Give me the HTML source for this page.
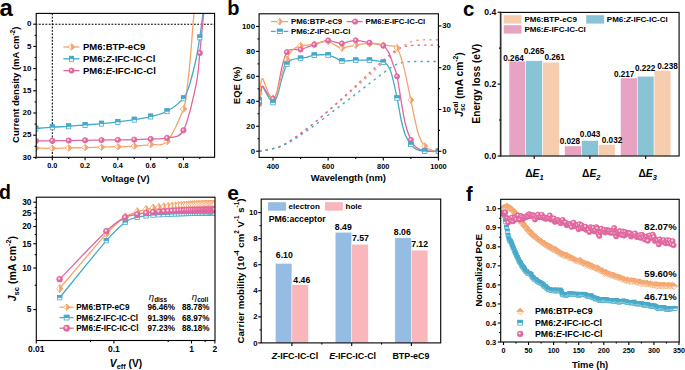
<!DOCTYPE html>
<html><head><meta charset="utf-8"><style>
html,body{margin:0;padding:0;background:#fff;}
svg{display:block;font-family:"Liberation Sans", sans-serif;}
</style></head><body>
<svg width="685" height="370" viewBox="0 0 685 370">
<defs><radialGradient id="gpk" cx="0.4" cy="0.4" r="0.6"><stop offset="0" stop-color="#fff"/><stop offset="0.22" stop-color="#f5bfd7"/><stop offset="0.5" stop-color="#E0679E"/><stop offset="1" stop-color="#E0679E"/></radialGradient><clipPath id="ca"><rect x="36.2" y="13.4" width="178.4" height="143.9"/></clipPath><clipPath id="cb"><rect x="259.1" y="13.8" width="179.3" height="143.6"/></clipPath><clipPath id="cd"><rect x="36.3" y="197.2" width="178.7" height="143.3"/></clipPath><clipPath id="cf"><rect x="500.7" y="199.3" width="178.5" height="142.7"/></clipPath></defs>
<rect width="685" height="370" fill="#fff"/>
<text x="-0.6" y="16.1" font-size="24" text-anchor="start" font-weight="bold" fill="#000">a</text>
<g clip-path="url(#ca)">
<line x1="36.2" y1="24.2" x2="214.6" y2="24.2" stroke="#000" stroke-width="1.05" stroke-dasharray="1.9,1.4" stroke-dashoffset="0.7"/>
<line x1="52.3" y1="13.4" x2="52.3" y2="157.3" stroke="#000" stroke-width="1.05" stroke-dasharray="1.9,1.4"/>
<path d="M35.91,148.08 C38.64,148.11 46.84,148.34 52.3,148.3 C57.76,148.26 63.23,147.97 68.69,147.85 C74.15,147.74 79.62,147.74 85.08,147.63 C90.54,147.52 96.01,147.34 101.47,147.19 C106.93,147.04 112.4,146.93 117.86,146.74 C123.32,146.56 128.79,146.45 134.25,146.08 C139.71,145.71 145.18,145.3 150.64,144.52 C156.1,143.75 161.57,147.34 167.03,141.42 C172.49,135.5 180.02,118.4 183.42,109 C186.82,99.61 186.29,93.2 187.42,85.03 C188.55,76.86 189.26,69.99 190.19,59.99 C191.12,49.98 192.34,33.04 192.99,25 C193.64,16.96 193.89,13.97 194.07,11.77" fill="none" stroke="#F4A46C" stroke-width="1.3" stroke-linecap="butt" stroke-linejoin="round"/>
<path d="M35.91,128.54 C38.64,128.32 46.84,127.58 52.3,127.21 C57.76,126.84 63.23,126.69 68.69,126.32 C74.15,125.95 79.62,125.43 85.08,124.99 C90.54,124.54 96.01,124.17 101.47,123.66 C106.93,123.14 112.4,122.55 117.86,121.88 C123.32,121.21 128.79,120.55 134.25,119.66 C139.71,118.77 145.18,117.96 150.64,116.55 C156.1,115.15 161.57,114.26 167.03,111.22 C172.49,108.19 179.69,102.71 183.42,98.35 C187.15,93.98 187.33,91.42 189.4,85.03 C191.48,78.63 194.14,67.93 195.88,59.99 C197.61,52.05 198.59,45.42 199.81,37.39 C201.03,29.35 202.61,16.04 203.17,11.77" fill="none" stroke="#45A9C8" stroke-width="1.3" stroke-linecap="butt" stroke-linejoin="round"/>
<path d="M35.91,140.97 C38.64,140.94 46.84,140.82 52.3,140.75 C57.76,140.68 63.23,140.6 68.69,140.53 C74.15,140.45 79.62,140.38 85.08,140.31 C90.54,140.23 96.01,140.16 101.47,140.08 C106.93,140.01 112.4,139.94 117.86,139.86 C123.32,139.79 128.79,139.79 134.25,139.64 C139.71,139.49 145.18,139.27 150.64,138.97 C156.1,138.68 161.57,139.31 167.03,137.86 C172.49,136.42 178.59,139.12 183.42,130.32 C188.25,121.51 193.28,97.9 196.01,85.03 C198.74,72.15 198.51,65.27 199.81,53.06 C201.11,40.85 203.16,18.65 203.83,11.77" fill="none" stroke="#E0679E" stroke-width="1.3" stroke-linecap="butt" stroke-linejoin="round"/>
<polygon points="32.51,148.08 35.91,145.08 39.31,148.08 35.91,151.08" fill="#fff" stroke="#F4A46C" stroke-width="0.8"/>
<polygon points="35.91,145.08 39.31,148.08 35.91,151.08" fill="#F4A46C" stroke="#F4A46C" stroke-width="0.8" stroke-linejoin="round"/>
<polygon points="48.9,148.3 52.3,145.3 55.7,148.3 52.3,151.3" fill="#fff" stroke="#F4A46C" stroke-width="0.8"/>
<polygon points="52.3,145.3 55.7,148.3 52.3,151.3" fill="#F4A46C" stroke="#F4A46C" stroke-width="0.8" stroke-linejoin="round"/>
<polygon points="65.29,147.85 68.69,144.85 72.09,147.85 68.69,150.85" fill="#fff" stroke="#F4A46C" stroke-width="0.8"/>
<polygon points="68.69,144.85 72.09,147.85 68.69,150.85" fill="#F4A46C" stroke="#F4A46C" stroke-width="0.8" stroke-linejoin="round"/>
<polygon points="81.68,147.63 85.08,144.63 88.48,147.63 85.08,150.63" fill="#fff" stroke="#F4A46C" stroke-width="0.8"/>
<polygon points="85.08,144.63 88.48,147.63 85.08,150.63" fill="#F4A46C" stroke="#F4A46C" stroke-width="0.8" stroke-linejoin="round"/>
<polygon points="98.07,147.19 101.47,144.19 104.87,147.19 101.47,150.19" fill="#fff" stroke="#F4A46C" stroke-width="0.8"/>
<polygon points="101.47,144.19 104.87,147.19 101.47,150.19" fill="#F4A46C" stroke="#F4A46C" stroke-width="0.8" stroke-linejoin="round"/>
<polygon points="114.46,146.74 117.86,143.74 121.26,146.74 117.86,149.74" fill="#fff" stroke="#F4A46C" stroke-width="0.8"/>
<polygon points="117.86,143.74 121.26,146.74 117.86,149.74" fill="#F4A46C" stroke="#F4A46C" stroke-width="0.8" stroke-linejoin="round"/>
<polygon points="130.85,146.08 134.25,143.08 137.65,146.08 134.25,149.08" fill="#fff" stroke="#F4A46C" stroke-width="0.8"/>
<polygon points="134.25,143.08 137.65,146.08 134.25,149.08" fill="#F4A46C" stroke="#F4A46C" stroke-width="0.8" stroke-linejoin="round"/>
<polygon points="147.24,144.52 150.64,141.52 154.04,144.52 150.64,147.52" fill="#fff" stroke="#F4A46C" stroke-width="0.8"/>
<polygon points="150.64,141.52 154.04,144.52 150.64,147.52" fill="#F4A46C" stroke="#F4A46C" stroke-width="0.8" stroke-linejoin="round"/>
<polygon points="163.63,141.42 167.03,138.42 170.43,141.42 167.03,144.42" fill="#fff" stroke="#F4A46C" stroke-width="0.8"/>
<polygon points="167.03,138.42 170.43,141.42 167.03,144.42" fill="#F4A46C" stroke="#F4A46C" stroke-width="0.8" stroke-linejoin="round"/>
<polygon points="180.02,109 183.42,106 186.82,109 183.42,112" fill="#fff" stroke="#F4A46C" stroke-width="0.8"/>
<polygon points="183.42,106 186.82,109 183.42,112" fill="#F4A46C" stroke="#F4A46C" stroke-width="0.8" stroke-linejoin="round"/>
<rect x="33.81" y="126.04" width="4.2" height="5" fill="#fff" stroke="#45A9C8" stroke-width="0.8"/>
<rect x="33.81" y="126.04" width="4.2" height="2.5" fill="#45A9C8" stroke="#45A9C8" stroke-width="0.8"/>
<rect x="50.2" y="124.71" width="4.2" height="5" fill="#fff" stroke="#45A9C8" stroke-width="0.8"/>
<rect x="50.2" y="124.71" width="4.2" height="2.5" fill="#45A9C8" stroke="#45A9C8" stroke-width="0.8"/>
<rect x="66.59" y="123.82" width="4.2" height="5" fill="#fff" stroke="#45A9C8" stroke-width="0.8"/>
<rect x="66.59" y="123.82" width="4.2" height="2.5" fill="#45A9C8" stroke="#45A9C8" stroke-width="0.8"/>
<rect x="82.98" y="122.49" width="4.2" height="5" fill="#fff" stroke="#45A9C8" stroke-width="0.8"/>
<rect x="82.98" y="122.49" width="4.2" height="2.5" fill="#45A9C8" stroke="#45A9C8" stroke-width="0.8"/>
<rect x="99.37" y="121.16" width="4.2" height="5" fill="#fff" stroke="#45A9C8" stroke-width="0.8"/>
<rect x="99.37" y="121.16" width="4.2" height="2.5" fill="#45A9C8" stroke="#45A9C8" stroke-width="0.8"/>
<rect x="115.76" y="119.38" width="4.2" height="5" fill="#fff" stroke="#45A9C8" stroke-width="0.8"/>
<rect x="115.76" y="119.38" width="4.2" height="2.5" fill="#45A9C8" stroke="#45A9C8" stroke-width="0.8"/>
<rect x="132.15" y="117.16" width="4.2" height="5" fill="#fff" stroke="#45A9C8" stroke-width="0.8"/>
<rect x="132.15" y="117.16" width="4.2" height="2.5" fill="#45A9C8" stroke="#45A9C8" stroke-width="0.8"/>
<rect x="148.54" y="114.05" width="4.2" height="5" fill="#fff" stroke="#45A9C8" stroke-width="0.8"/>
<rect x="148.54" y="114.05" width="4.2" height="2.5" fill="#45A9C8" stroke="#45A9C8" stroke-width="0.8"/>
<rect x="164.93" y="108.72" width="4.2" height="5" fill="#fff" stroke="#45A9C8" stroke-width="0.8"/>
<rect x="164.93" y="108.72" width="4.2" height="2.5" fill="#45A9C8" stroke="#45A9C8" stroke-width="0.8"/>
<rect x="181.32" y="95.85" width="4.2" height="5" fill="#fff" stroke="#45A9C8" stroke-width="0.8"/>
<rect x="181.32" y="95.85" width="4.2" height="2.5" fill="#45A9C8" stroke="#45A9C8" stroke-width="0.8"/>
<rect x="197.71" y="34.89" width="4.2" height="5" fill="#fff" stroke="#45A9C8" stroke-width="0.8"/>
<rect x="197.71" y="34.89" width="4.2" height="2.5" fill="#45A9C8" stroke="#45A9C8" stroke-width="0.8"/>
<circle cx="35.91" cy="140.97" r="2.7" fill="url(#gpk)" stroke="#E0679E" stroke-width="0.7"/>
<circle cx="52.3" cy="140.75" r="2.7" fill="url(#gpk)" stroke="#E0679E" stroke-width="0.7"/>
<circle cx="68.69" cy="140.53" r="2.7" fill="url(#gpk)" stroke="#E0679E" stroke-width="0.7"/>
<circle cx="85.08" cy="140.31" r="2.7" fill="url(#gpk)" stroke="#E0679E" stroke-width="0.7"/>
<circle cx="101.47" cy="140.08" r="2.7" fill="url(#gpk)" stroke="#E0679E" stroke-width="0.7"/>
<circle cx="117.86" cy="139.86" r="2.7" fill="url(#gpk)" stroke="#E0679E" stroke-width="0.7"/>
<circle cx="134.25" cy="139.64" r="2.7" fill="url(#gpk)" stroke="#E0679E" stroke-width="0.7"/>
<circle cx="150.64" cy="138.97" r="2.7" fill="url(#gpk)" stroke="#E0679E" stroke-width="0.7"/>
<circle cx="167.03" cy="137.86" r="2.7" fill="url(#gpk)" stroke="#E0679E" stroke-width="0.7"/>
<circle cx="183.42" cy="130.32" r="2.7" fill="url(#gpk)" stroke="#E0679E" stroke-width="0.7"/>
<circle cx="199.81" cy="53.06" r="2.7" fill="url(#gpk)" stroke="#E0679E" stroke-width="0.7"/>
</g>
<rect x="36.2" y="13.4" width="178.4" height="143.9" fill="none" stroke="#000" stroke-width="1.1"/>
<line x1="33.2" y1="24.2" x2="36.2" y2="24.2" stroke="#000" stroke-width="1.1"/>
<text x="31.4" y="26.4" font-size="8.0" text-anchor="end" font-weight="bold" fill="#000">0</text>
<line x1="33.2" y1="46.4" x2="36.2" y2="46.4" stroke="#000" stroke-width="1.1"/>
<text x="31.4" y="48.6" font-size="8.0" text-anchor="end" font-weight="bold" fill="#000">5</text>
<line x1="33.2" y1="68.6" x2="36.2" y2="68.6" stroke="#000" stroke-width="1.1"/>
<text x="31.4" y="70.8" font-size="8.0" text-anchor="end" font-weight="bold" fill="#000">10</text>
<line x1="33.2" y1="90.8" x2="36.2" y2="90.8" stroke="#000" stroke-width="1.1"/>
<text x="31.4" y="93" font-size="8.0" text-anchor="end" font-weight="bold" fill="#000">15</text>
<line x1="33.2" y1="113" x2="36.2" y2="113" stroke="#000" stroke-width="1.1"/>
<text x="31.4" y="115.2" font-size="8.0" text-anchor="end" font-weight="bold" fill="#000">20</text>
<line x1="33.2" y1="135.2" x2="36.2" y2="135.2" stroke="#000" stroke-width="1.1"/>
<text x="31.4" y="137.4" font-size="8.0" text-anchor="end" font-weight="bold" fill="#000">25</text>
<line x1="33.2" y1="157.4" x2="36.2" y2="157.4" stroke="#000" stroke-width="1.1"/>
<text x="31.4" y="159.6" font-size="8.0" text-anchor="end" font-weight="bold" fill="#000">30</text>
<line x1="34.6" y1="35.3" x2="36.2" y2="35.3" stroke="#000" stroke-width="1.1"/>
<line x1="34.6" y1="57.5" x2="36.2" y2="57.5" stroke="#000" stroke-width="1.1"/>
<line x1="34.6" y1="79.7" x2="36.2" y2="79.7" stroke="#000" stroke-width="1.1"/>
<line x1="34.6" y1="101.9" x2="36.2" y2="101.9" stroke="#000" stroke-width="1.1"/>
<line x1="34.6" y1="124.1" x2="36.2" y2="124.1" stroke="#000" stroke-width="1.1"/>
<line x1="34.6" y1="146.3" x2="36.2" y2="146.3" stroke="#000" stroke-width="1.1"/>
<line x1="52.3" y1="157.3" x2="52.3" y2="160.3" stroke="#000" stroke-width="1.1"/>
<text x="52.3" y="168" font-size="7.3" text-anchor="middle" font-weight="bold" fill="#000">0.0</text>
<line x1="85.08" y1="157.3" x2="85.08" y2="160.3" stroke="#000" stroke-width="1.1"/>
<text x="85.08" y="168" font-size="7.3" text-anchor="middle" font-weight="bold" fill="#000">0.2</text>
<line x1="117.86" y1="157.3" x2="117.86" y2="160.3" stroke="#000" stroke-width="1.1"/>
<text x="117.86" y="168" font-size="7.3" text-anchor="middle" font-weight="bold" fill="#000">0.4</text>
<line x1="150.64" y1="157.3" x2="150.64" y2="160.3" stroke="#000" stroke-width="1.1"/>
<text x="150.64" y="168" font-size="7.3" text-anchor="middle" font-weight="bold" fill="#000">0.6</text>
<line x1="183.42" y1="157.3" x2="183.42" y2="160.3" stroke="#000" stroke-width="1.1"/>
<text x="183.42" y="168" font-size="7.3" text-anchor="middle" font-weight="bold" fill="#000">0.8</text>
<line x1="35.91" y1="157.3" x2="35.91" y2="158.9" stroke="#000" stroke-width="1.1"/>
<line x1="68.69" y1="157.3" x2="68.69" y2="158.9" stroke="#000" stroke-width="1.1"/>
<line x1="101.47" y1="157.3" x2="101.47" y2="158.9" stroke="#000" stroke-width="1.1"/>
<line x1="134.25" y1="157.3" x2="134.25" y2="158.9" stroke="#000" stroke-width="1.1"/>
<line x1="167.03" y1="157.3" x2="167.03" y2="158.9" stroke="#000" stroke-width="1.1"/>
<line x1="199.81" y1="157.3" x2="199.81" y2="158.9" stroke="#000" stroke-width="1.1"/>
<text x="125.4" y="182.3" font-size="9.4" text-anchor="middle" font-weight="bold" fill="#000">Voltage (V)</text>
<text x="19" y="84.8" font-size="9.5" text-anchor="middle" font-weight="bold" fill="#000" transform="rotate(-90 19 84.8)">Current density (mA cm<tspan dy="-4.0" font-size="6.5">-2</tspan><tspan dy="4.0">)</tspan></text>
<line x1="63.4" y1="47" x2="79.5" y2="47" stroke="#F4A46C" stroke-width="1.3"/>
<polygon points="68.1,47 71.5,44 74.9,47 71.5,50" fill="#fff" stroke="#F4A46C" stroke-width="0.8"/>
<polygon points="71.5,44 74.9,47 71.5,50" fill="#F4A46C" stroke="#F4A46C" stroke-width="0.8" stroke-linejoin="round"/>
<text x="83" y="50.4" font-size="9.5" text-anchor="start" font-weight="bold" fill="#000">PM6:BTP-eC9</text>
<line x1="63.4" y1="58.8" x2="79.5" y2="58.8" stroke="#45A9C8" stroke-width="1.3"/>
<rect x="69.4" y="56.3" width="4.2" height="5" fill="#fff" stroke="#45A9C8" stroke-width="0.8"/>
<rect x="69.4" y="56.3" width="4.2" height="2.5" fill="#45A9C8" stroke="#45A9C8" stroke-width="0.8"/>
<text x="83" y="62.2" font-size="9.5" text-anchor="start" font-weight="bold" fill="#000">PM6:<tspan font-style="italic">Z</tspan>-IFC-IC-Cl</text>
<line x1="63.4" y1="70.6" x2="79.5" y2="70.6" stroke="#E0679E" stroke-width="1.3"/>
<circle cx="71.5" cy="70.6" r="2.7" fill="url(#gpk)" stroke="#E0679E" stroke-width="0.7"/>
<text x="83" y="74" font-size="9.5" text-anchor="start" font-weight="bold" fill="#000">PM6:<tspan font-style="italic">E</tspan>-IFC-IC-Cl</text>
<text x="227.2" y="14.6" font-size="20" text-anchor="start" font-weight="bold" fill="#000">b</text>
<g clip-path="url(#cb)">
<polyline points="259.21,151.23 260.87,151 262.52,150.7 264.18,150.37 265.83,150.03 267.49,149.68 269.14,149.33 270.79,148.96 272.45,148.58 274.1,148.17 275.76,147.73 277.41,147.26 279.07,146.71 280.72,146.08 282.37,145.36 284.03,144.57 285.68,143.71 287.34,142.76 288.99,141.77 290.64,140.73 292.3,139.65 293.95,138.53 295.61,137.38 297.26,136.2 298.92,135 300.57,133.76 302.22,132.51 303.88,131.25 305.53,129.98 307.19,128.7 308.84,127.4 310.5,126.1 312.15,124.78 313.8,123.44 315.46,122.1 317.11,120.74 318.77,119.36 320.42,117.97 322.07,116.56 323.73,115.14 325.38,113.71 327.04,112.26 328.69,110.81 330.35,109.36 332,107.92 333.65,106.49 335.31,105.06 336.96,103.65 338.62,102.23 340.27,100.82 341.93,99.42 343.58,98.01 345.23,96.59 346.89,95.16 348.54,93.72 350.2,92.27 351.85,90.82 353.5,89.35 355.16,87.88 356.81,86.4 358.47,84.92 360.12,83.43 361.78,81.94 363.43,80.44 365.08,78.94 366.74,77.45 368.39,75.95 370.05,74.45 371.7,72.95 373.35,71.45 375.01,69.96 376.66,68.46 378.32,66.97 379.97,65.48 381.63,64 383.28,62.52 384.93,61.04 386.59,59.58 388.24,58.13 389.9,56.68 391.55,55.25 393.21,53.84 394.86,52.43 396.51,51.04 398.17,49.69 399.82,48.4 401.48,47.17 403.13,46.01 404.78,44.95 406.44,43.98 408.09,43.11 409.75,42.35 411.4,41.7 413.06,41.17 414.71,40.76 416.36,40.45 418.02,40.22 419.67,40.07 421.33,39.95 422.98,39.87 424.63,39.82 426.29,39.78 427.94,39.75 429.6,39.73 431.25,39.71 432.91,39.71 434.56,39.7 436.21,39.7 437.87,39.69" fill="none" stroke="#F4A46C" stroke-width="1.4" stroke-linejoin="round" stroke-dasharray="2.4,4.1"/>
<polyline points="259.21,151.25 260.87,151.04 262.52,150.77 264.18,150.47 265.83,150.15 267.49,149.82 269.14,149.47 270.79,149.1 272.45,148.72 274.1,148.32 275.76,147.87 277.41,147.37 279.07,146.8 280.72,146.12 282.37,145.34 284.03,144.48 285.68,143.53 287.34,142.5 288.99,141.44 290.64,140.36 292.3,139.25 293.95,138.11 295.61,136.96 297.26,135.79 298.92,134.6 300.57,133.4 302.22,132.17 303.88,130.93 305.53,129.68 307.19,128.41 308.84,127.12 310.5,125.81 312.15,124.49 313.8,123.15 315.46,121.8 317.11,120.42 318.77,119.03 320.42,117.62 322.07,116.2 323.73,114.76 325.38,113.3 327.04,111.83 328.69,110.35 330.35,108.86 332,107.38 333.65,105.89 335.31,104.41 336.96,102.92 338.62,101.44 340.27,99.96 341.93,98.47 343.58,96.98 345.23,95.48 346.89,93.97 348.54,92.45 350.2,90.92 351.85,89.38 353.5,87.83 355.16,86.27 356.81,84.71 358.47,83.15 360.12,81.59 361.78,80.04 363.43,78.49 365.08,76.95 366.74,75.41 368.39,73.87 370.05,72.34 371.7,70.82 373.35,69.29 375.01,67.77 376.66,66.26 378.32,64.75 379.97,63.25 381.63,61.75 383.28,60.26 384.93,58.8 386.59,57.37 388.24,55.98 389.9,54.63 391.55,53.36 393.21,52.15 394.86,51.02 396.51,49.96 398.17,48.99 399.82,48.17 401.48,47.48 403.13,46.91 404.78,46.47 406.44,46.13 408.09,45.86 409.75,45.65 411.4,45.5 413.06,45.39 414.71,45.31 416.36,45.25 418.02,45.22 419.67,45.19 421.33,45.17 422.98,45.16 424.63,45.15 426.29,45.15 427.94,45.14 429.6,45.14 431.25,45.13 432.91,45.13 434.56,45.13 436.21,45.13 437.87,45.13" fill="none" stroke="#E0679E" stroke-width="1.4" stroke-linejoin="round" stroke-dasharray="2.4,4.1"/>
<polyline points="259.21,151.24 260.87,151.03 262.52,150.76 264.18,150.47 265.83,150.16 267.49,149.83 269.14,149.5 270.79,149.16 272.45,148.8 274.1,148.43 275.76,148.02 277.41,147.57 279.07,147.05 280.72,146.46 282.37,145.79 284.03,145.04 285.68,144.22 287.34,143.32 288.99,142.39 290.64,141.43 292.3,140.43 293.95,139.41 295.61,138.38 297.26,137.32 298.92,136.25 300.57,135.15 302.22,134.04 303.88,132.92 305.53,131.79 307.19,130.64 308.84,129.48 310.5,128.31 312.15,127.12 313.8,125.92 315.46,124.71 317.11,123.49 318.77,122.25 320.42,121.01 322.07,119.76 323.73,118.5 325.38,117.23 327.04,115.96 328.69,114.68 330.35,113.4 332,112.13 333.65,110.86 335.31,109.59 336.96,108.33 338.62,107.08 340.27,105.84 341.93,104.6 343.58,103.37 345.23,102.12 346.89,100.88 348.54,99.63 350.2,98.37 351.85,97.11 353.5,95.84 355.16,94.57 356.81,93.29 358.47,92.01 360.12,90.74 361.78,89.46 363.43,88.18 365.08,86.9 366.74,85.63 368.39,84.35 370.05,83.07 371.7,81.8 373.35,80.52 375.01,79.25 376.66,77.98 378.32,76.72 379.97,75.46 381.63,74.2 383.28,72.95 384.93,71.72 386.59,70.51 388.24,69.32 389.9,68.2 391.55,67.12 393.21,66.13 394.86,65.25 396.51,64.46 398.17,63.79 399.82,63.24 401.48,62.8 403.13,62.45 404.78,62.19 406.44,61.99 408.09,61.83 409.75,61.7 411.4,61.61 413.06,61.55 414.71,61.5 416.36,61.47 418.02,61.46 419.67,61.44 421.33,61.44 422.98,61.43 424.63,61.43 426.29,61.43 427.94,61.43 429.6,61.43 431.25,61.43 432.91,61.43 434.56,61.43 436.21,61.43 437.87,61.43" fill="none" stroke="#45A9C8" stroke-width="1.4" stroke-linejoin="round" stroke-dasharray="2.4,4.1"/>
<path d="M259.21,100.05 C259.67,97.87 260.96,88.41 261.97,86.95 C262.98,85.5 264.13,89.55 265.28,91.32 C266.43,93.09 267.58,95.69 268.86,97.56 C270.15,99.43 271.62,102.76 273,102.55 C274.38,102.34 275.67,100.26 277.14,96.31 C278.61,92.36 280.21,84.19 281.82,78.84 C283.43,73.5 285.04,67.47 286.79,64.25 C288.53,61.03 290,60.51 292.3,59.51 C294.6,58.51 298.04,58.68 300.57,58.26 C303.1,57.85 305.16,57.53 307.46,57.01 C309.76,56.49 312.06,55.52 314.36,55.14 C316.65,54.77 318.95,54.79 321.25,54.77 C323.55,54.75 325.84,54.54 328.14,55.02 C330.44,55.5 332.74,56.64 335.03,57.64 C337.33,58.64 339.63,60.49 341.93,61.01 C344.22,61.53 346.52,60.9 348.82,60.76 C351.12,60.61 353.41,60.24 355.71,60.13 C358.01,60.03 360.31,60.13 362.6,60.13 C364.9,60.13 367.2,60.03 369.5,60.13 C371.79,60.24 374.09,60.42 376.39,60.76 C378.69,61.09 381.44,61.4 383.28,62.13 C385.12,62.86 386.04,63.17 387.42,65.12 C388.79,67.08 389.94,68.39 391.55,73.85 C393.16,79.32 395.46,90.24 397.06,97.93 C398.67,105.62 399.82,113.84 401.2,120.01 C402.58,126.19 403.73,130.93 405.34,134.98 C406.94,139.04 409.01,141.95 410.85,144.34 C412.69,146.73 414.07,148.19 416.36,149.33 C418.66,150.47 420.96,150.89 424.63,151.2 C428.31,151.51 436.12,151.2 438.42,151.2" fill="none" stroke="#45A9C8" stroke-width="1.3" stroke-linecap="butt" stroke-linejoin="round"/>
<path d="M259.21,103.79 C259.67,100.95 260.96,88.99 261.97,86.7 C262.98,84.42 264.13,88.68 265.28,90.07 C266.43,91.47 267.58,93.61 268.86,95.06 C270.15,96.52 271.62,99.43 273,98.8 C274.38,98.18 275.67,96.52 277.14,91.32 C278.61,86.12 280.21,74.15 281.82,67.62 C283.43,61.09 285.04,55.16 286.79,52.15 C288.53,49.13 290,49.97 292.3,49.53 C294.6,49.09 298.04,49.94 300.57,49.53 C303.1,49.11 305.16,47.84 307.46,47.03 C309.76,46.22 312.06,45.5 314.36,44.66 C316.65,43.83 318.95,42.75 321.25,42.04 C323.55,41.34 325.84,40.42 328.14,40.42 C330.44,40.42 332.74,41.54 335.03,42.04 C337.33,42.54 339.63,43.48 341.93,43.42 C344.22,43.35 346.52,42.19 348.82,41.67 C351.12,41.15 353.41,40.34 355.71,40.3 C358.01,40.26 360.31,41.02 362.6,41.42 C364.9,41.82 367.2,42.25 369.5,42.67 C371.79,43.08 374.09,43.42 376.39,43.91 C378.69,44.41 381.21,44.21 383.28,45.66 C385.35,47.12 387.19,49.61 388.79,52.65 C390.4,55.68 391.55,59.92 392.93,63.87 C394.31,67.83 395.69,70.11 397.06,76.35 C398.44,82.59 399.82,93.4 401.2,101.3 C402.58,109.2 403.73,117.33 405.34,123.75 C406.94,130.18 409.01,135.9 410.85,139.85 C412.69,143.8 414.07,145.67 416.36,147.46 C418.66,149.25 420.96,149.95 424.63,150.58 C428.31,151.2 436.12,151.1 438.42,151.2" fill="none" stroke="#E0679E" stroke-width="1.3" stroke-linecap="butt" stroke-linejoin="round"/>
<path d="M259.21,93.81 C259.67,91.32 260.96,80.3 261.97,78.84 C262.98,77.39 264.13,82.59 265.28,85.08 C266.43,87.58 267.58,91.63 268.86,93.81 C270.15,96 271.62,98.39 273,98.18 C274.38,97.97 275.67,96.62 277.14,92.57 C278.61,88.51 280.21,79.41 281.82,73.85 C283.43,68.3 285.04,63.21 286.79,59.26 C288.53,55.31 290,52.42 292.3,50.15 C294.6,47.89 298.04,46.49 300.57,45.66 C303.1,44.83 305.16,45.41 307.46,45.16 C309.76,44.91 312.06,44.68 314.36,44.16 C316.65,43.64 318.95,42.5 321.25,42.04 C323.55,41.59 325.84,40.9 328.14,41.42 C330.44,41.94 332.74,44.06 335.03,45.16 C337.33,46.26 339.63,47.82 341.93,48.03 C344.22,48.24 346.52,46.89 348.82,46.41 C351.12,45.93 353.41,45.58 355.71,45.16 C358.01,44.75 360.31,44.16 362.6,43.91 C364.9,43.67 367.2,43.67 369.5,43.67 C371.79,43.67 374.09,43.67 376.39,43.91 C378.69,44.16 380.98,44.85 383.28,45.16 C385.58,45.47 387.88,45.33 390.17,45.79 C392.47,46.24 395,45.1 397.06,47.91 C399.13,50.71 400.97,57.26 402.58,62.63 C404.19,67.99 405.34,73.85 406.71,80.09 C408.09,86.33 409.47,93.4 410.85,100.05 C412.23,106.71 413.61,113.98 414.99,120.01 C416.36,126.04 417.51,131.88 419.12,136.23 C420.73,140.58 422.57,143.76 424.63,146.09 C426.7,148.41 429.23,149.35 431.53,150.2 C433.83,151.05 437.27,151.03 438.42,151.2" fill="none" stroke="#F4A46C" stroke-width="1.3" stroke-linecap="butt" stroke-linejoin="round"/>
<polygon points="256.31,93.81 259.21,90.51 262.11,93.81 259.21,97.11" fill="#fff" stroke="#F4A46C" stroke-width="0.8"/>
<polygon points="259.21,90.51 262.11,93.81 259.21,97.11" fill="#F4A46C" stroke="#F4A46C" stroke-width="0.8" stroke-linejoin="round"/>
<polygon points="270.1,98.18 273,94.88 275.9,98.18 273,101.48" fill="#fff" stroke="#F4A46C" stroke-width="0.8"/>
<polygon points="273,94.88 275.9,98.18 273,101.48" fill="#F4A46C" stroke="#F4A46C" stroke-width="0.8" stroke-linejoin="round"/>
<polygon points="283.89,59.26 286.79,55.96 289.69,59.26 286.79,62.56" fill="#fff" stroke="#F4A46C" stroke-width="0.8"/>
<polygon points="286.79,55.96 289.69,59.26 286.79,62.56" fill="#F4A46C" stroke="#F4A46C" stroke-width="0.8" stroke-linejoin="round"/>
<polygon points="297.67,45.66 300.57,42.36 303.47,45.66 300.57,48.96" fill="#fff" stroke="#F4A46C" stroke-width="0.8"/>
<polygon points="300.57,42.36 303.47,45.66 300.57,48.96" fill="#F4A46C" stroke="#F4A46C" stroke-width="0.8" stroke-linejoin="round"/>
<polygon points="311.46,44.16 314.36,40.86 317.25,44.16 314.36,47.46" fill="#fff" stroke="#F4A46C" stroke-width="0.8"/>
<polygon points="314.36,40.86 317.25,44.16 314.36,47.46" fill="#F4A46C" stroke="#F4A46C" stroke-width="0.8" stroke-linejoin="round"/>
<polygon points="325.24,41.42 328.14,38.12 331.04,41.42 328.14,44.72" fill="#fff" stroke="#F4A46C" stroke-width="0.8"/>
<polygon points="328.14,38.12 331.04,41.42 328.14,44.72" fill="#F4A46C" stroke="#F4A46C" stroke-width="0.8" stroke-linejoin="round"/>
<polygon points="339.03,48.03 341.93,44.73 344.82,48.03 341.93,51.33" fill="#fff" stroke="#F4A46C" stroke-width="0.8"/>
<polygon points="341.93,44.73 344.82,48.03 341.93,51.33" fill="#F4A46C" stroke="#F4A46C" stroke-width="0.8" stroke-linejoin="round"/>
<polygon points="352.81,45.16 355.71,41.86 358.61,45.16 355.71,48.46" fill="#fff" stroke="#F4A46C" stroke-width="0.8"/>
<polygon points="355.71,41.86 358.61,45.16 355.71,48.46" fill="#F4A46C" stroke="#F4A46C" stroke-width="0.8" stroke-linejoin="round"/>
<polygon points="366.6,43.67 369.5,40.37 372.39,43.67 369.5,46.97" fill="#fff" stroke="#F4A46C" stroke-width="0.8"/>
<polygon points="369.5,40.37 372.39,43.67 369.5,46.97" fill="#F4A46C" stroke="#F4A46C" stroke-width="0.8" stroke-linejoin="round"/>
<polygon points="380.38,45.16 383.28,41.86 386.18,45.16 383.28,48.46" fill="#fff" stroke="#F4A46C" stroke-width="0.8"/>
<polygon points="383.28,41.86 386.18,45.16 383.28,48.46" fill="#F4A46C" stroke="#F4A46C" stroke-width="0.8" stroke-linejoin="round"/>
<polygon points="394.17,47.91 397.06,44.61 399.96,47.91 397.06,51.21" fill="#fff" stroke="#F4A46C" stroke-width="0.8"/>
<polygon points="397.06,44.61 399.96,47.91 397.06,51.21" fill="#F4A46C" stroke="#F4A46C" stroke-width="0.8" stroke-linejoin="round"/>
<polygon points="407.95,100.05 410.85,96.75 413.75,100.05 410.85,103.35" fill="#fff" stroke="#F4A46C" stroke-width="0.8"/>
<polygon points="410.85,96.75 413.75,100.05 410.85,103.35" fill="#F4A46C" stroke="#F4A46C" stroke-width="0.8" stroke-linejoin="round"/>
<polygon points="421.74,146.09 424.63,142.79 427.53,146.09 424.63,149.39" fill="#fff" stroke="#F4A46C" stroke-width="0.8"/>
<polygon points="424.63,142.79 427.53,146.09 424.63,149.39" fill="#F4A46C" stroke="#F4A46C" stroke-width="0.8" stroke-linejoin="round"/>
<polygon points="435.52,151.2 438.42,147.9 441.32,151.2 438.42,154.5" fill="#fff" stroke="#F4A46C" stroke-width="0.8"/>
<polygon points="438.42,147.9 441.32,151.2 438.42,154.5" fill="#F4A46C" stroke="#F4A46C" stroke-width="0.8" stroke-linejoin="round"/>
<circle cx="259.21" cy="103.79" r="2.6" fill="url(#gpk)" stroke="#E0679E" stroke-width="0.7"/>
<circle cx="273" cy="98.8" r="2.6" fill="url(#gpk)" stroke="#E0679E" stroke-width="0.7"/>
<circle cx="286.79" cy="52.15" r="2.6" fill="url(#gpk)" stroke="#E0679E" stroke-width="0.7"/>
<circle cx="300.57" cy="49.53" r="2.6" fill="url(#gpk)" stroke="#E0679E" stroke-width="0.7"/>
<circle cx="314.36" cy="44.66" r="2.6" fill="url(#gpk)" stroke="#E0679E" stroke-width="0.7"/>
<circle cx="328.14" cy="40.42" r="2.6" fill="url(#gpk)" stroke="#E0679E" stroke-width="0.7"/>
<circle cx="341.93" cy="43.42" r="2.6" fill="url(#gpk)" stroke="#E0679E" stroke-width="0.7"/>
<circle cx="355.71" cy="40.3" r="2.6" fill="url(#gpk)" stroke="#E0679E" stroke-width="0.7"/>
<circle cx="369.5" cy="42.67" r="2.6" fill="url(#gpk)" stroke="#E0679E" stroke-width="0.7"/>
<circle cx="383.28" cy="45.66" r="2.6" fill="url(#gpk)" stroke="#E0679E" stroke-width="0.7"/>
<circle cx="397.06" cy="76.35" r="2.6" fill="url(#gpk)" stroke="#E0679E" stroke-width="0.7"/>
<circle cx="410.85" cy="139.85" r="2.6" fill="url(#gpk)" stroke="#E0679E" stroke-width="0.7"/>
<circle cx="424.63" cy="150.58" r="2.6" fill="url(#gpk)" stroke="#E0679E" stroke-width="0.7"/>
<circle cx="438.42" cy="151.2" r="2.6" fill="url(#gpk)" stroke="#E0679E" stroke-width="0.7"/>
<rect x="256.91" y="97.75" width="4.6" height="4.6" fill="#fff" stroke="#45A9C8" stroke-width="0.8"/>
<rect x="256.91" y="97.75" width="4.6" height="2.3" fill="#45A9C8" stroke="#45A9C8" stroke-width="0.8"/>
<rect x="270.7" y="100.25" width="4.6" height="4.6" fill="#fff" stroke="#45A9C8" stroke-width="0.8"/>
<rect x="270.7" y="100.25" width="4.6" height="2.3" fill="#45A9C8" stroke="#45A9C8" stroke-width="0.8"/>
<rect x="284.49" y="61.95" width="4.6" height="4.6" fill="#fff" stroke="#45A9C8" stroke-width="0.8"/>
<rect x="284.49" y="61.95" width="4.6" height="2.3" fill="#45A9C8" stroke="#45A9C8" stroke-width="0.8"/>
<rect x="298.27" y="55.96" width="4.6" height="4.6" fill="#fff" stroke="#45A9C8" stroke-width="0.8"/>
<rect x="298.27" y="55.96" width="4.6" height="2.3" fill="#45A9C8" stroke="#45A9C8" stroke-width="0.8"/>
<rect x="312.06" y="52.84" width="4.6" height="4.6" fill="#fff" stroke="#45A9C8" stroke-width="0.8"/>
<rect x="312.06" y="52.84" width="4.6" height="2.3" fill="#45A9C8" stroke="#45A9C8" stroke-width="0.8"/>
<rect x="325.84" y="52.72" width="4.6" height="4.6" fill="#fff" stroke="#45A9C8" stroke-width="0.8"/>
<rect x="325.84" y="52.72" width="4.6" height="2.3" fill="#45A9C8" stroke="#45A9C8" stroke-width="0.8"/>
<rect x="339.62" y="58.71" width="4.6" height="4.6" fill="#fff" stroke="#45A9C8" stroke-width="0.8"/>
<rect x="339.62" y="58.71" width="4.6" height="2.3" fill="#45A9C8" stroke="#45A9C8" stroke-width="0.8"/>
<rect x="353.41" y="57.83" width="4.6" height="4.6" fill="#fff" stroke="#45A9C8" stroke-width="0.8"/>
<rect x="353.41" y="57.83" width="4.6" height="2.3" fill="#45A9C8" stroke="#45A9C8" stroke-width="0.8"/>
<rect x="367.19" y="57.83" width="4.6" height="4.6" fill="#fff" stroke="#45A9C8" stroke-width="0.8"/>
<rect x="367.19" y="57.83" width="4.6" height="2.3" fill="#45A9C8" stroke="#45A9C8" stroke-width="0.8"/>
<rect x="380.98" y="59.83" width="4.6" height="4.6" fill="#fff" stroke="#45A9C8" stroke-width="0.8"/>
<rect x="380.98" y="59.83" width="4.6" height="2.3" fill="#45A9C8" stroke="#45A9C8" stroke-width="0.8"/>
<rect x="394.76" y="95.63" width="4.6" height="4.6" fill="#fff" stroke="#45A9C8" stroke-width="0.8"/>
<rect x="394.76" y="95.63" width="4.6" height="2.3" fill="#45A9C8" stroke="#45A9C8" stroke-width="0.8"/>
<rect x="408.55" y="142.04" width="4.6" height="4.6" fill="#fff" stroke="#45A9C8" stroke-width="0.8"/>
<rect x="408.55" y="142.04" width="4.6" height="2.3" fill="#45A9C8" stroke="#45A9C8" stroke-width="0.8"/>
<rect x="422.33" y="148.9" width="4.6" height="4.6" fill="#fff" stroke="#45A9C8" stroke-width="0.8"/>
<rect x="422.33" y="148.9" width="4.6" height="2.3" fill="#45A9C8" stroke="#45A9C8" stroke-width="0.8"/>
<rect x="436.12" y="148.9" width="4.6" height="4.6" fill="#fff" stroke="#45A9C8" stroke-width="0.8"/>
<rect x="436.12" y="148.9" width="4.6" height="2.3" fill="#45A9C8" stroke="#45A9C8" stroke-width="0.8"/>
</g>
<rect x="259.1" y="13.8" width="179.3" height="143.6" fill="none" stroke="#000" stroke-width="1.1"/>
<line x1="256.1" y1="151.2" x2="259.1" y2="151.2" stroke="#000" stroke-width="1.1"/>
<text x="255" y="153.5" font-size="7.8" text-anchor="end" font-weight="bold" fill="#000">0</text>
<line x1="256.1" y1="126.25" x2="259.1" y2="126.25" stroke="#000" stroke-width="1.1"/>
<text x="255" y="128.55" font-size="7.8" text-anchor="end" font-weight="bold" fill="#000">20</text>
<line x1="256.1" y1="101.3" x2="259.1" y2="101.3" stroke="#000" stroke-width="1.1"/>
<text x="255" y="103.6" font-size="7.8" text-anchor="end" font-weight="bold" fill="#000">40</text>
<line x1="256.1" y1="76.35" x2="259.1" y2="76.35" stroke="#000" stroke-width="1.1"/>
<text x="255" y="78.65" font-size="7.8" text-anchor="end" font-weight="bold" fill="#000">60</text>
<line x1="256.1" y1="51.4" x2="259.1" y2="51.4" stroke="#000" stroke-width="1.1"/>
<text x="255" y="53.7" font-size="7.8" text-anchor="end" font-weight="bold" fill="#000">80</text>
<line x1="256.1" y1="26.45" x2="259.1" y2="26.45" stroke="#000" stroke-width="1.1"/>
<text x="255" y="28.75" font-size="7.8" text-anchor="end" font-weight="bold" fill="#000">100</text>
<line x1="257.5" y1="138.72" x2="259.1" y2="138.72" stroke="#000" stroke-width="1.1"/>
<line x1="257.5" y1="113.77" x2="259.1" y2="113.77" stroke="#000" stroke-width="1.1"/>
<line x1="257.5" y1="88.82" x2="259.1" y2="88.82" stroke="#000" stroke-width="1.1"/>
<line x1="257.5" y1="63.87" x2="259.1" y2="63.87" stroke="#000" stroke-width="1.1"/>
<line x1="257.5" y1="38.92" x2="259.1" y2="38.92" stroke="#000" stroke-width="1.1"/>
<line x1="438.4" y1="151.3" x2="441.4" y2="151.3" stroke="#000" stroke-width="1.1"/>
<text x="442.2" y="153.6" font-size="7.8" text-anchor="start" font-weight="bold" fill="#000">0</text>
<line x1="438.4" y1="109.5" x2="441.4" y2="109.5" stroke="#000" stroke-width="1.1"/>
<text x="442.2" y="111.8" font-size="7.8" text-anchor="start" font-weight="bold" fill="#000">10</text>
<line x1="438.4" y1="67.7" x2="441.4" y2="67.7" stroke="#000" stroke-width="1.1"/>
<text x="442.2" y="70" font-size="7.8" text-anchor="start" font-weight="bold" fill="#000">20</text>
<line x1="438.4" y1="25.9" x2="441.4" y2="25.9" stroke="#000" stroke-width="1.1"/>
<text x="442.2" y="28.2" font-size="7.8" text-anchor="start" font-weight="bold" fill="#000">30</text>
<line x1="438.4" y1="130.4" x2="440" y2="130.4" stroke="#000" stroke-width="1.1"/>
<line x1="438.4" y1="88.6" x2="440" y2="88.6" stroke="#000" stroke-width="1.1"/>
<line x1="438.4" y1="46.8" x2="440" y2="46.8" stroke="#000" stroke-width="1.1"/>
<line x1="273" y1="157.4" x2="273" y2="160.4" stroke="#000" stroke-width="1.1"/>
<text x="273" y="168.7" font-size="7.4" text-anchor="middle" font-weight="bold" fill="#000">400</text>
<line x1="328.14" y1="157.4" x2="328.14" y2="160.4" stroke="#000" stroke-width="1.1"/>
<text x="328.14" y="168.7" font-size="7.4" text-anchor="middle" font-weight="bold" fill="#000">600</text>
<line x1="383.28" y1="157.4" x2="383.28" y2="160.4" stroke="#000" stroke-width="1.1"/>
<text x="383.28" y="168.7" font-size="7.4" text-anchor="middle" font-weight="bold" fill="#000">800</text>
<line x1="438.42" y1="157.4" x2="438.42" y2="160.4" stroke="#000" stroke-width="1.1"/>
<text x="438.42" y="168.7" font-size="7.4" text-anchor="middle" font-weight="bold" fill="#000">1000</text>
<line x1="300.57" y1="157.4" x2="300.57" y2="159" stroke="#000" stroke-width="1.1"/>
<line x1="355.71" y1="157.4" x2="355.71" y2="159" stroke="#000" stroke-width="1.1"/>
<line x1="410.85" y1="157.4" x2="410.85" y2="159" stroke="#000" stroke-width="1.1"/>
<text x="348.3" y="180.6" font-size="9.4" text-anchor="middle" font-weight="bold" fill="#000">Wavelength (nm)</text>
<text x="240.4" y="85.4" font-size="9.5" text-anchor="middle" font-weight="bold" fill="#000" transform="rotate(-90 240.4 85.4)">EQE (%)</text>
<text x="462.6" y="84.5" font-size="10.2" text-anchor="middle" font-weight="bold" fill="#000" transform="rotate(-90 462.6 84.5)"><tspan font-style="italic">J</tspan><tspan dy="2.2" font-size="6.8">sc</tspan><tspan dx="-7.6" dy="-6.8" font-size="6.8">cal</tspan><tspan dy="4.6"> (mA cm</tspan><tspan dy="-4.4" font-size="6.8">-2</tspan><tspan dy="4.4">)</tspan></text>
<line x1="270.9" y1="21.6" x2="288.3" y2="21.6" stroke="#F4A46C" stroke-width="1.3"/>
<polygon points="277,21.6 279.6,18.2 282.2,21.6 279.6,25" fill="#fff" stroke="#F4A46C" stroke-width="0.8"/>
<polygon points="279.6,18.2 282.2,21.6 279.6,25" fill="#F4A46C" stroke="#F4A46C" stroke-width="0.8" stroke-linejoin="round"/>
<text x="291" y="24.4" font-size="7.8" text-anchor="start" font-weight="bold" fill="#000">PM6:BTP-eC9</text>
<line x1="270.9" y1="31.4" x2="275.6" y2="31.4" stroke="#45A9C8" stroke-width="1.3"/>
<line x1="283.6" y1="31.4" x2="288.3" y2="31.4" stroke="#45A9C8" stroke-width="1.3"/>
<rect x="277.3" y="29.2" width="5" height="4.2" fill="#fff" stroke="#45A9C8" stroke-width="0.8"/>
<rect x="277.3" y="29.2" width="5" height="2.1" fill="#45A9C8" stroke="#45A9C8" stroke-width="0.8"/>
<text x="291" y="34.2" font-size="7.8" text-anchor="start" font-weight="bold" fill="#000">PM6:<tspan font-style="italic">Z</tspan>-IFC-IC-Cl</text>
<line x1="346.6" y1="21.6" x2="362.7" y2="21.6" stroke="#E0679E" stroke-width="1.3"/>
<circle cx="355.1" cy="21.6" r="2.7" fill="url(#gpk)" stroke="#E0679E" stroke-width="0.7"/>
<text x="365.5" y="24.4" font-size="7.8" text-anchor="start" font-weight="bold" fill="#000">PM6:<tspan font-style="italic">E</tspan>-IFC-IC-Cl</text>
<text x="463" y="15.5" font-size="20.5" text-anchor="start" font-weight="bold" fill="#000">c</text>
<rect x="509" y="61.09" width="16.8" height="94.91" fill="#E8A3C3" stroke="#fff" stroke-width="0.5"/>
<rect x="525.8" y="60.73" width="16.8" height="95.27" fill="#89C4D6" stroke="#fff" stroke-width="0.5"/>
<rect x="542.6" y="62.17" width="16.8" height="93.83" fill="#F7CDB0" stroke="#fff" stroke-width="0.5"/>
<rect x="564.7" y="145.93" width="16.8" height="10.07" fill="#E8A3C3" stroke="#fff" stroke-width="0.5"/>
<rect x="581.5" y="140.54" width="16.8" height="15.46" fill="#89C4D6" stroke="#fff" stroke-width="0.5"/>
<rect x="598.3" y="144.5" width="16.8" height="11.5" fill="#F7CDB0" stroke="#fff" stroke-width="0.5"/>
<rect x="620.5" y="77.99" width="16.8" height="78.01" fill="#E8A3C3" stroke="#fff" stroke-width="0.5"/>
<rect x="637.3" y="76.19" width="16.8" height="79.81" fill="#89C4D6" stroke="#fff" stroke-width="0.5"/>
<rect x="654.1" y="70.44" width="16.8" height="85.56" fill="#F7CDB0" stroke="#fff" stroke-width="0.5"/>
<rect x="500.6" y="12.4" width="178.5" height="143.6" fill="none" stroke="#000" stroke-width="1.1"/>
<line x1="500.6" y1="11.9" x2="500.6" y2="156.5" stroke="#333" stroke-width="1.6"/>
<line x1="497.6" y1="156" x2="500.6" y2="156" stroke="#000" stroke-width="1.1"/>
<text x="496.3" y="158.9" font-size="8.6" text-anchor="end" font-weight="bold" fill="#000">0.0</text>
<line x1="497.6" y1="84.1" x2="500.6" y2="84.1" stroke="#000" stroke-width="1.1"/>
<text x="496.3" y="87" font-size="8.6" text-anchor="end" font-weight="bold" fill="#000">0.2</text>
<line x1="497.6" y1="12.2" x2="500.6" y2="12.2" stroke="#000" stroke-width="1.1"/>
<text x="496.3" y="15.1" font-size="8.6" text-anchor="end" font-weight="bold" fill="#000">0.4</text>
<line x1="499" y1="120.05" x2="500.6" y2="120.05" stroke="#000" stroke-width="1.1"/>
<line x1="499" y1="48.15" x2="500.6" y2="48.15" stroke="#000" stroke-width="1.1"/>
<line x1="534.2" y1="156" x2="534.2" y2="159" stroke="#000" stroke-width="1.1"/>
<line x1="589.9" y1="156" x2="589.9" y2="159" stroke="#000" stroke-width="1.1"/>
<line x1="645.7" y1="156" x2="645.7" y2="159" stroke="#000" stroke-width="1.1"/>
<text x="513.5" y="60.6" font-size="8.2" text-anchor="middle" font-weight="bold" fill="#000">0.264</text>
<text x="534" y="54.1" font-size="8.2" text-anchor="middle" font-weight="bold" fill="#000">0.265</text>
<text x="554.7" y="60" font-size="8.2" text-anchor="middle" font-weight="bold" fill="#000">0.261</text>
<text x="569.9" y="143.7" font-size="8.2" text-anchor="middle" font-weight="bold" fill="#000">0.028</text>
<text x="590.1" y="137.1" font-size="8.2" text-anchor="middle" font-weight="bold" fill="#000">0.043</text>
<text x="612" y="143.2" font-size="8.2" text-anchor="middle" font-weight="bold" fill="#000">0.032</text>
<text x="624.2" y="77.2" font-size="8.2" text-anchor="middle" font-weight="bold" fill="#000">0.217</text>
<text x="645.2" y="71.2" font-size="8.2" text-anchor="middle" font-weight="bold" fill="#000">0.222</text>
<text x="667.5" y="68.5" font-size="8.2" text-anchor="middle" font-weight="bold" fill="#000">0.238</text>
<text x="534.4" y="177.1" font-size="10.3" text-anchor="middle" font-weight="bold" fill="#000">Δ<tspan font-style="italic">E</tspan><tspan font-style="italic" dy="2.6" font-size="7.4">1</tspan></text>
<text x="591.2" y="177.1" font-size="10.3" text-anchor="middle" font-weight="bold" fill="#000">Δ<tspan font-style="italic">E</tspan><tspan font-style="italic" dy="2.6" font-size="7.4">2</tspan></text>
<text x="647.6" y="177.1" font-size="10.3" text-anchor="middle" font-weight="bold" fill="#000">Δ<tspan font-style="italic">E</tspan><tspan font-style="italic" dy="2.6" font-size="7.4">3</tspan></text>
<text x="480.4" y="83.7" font-size="10.2" text-anchor="middle" font-weight="bold" fill="#000" transform="rotate(-90 480.4 83.7)">Energy loss (eV)</text>
<rect x="503.7" y="15.2" width="17.8" height="8.4" fill="#F7CDB0"/>
<text x="524.4" y="22.4" font-size="8" text-anchor="start" font-weight="bold" fill="#000">PM6:BTP-eC9</text>
<rect x="503.7" y="25.2" width="17.8" height="8.4" fill="#E8A3C3"/>
<text x="524.4" y="32.4" font-size="8" text-anchor="start" font-weight="bold" fill="#000">PM6:<tspan font-style="italic">E</tspan>-IFC-IC-Cl</text>
<rect x="586.2" y="15.2" width="17.9" height="8.4" fill="#89C4D6"/>
<text x="606.8" y="22.4" font-size="8" text-anchor="start" font-weight="bold" fill="#000">PM6:<tspan font-style="italic">Z</tspan>-IFC-IC-Cl</text>
<text x="-1" y="198.7" font-size="19.5" text-anchor="start" font-weight="bold" fill="#000">d</text>
<g clip-path="url(#cd)">
<path d="M59.66,297.66 C67.45,288.16 95.45,253.21 106.38,240.62 C117.31,228.04 120.09,226.04 125.24,222.16 C130.39,218.28 133.78,218.4 137.26,217.34 C140.74,216.29 143.46,216.2 146.1,215.82 C148.74,215.44 150.97,215.25 153.1,215.07 C155.23,214.89 157.1,214.86 158.89,214.76 C160.68,214.66 162.29,214.58 163.83,214.5 C165.37,214.42 166.79,214.35 168.14,214.28 C169.49,214.21 170.75,214.15 171.96,214.1 C173.17,214.04 174.3,213.99 175.39,213.94 C176.48,213.89 177.51,213.85 178.5,213.81 C179.5,213.77 180.44,213.74 181.35,213.7 C182.27,213.67 183.14,213.64 183.98,213.61 C184.82,213.58 185.63,213.56 186.42,213.53 C187.2,213.51 187.96,213.49 188.69,213.47 C189.42,213.45 190.13,213.43 190.82,213.41 C191.51,213.4 192.17,213.38 192.82,213.37 C193.47,213.35 194.1,213.34 194.71,213.33 C195.33,213.32 195.92,213.31 196.5,213.3 C197.08,213.29 197.65,213.28 198.2,213.27 C198.75,213.26 199.29,213.25 199.82,213.25 C200.35,213.24 200.86,213.23 201.36,213.23 C201.87,213.22 202.36,213.22 202.84,213.21 C203.32,213.2 203.79,213.2 204.25,213.2 C204.72,213.19 205.17,213.19 205.61,213.18 C206.05,213.18 206.49,213.18 206.92,213.17 C207.34,213.17 207.76,213.17 208.17,213.17 C208.58,213.16 208.99,213.16 209.38,213.16 C209.78,213.16 210.17,213.16 210.55,213.15 C210.93,213.15 211.31,213.15 211.68,213.15 C212.05,213.15 212.42,213.15 212.77,213.14 C213.13,213.14 213.49,213.14 213.83,213.14 C214.18,213.14 214.69,213.14 214.86,213.14" fill="none" stroke="#45A9C8" stroke-width="1.3" stroke-linecap="butt" stroke-linejoin="round"/>
<path d="M59.66,288.56 C67.45,279.44 95.45,245.77 106.38,233.82 C117.31,221.86 120.09,220.52 125.24,216.83 C130.39,213.14 133.78,212.94 137.26,211.7 C140.74,210.46 143.46,210.01 146.1,209.4 C148.74,208.8 150.97,208.39 153.1,208.07 C155.23,207.74 157.1,207.64 158.89,207.45 C160.68,207.26 162.29,207.09 163.83,206.93 C165.37,206.77 166.79,206.63 168.14,206.49 C169.49,206.36 170.75,206.24 171.96,206.13 C173.17,206.02 174.3,205.92 175.39,205.83 C176.48,205.73 177.51,205.65 178.5,205.57 C179.5,205.49 180.44,205.42 181.35,205.36 C182.27,205.29 183.14,205.23 183.98,205.18 C184.82,205.12 185.63,205.07 186.42,205.03 C187.2,204.98 187.96,204.94 188.69,204.9 C189.42,204.86 190.13,204.83 190.82,204.79 C191.51,204.76 192.17,204.73 192.82,204.7 C193.47,204.68 194.1,204.65 194.71,204.63 C195.33,204.61 195.92,204.58 196.5,204.57 C197.08,204.55 197.65,204.53 198.2,204.51 C198.75,204.5 199.29,204.48 199.82,204.47 C200.35,204.45 200.86,204.44 201.36,204.43 C201.87,204.42 202.36,204.41 202.84,204.4 C203.32,204.39 203.79,204.38 204.25,204.37 C204.72,204.36 205.17,204.35 205.61,204.35 C206.05,204.34 206.49,204.33 206.92,204.33 C207.34,204.32 207.76,204.32 208.17,204.31 C208.58,204.31 208.99,204.3 209.38,204.3 C209.78,204.3 210.17,204.29 210.55,204.29 C210.93,204.28 211.31,204.28 211.68,204.28 C212.05,204.28 212.42,204.27 212.77,204.27 C213.13,204.27 213.49,204.27 213.83,204.26 C214.18,204.26 214.69,204.26 214.86,204.26" fill="none" stroke="#F4A46C" stroke-width="1.3" stroke-linecap="butt" stroke-linejoin="round"/>
<path d="M59.66,279.21 C67.45,271.2 95.45,241.48 106.38,231.17 C117.31,220.86 120.09,220.15 125.24,217.34 C130.39,214.54 133.78,215.08 137.26,214.33 C140.74,213.59 143.46,213.28 146.1,212.88 C148.74,212.48 150.97,212.15 153.1,211.94 C155.23,211.72 157.1,211.68 158.89,211.57 C160.68,211.45 162.29,211.35 163.83,211.26 C165.37,211.16 166.79,211.08 168.14,211 C169.49,210.92 170.75,210.85 171.96,210.78 C173.17,210.71 174.3,210.65 175.39,210.6 C176.48,210.54 177.51,210.49 178.5,210.44 C179.5,210.4 180.44,210.35 181.35,210.32 C182.27,210.28 183.14,210.24 183.98,210.21 C184.82,210.17 185.63,210.14 186.42,210.12 C187.2,210.09 187.96,210.06 188.69,210.04 C189.42,210.02 190.13,209.99 190.82,209.97 C191.51,209.95 192.17,209.94 192.82,209.92 C193.47,209.9 194.1,209.89 194.71,209.87 C195.33,209.86 195.92,209.85 196.5,209.84 C197.08,209.82 197.65,209.81 198.2,209.8 C198.75,209.79 199.29,209.78 199.82,209.78 C200.35,209.77 200.86,209.76 201.36,209.75 C201.87,209.75 202.36,209.74 202.84,209.73 C203.32,209.73 203.79,209.72 204.25,209.72 C204.72,209.71 205.17,209.71 205.61,209.7 C206.05,209.7 206.49,209.7 206.92,209.69 C207.34,209.69 207.76,209.69 208.17,209.68 C208.58,209.68 208.99,209.68 209.38,209.67 C209.78,209.67 210.17,209.67 210.55,209.67 C210.93,209.66 211.31,209.66 211.68,209.66 C212.05,209.66 212.42,209.66 212.77,209.66 C213.13,209.65 213.49,209.65 213.83,209.65 C214.18,209.65 214.69,209.65 214.86,209.65" fill="none" stroke="#E0679E" stroke-width="1.3" stroke-linecap="butt" stroke-linejoin="round"/>
<rect x="57.46" y="295.46" width="4.4" height="4.4" fill="#fff" stroke="#45A9C8" stroke-width="0.8"/>
<rect x="57.46" y="295.46" width="4.4" height="2.2" fill="#45A9C8" stroke="#45A9C8" stroke-width="0.8"/>
<rect x="104.18" y="238.42" width="4.4" height="4.4" fill="#fff" stroke="#45A9C8" stroke-width="0.8"/>
<rect x="104.18" y="238.42" width="4.4" height="2.2" fill="#45A9C8" stroke="#45A9C8" stroke-width="0.8"/>
<rect x="123.04" y="219.96" width="4.4" height="4.4" fill="#fff" stroke="#45A9C8" stroke-width="0.8"/>
<rect x="123.04" y="219.96" width="4.4" height="2.2" fill="#45A9C8" stroke="#45A9C8" stroke-width="0.8"/>
<rect x="135.06" y="215.14" width="4.4" height="4.4" fill="#fff" stroke="#45A9C8" stroke-width="0.8"/>
<rect x="135.06" y="215.14" width="4.4" height="2.2" fill="#45A9C8" stroke="#45A9C8" stroke-width="0.8"/>
<rect x="143.9" y="213.62" width="4.4" height="4.4" fill="#fff" stroke="#45A9C8" stroke-width="0.8"/>
<rect x="143.9" y="213.62" width="4.4" height="2.2" fill="#45A9C8" stroke="#45A9C8" stroke-width="0.8"/>
<rect x="150.9" y="212.87" width="4.4" height="4.4" fill="#fff" stroke="#45A9C8" stroke-width="0.8"/>
<rect x="150.9" y="212.87" width="4.4" height="2.2" fill="#45A9C8" stroke="#45A9C8" stroke-width="0.8"/>
<rect x="156.69" y="212.56" width="4.4" height="4.4" fill="#fff" stroke="#45A9C8" stroke-width="0.8"/>
<rect x="156.69" y="212.56" width="4.4" height="2.2" fill="#45A9C8" stroke="#45A9C8" stroke-width="0.8"/>
<rect x="161.63" y="212.3" width="4.4" height="4.4" fill="#fff" stroke="#45A9C8" stroke-width="0.8"/>
<rect x="161.63" y="212.3" width="4.4" height="2.2" fill="#45A9C8" stroke="#45A9C8" stroke-width="0.8"/>
<rect x="165.94" y="212.08" width="4.4" height="4.4" fill="#fff" stroke="#45A9C8" stroke-width="0.8"/>
<rect x="165.94" y="212.08" width="4.4" height="2.2" fill="#45A9C8" stroke="#45A9C8" stroke-width="0.8"/>
<rect x="169.76" y="211.9" width="4.4" height="4.4" fill="#fff" stroke="#45A9C8" stroke-width="0.8"/>
<rect x="169.76" y="211.9" width="4.4" height="2.2" fill="#45A9C8" stroke="#45A9C8" stroke-width="0.8"/>
<rect x="173.19" y="211.74" width="4.4" height="4.4" fill="#fff" stroke="#45A9C8" stroke-width="0.8"/>
<rect x="173.19" y="211.74" width="4.4" height="2.2" fill="#45A9C8" stroke="#45A9C8" stroke-width="0.8"/>
<rect x="176.3" y="211.61" width="4.4" height="4.4" fill="#fff" stroke="#45A9C8" stroke-width="0.8"/>
<rect x="176.3" y="211.61" width="4.4" height="2.2" fill="#45A9C8" stroke="#45A9C8" stroke-width="0.8"/>
<rect x="179.15" y="211.5" width="4.4" height="4.4" fill="#fff" stroke="#45A9C8" stroke-width="0.8"/>
<rect x="179.15" y="211.5" width="4.4" height="2.2" fill="#45A9C8" stroke="#45A9C8" stroke-width="0.8"/>
<rect x="181.78" y="211.41" width="4.4" height="4.4" fill="#fff" stroke="#45A9C8" stroke-width="0.8"/>
<rect x="181.78" y="211.41" width="4.4" height="2.2" fill="#45A9C8" stroke="#45A9C8" stroke-width="0.8"/>
<rect x="184.22" y="211.33" width="4.4" height="4.4" fill="#fff" stroke="#45A9C8" stroke-width="0.8"/>
<rect x="184.22" y="211.33" width="4.4" height="2.2" fill="#45A9C8" stroke="#45A9C8" stroke-width="0.8"/>
<rect x="186.49" y="211.27" width="4.4" height="4.4" fill="#fff" stroke="#45A9C8" stroke-width="0.8"/>
<rect x="186.49" y="211.27" width="4.4" height="2.2" fill="#45A9C8" stroke="#45A9C8" stroke-width="0.8"/>
<rect x="188.62" y="211.21" width="4.4" height="4.4" fill="#fff" stroke="#45A9C8" stroke-width="0.8"/>
<rect x="188.62" y="211.21" width="4.4" height="2.2" fill="#45A9C8" stroke="#45A9C8" stroke-width="0.8"/>
<rect x="190.62" y="211.17" width="4.4" height="4.4" fill="#fff" stroke="#45A9C8" stroke-width="0.8"/>
<rect x="190.62" y="211.17" width="4.4" height="2.2" fill="#45A9C8" stroke="#45A9C8" stroke-width="0.8"/>
<rect x="192.51" y="211.13" width="4.4" height="4.4" fill="#fff" stroke="#45A9C8" stroke-width="0.8"/>
<rect x="192.51" y="211.13" width="4.4" height="2.2" fill="#45A9C8" stroke="#45A9C8" stroke-width="0.8"/>
<rect x="194.3" y="211.1" width="4.4" height="4.4" fill="#fff" stroke="#45A9C8" stroke-width="0.8"/>
<rect x="194.3" y="211.1" width="4.4" height="2.2" fill="#45A9C8" stroke="#45A9C8" stroke-width="0.8"/>
<rect x="196" y="211.07" width="4.4" height="4.4" fill="#fff" stroke="#45A9C8" stroke-width="0.8"/>
<rect x="196" y="211.07" width="4.4" height="2.2" fill="#45A9C8" stroke="#45A9C8" stroke-width="0.8"/>
<rect x="197.62" y="211.05" width="4.4" height="4.4" fill="#fff" stroke="#45A9C8" stroke-width="0.8"/>
<rect x="197.62" y="211.05" width="4.4" height="2.2" fill="#45A9C8" stroke="#45A9C8" stroke-width="0.8"/>
<rect x="199.16" y="211.03" width="4.4" height="4.4" fill="#fff" stroke="#45A9C8" stroke-width="0.8"/>
<rect x="199.16" y="211.03" width="4.4" height="2.2" fill="#45A9C8" stroke="#45A9C8" stroke-width="0.8"/>
<rect x="200.64" y="211.01" width="4.4" height="4.4" fill="#fff" stroke="#45A9C8" stroke-width="0.8"/>
<rect x="200.64" y="211.01" width="4.4" height="2.2" fill="#45A9C8" stroke="#45A9C8" stroke-width="0.8"/>
<rect x="202.05" y="211" width="4.4" height="4.4" fill="#fff" stroke="#45A9C8" stroke-width="0.8"/>
<rect x="202.05" y="211" width="4.4" height="2.2" fill="#45A9C8" stroke="#45A9C8" stroke-width="0.8"/>
<rect x="203.41" y="210.98" width="4.4" height="4.4" fill="#fff" stroke="#45A9C8" stroke-width="0.8"/>
<rect x="203.41" y="210.98" width="4.4" height="2.2" fill="#45A9C8" stroke="#45A9C8" stroke-width="0.8"/>
<rect x="204.72" y="210.97" width="4.4" height="4.4" fill="#fff" stroke="#45A9C8" stroke-width="0.8"/>
<rect x="204.72" y="210.97" width="4.4" height="2.2" fill="#45A9C8" stroke="#45A9C8" stroke-width="0.8"/>
<rect x="205.97" y="210.97" width="4.4" height="4.4" fill="#fff" stroke="#45A9C8" stroke-width="0.8"/>
<rect x="205.97" y="210.97" width="4.4" height="2.2" fill="#45A9C8" stroke="#45A9C8" stroke-width="0.8"/>
<rect x="207.18" y="210.96" width="4.4" height="4.4" fill="#fff" stroke="#45A9C8" stroke-width="0.8"/>
<rect x="207.18" y="210.96" width="4.4" height="2.2" fill="#45A9C8" stroke="#45A9C8" stroke-width="0.8"/>
<rect x="208.35" y="210.95" width="4.4" height="4.4" fill="#fff" stroke="#45A9C8" stroke-width="0.8"/>
<rect x="208.35" y="210.95" width="4.4" height="2.2" fill="#45A9C8" stroke="#45A9C8" stroke-width="0.8"/>
<rect x="209.48" y="210.95" width="4.4" height="4.4" fill="#fff" stroke="#45A9C8" stroke-width="0.8"/>
<rect x="209.48" y="210.95" width="4.4" height="2.2" fill="#45A9C8" stroke="#45A9C8" stroke-width="0.8"/>
<rect x="210.57" y="210.94" width="4.4" height="4.4" fill="#fff" stroke="#45A9C8" stroke-width="0.8"/>
<rect x="210.57" y="210.94" width="4.4" height="2.2" fill="#45A9C8" stroke="#45A9C8" stroke-width="0.8"/>
<rect x="211.63" y="210.94" width="4.4" height="4.4" fill="#fff" stroke="#45A9C8" stroke-width="0.8"/>
<rect x="211.63" y="210.94" width="4.4" height="2.2" fill="#45A9C8" stroke="#45A9C8" stroke-width="0.8"/>
<rect x="212.66" y="210.94" width="4.4" height="4.4" fill="#fff" stroke="#45A9C8" stroke-width="0.8"/>
<rect x="212.66" y="210.94" width="4.4" height="2.2" fill="#45A9C8" stroke="#45A9C8" stroke-width="0.8"/>
<polygon points="56.66,288.56 59.66,284.56 62.66,288.56 59.66,292.56" fill="#fff" stroke="#F4A46C" stroke-width="0.8"/>
<polygon points="59.66,284.56 62.66,288.56 59.66,292.56" fill="#F4A46C" stroke="#F4A46C" stroke-width="0.8" stroke-linejoin="round"/>
<polygon points="103.38,233.82 106.38,229.82 109.38,233.82 106.38,237.82" fill="#fff" stroke="#F4A46C" stroke-width="0.8"/>
<polygon points="106.38,229.82 109.38,233.82 106.38,237.82" fill="#F4A46C" stroke="#F4A46C" stroke-width="0.8" stroke-linejoin="round"/>
<polygon points="122.24,216.83 125.24,212.83 128.24,216.83 125.24,220.83" fill="#fff" stroke="#F4A46C" stroke-width="0.8"/>
<polygon points="125.24,212.83 128.24,216.83 125.24,220.83" fill="#F4A46C" stroke="#F4A46C" stroke-width="0.8" stroke-linejoin="round"/>
<polygon points="134.26,211.7 137.26,207.7 140.26,211.7 137.26,215.7" fill="#fff" stroke="#F4A46C" stroke-width="0.8"/>
<polygon points="137.26,207.7 140.26,211.7 137.26,215.7" fill="#F4A46C" stroke="#F4A46C" stroke-width="0.8" stroke-linejoin="round"/>
<polygon points="143.1,209.4 146.1,205.4 149.1,209.4 146.1,213.4" fill="#fff" stroke="#F4A46C" stroke-width="0.8"/>
<polygon points="146.1,205.4 149.1,209.4 146.1,213.4" fill="#F4A46C" stroke="#F4A46C" stroke-width="0.8" stroke-linejoin="round"/>
<polygon points="150.1,208.07 153.1,204.07 156.1,208.07 153.1,212.07" fill="#fff" stroke="#F4A46C" stroke-width="0.8"/>
<polygon points="153.1,204.07 156.1,208.07 153.1,212.07" fill="#F4A46C" stroke="#F4A46C" stroke-width="0.8" stroke-linejoin="round"/>
<polygon points="155.89,207.45 158.89,203.45 161.89,207.45 158.89,211.45" fill="#fff" stroke="#F4A46C" stroke-width="0.8"/>
<polygon points="158.89,203.45 161.89,207.45 158.89,211.45" fill="#F4A46C" stroke="#F4A46C" stroke-width="0.8" stroke-linejoin="round"/>
<polygon points="160.83,206.93 163.83,202.93 166.83,206.93 163.83,210.93" fill="#fff" stroke="#F4A46C" stroke-width="0.8"/>
<polygon points="163.83,202.93 166.83,206.93 163.83,210.93" fill="#F4A46C" stroke="#F4A46C" stroke-width="0.8" stroke-linejoin="round"/>
<polygon points="165.14,206.49 168.14,202.49 171.14,206.49 168.14,210.49" fill="#fff" stroke="#F4A46C" stroke-width="0.8"/>
<polygon points="168.14,202.49 171.14,206.49 168.14,210.49" fill="#F4A46C" stroke="#F4A46C" stroke-width="0.8" stroke-linejoin="round"/>
<polygon points="168.96,206.13 171.96,202.13 174.96,206.13 171.96,210.13" fill="#fff" stroke="#F4A46C" stroke-width="0.8"/>
<polygon points="171.96,202.13 174.96,206.13 171.96,210.13" fill="#F4A46C" stroke="#F4A46C" stroke-width="0.8" stroke-linejoin="round"/>
<polygon points="172.39,205.83 175.39,201.83 178.39,205.83 175.39,209.83" fill="#fff" stroke="#F4A46C" stroke-width="0.8"/>
<polygon points="175.39,201.83 178.39,205.83 175.39,209.83" fill="#F4A46C" stroke="#F4A46C" stroke-width="0.8" stroke-linejoin="round"/>
<polygon points="175.5,205.57 178.5,201.57 181.5,205.57 178.5,209.57" fill="#fff" stroke="#F4A46C" stroke-width="0.8"/>
<polygon points="178.5,201.57 181.5,205.57 178.5,209.57" fill="#F4A46C" stroke="#F4A46C" stroke-width="0.8" stroke-linejoin="round"/>
<polygon points="178.35,205.36 181.35,201.36 184.35,205.36 181.35,209.36" fill="#fff" stroke="#F4A46C" stroke-width="0.8"/>
<polygon points="181.35,201.36 184.35,205.36 181.35,209.36" fill="#F4A46C" stroke="#F4A46C" stroke-width="0.8" stroke-linejoin="round"/>
<polygon points="180.98,205.18 183.98,201.18 186.98,205.18 183.98,209.18" fill="#fff" stroke="#F4A46C" stroke-width="0.8"/>
<polygon points="183.98,201.18 186.98,205.18 183.98,209.18" fill="#F4A46C" stroke="#F4A46C" stroke-width="0.8" stroke-linejoin="round"/>
<polygon points="183.42,205.03 186.42,201.03 189.42,205.03 186.42,209.03" fill="#fff" stroke="#F4A46C" stroke-width="0.8"/>
<polygon points="186.42,201.03 189.42,205.03 186.42,209.03" fill="#F4A46C" stroke="#F4A46C" stroke-width="0.8" stroke-linejoin="round"/>
<polygon points="185.69,204.9 188.69,200.9 191.69,204.9 188.69,208.9" fill="#fff" stroke="#F4A46C" stroke-width="0.8"/>
<polygon points="188.69,200.9 191.69,204.9 188.69,208.9" fill="#F4A46C" stroke="#F4A46C" stroke-width="0.8" stroke-linejoin="round"/>
<polygon points="187.82,204.79 190.82,200.79 193.82,204.79 190.82,208.79" fill="#fff" stroke="#F4A46C" stroke-width="0.8"/>
<polygon points="190.82,200.79 193.82,204.79 190.82,208.79" fill="#F4A46C" stroke="#F4A46C" stroke-width="0.8" stroke-linejoin="round"/>
<polygon points="189.82,204.7 192.82,200.7 195.82,204.7 192.82,208.7" fill="#fff" stroke="#F4A46C" stroke-width="0.8"/>
<polygon points="192.82,200.7 195.82,204.7 192.82,208.7" fill="#F4A46C" stroke="#F4A46C" stroke-width="0.8" stroke-linejoin="round"/>
<polygon points="191.71,204.63 194.71,200.63 197.71,204.63 194.71,208.63" fill="#fff" stroke="#F4A46C" stroke-width="0.8"/>
<polygon points="194.71,200.63 197.71,204.63 194.71,208.63" fill="#F4A46C" stroke="#F4A46C" stroke-width="0.8" stroke-linejoin="round"/>
<polygon points="193.5,204.57 196.5,200.57 199.5,204.57 196.5,208.57" fill="#fff" stroke="#F4A46C" stroke-width="0.8"/>
<polygon points="196.5,200.57 199.5,204.57 196.5,208.57" fill="#F4A46C" stroke="#F4A46C" stroke-width="0.8" stroke-linejoin="round"/>
<polygon points="195.2,204.51 198.2,200.51 201.2,204.51 198.2,208.51" fill="#fff" stroke="#F4A46C" stroke-width="0.8"/>
<polygon points="198.2,200.51 201.2,204.51 198.2,208.51" fill="#F4A46C" stroke="#F4A46C" stroke-width="0.8" stroke-linejoin="round"/>
<polygon points="196.82,204.47 199.82,200.47 202.82,204.47 199.82,208.47" fill="#fff" stroke="#F4A46C" stroke-width="0.8"/>
<polygon points="199.82,200.47 202.82,204.47 199.82,208.47" fill="#F4A46C" stroke="#F4A46C" stroke-width="0.8" stroke-linejoin="round"/>
<polygon points="198.36,204.43 201.36,200.43 204.36,204.43 201.36,208.43" fill="#fff" stroke="#F4A46C" stroke-width="0.8"/>
<polygon points="201.36,200.43 204.36,204.43 201.36,208.43" fill="#F4A46C" stroke="#F4A46C" stroke-width="0.8" stroke-linejoin="round"/>
<polygon points="199.84,204.4 202.84,200.4 205.84,204.4 202.84,208.4" fill="#fff" stroke="#F4A46C" stroke-width="0.8"/>
<polygon points="202.84,200.4 205.84,204.4 202.84,208.4" fill="#F4A46C" stroke="#F4A46C" stroke-width="0.8" stroke-linejoin="round"/>
<polygon points="201.25,204.37 204.25,200.37 207.25,204.37 204.25,208.37" fill="#fff" stroke="#F4A46C" stroke-width="0.8"/>
<polygon points="204.25,200.37 207.25,204.37 204.25,208.37" fill="#F4A46C" stroke="#F4A46C" stroke-width="0.8" stroke-linejoin="round"/>
<polygon points="202.61,204.35 205.61,200.35 208.61,204.35 205.61,208.35" fill="#fff" stroke="#F4A46C" stroke-width="0.8"/>
<polygon points="205.61,200.35 208.61,204.35 205.61,208.35" fill="#F4A46C" stroke="#F4A46C" stroke-width="0.8" stroke-linejoin="round"/>
<polygon points="203.92,204.33 206.92,200.33 209.92,204.33 206.92,208.33" fill="#fff" stroke="#F4A46C" stroke-width="0.8"/>
<polygon points="206.92,200.33 209.92,204.33 206.92,208.33" fill="#F4A46C" stroke="#F4A46C" stroke-width="0.8" stroke-linejoin="round"/>
<polygon points="205.17,204.31 208.17,200.31 211.17,204.31 208.17,208.31" fill="#fff" stroke="#F4A46C" stroke-width="0.8"/>
<polygon points="208.17,200.31 211.17,204.31 208.17,208.31" fill="#F4A46C" stroke="#F4A46C" stroke-width="0.8" stroke-linejoin="round"/>
<polygon points="206.38,204.3 209.38,200.3 212.38,204.3 209.38,208.3" fill="#fff" stroke="#F4A46C" stroke-width="0.8"/>
<polygon points="209.38,200.3 212.38,204.3 209.38,208.3" fill="#F4A46C" stroke="#F4A46C" stroke-width="0.8" stroke-linejoin="round"/>
<polygon points="207.55,204.29 210.55,200.29 213.55,204.29 210.55,208.29" fill="#fff" stroke="#F4A46C" stroke-width="0.8"/>
<polygon points="210.55,200.29 213.55,204.29 210.55,208.29" fill="#F4A46C" stroke="#F4A46C" stroke-width="0.8" stroke-linejoin="round"/>
<polygon points="208.68,204.28 211.68,200.28 214.68,204.28 211.68,208.28" fill="#fff" stroke="#F4A46C" stroke-width="0.8"/>
<polygon points="211.68,200.28 214.68,204.28 211.68,208.28" fill="#F4A46C" stroke="#F4A46C" stroke-width="0.8" stroke-linejoin="round"/>
<polygon points="209.77,204.27 212.77,200.27 215.77,204.27 212.77,208.27" fill="#fff" stroke="#F4A46C" stroke-width="0.8"/>
<polygon points="212.77,200.27 215.77,204.27 212.77,208.27" fill="#F4A46C" stroke="#F4A46C" stroke-width="0.8" stroke-linejoin="round"/>
<polygon points="210.83,204.26 213.83,200.26 216.83,204.26 213.83,208.26" fill="#fff" stroke="#F4A46C" stroke-width="0.8"/>
<polygon points="213.83,200.26 216.83,204.26 213.83,208.26" fill="#F4A46C" stroke="#F4A46C" stroke-width="0.8" stroke-linejoin="round"/>
<polygon points="211.86,204.26 214.86,200.26 217.86,204.26 214.86,208.26" fill="#fff" stroke="#F4A46C" stroke-width="0.8"/>
<polygon points="214.86,200.26 217.86,204.26 214.86,208.26" fill="#F4A46C" stroke="#F4A46C" stroke-width="0.8" stroke-linejoin="round"/>
<circle cx="59.66" cy="279.21" r="2.9" fill="url(#gpk)" stroke="#E0679E" stroke-width="0.7"/>
<circle cx="106.38" cy="231.17" r="2.9" fill="url(#gpk)" stroke="#E0679E" stroke-width="0.7"/>
<circle cx="125.24" cy="217.34" r="2.9" fill="url(#gpk)" stroke="#E0679E" stroke-width="0.7"/>
<circle cx="137.26" cy="214.33" r="2.9" fill="url(#gpk)" stroke="#E0679E" stroke-width="0.7"/>
<circle cx="146.1" cy="212.88" r="2.9" fill="url(#gpk)" stroke="#E0679E" stroke-width="0.7"/>
<circle cx="153.1" cy="211.94" r="2.9" fill="url(#gpk)" stroke="#E0679E" stroke-width="0.7"/>
<circle cx="158.89" cy="211.57" r="2.9" fill="url(#gpk)" stroke="#E0679E" stroke-width="0.7"/>
<circle cx="163.83" cy="211.26" r="2.9" fill="url(#gpk)" stroke="#E0679E" stroke-width="0.7"/>
<circle cx="168.14" cy="211" r="2.9" fill="url(#gpk)" stroke="#E0679E" stroke-width="0.7"/>
<circle cx="171.96" cy="210.78" r="2.9" fill="url(#gpk)" stroke="#E0679E" stroke-width="0.7"/>
<circle cx="175.39" cy="210.6" r="2.9" fill="url(#gpk)" stroke="#E0679E" stroke-width="0.7"/>
<circle cx="178.5" cy="210.44" r="2.9" fill="url(#gpk)" stroke="#E0679E" stroke-width="0.7"/>
<circle cx="181.35" cy="210.32" r="2.9" fill="url(#gpk)" stroke="#E0679E" stroke-width="0.7"/>
<circle cx="183.98" cy="210.21" r="2.9" fill="url(#gpk)" stroke="#E0679E" stroke-width="0.7"/>
<circle cx="186.42" cy="210.12" r="2.9" fill="url(#gpk)" stroke="#E0679E" stroke-width="0.7"/>
<circle cx="188.69" cy="210.04" r="2.9" fill="url(#gpk)" stroke="#E0679E" stroke-width="0.7"/>
<circle cx="190.82" cy="209.97" r="2.9" fill="url(#gpk)" stroke="#E0679E" stroke-width="0.7"/>
<circle cx="192.82" cy="209.92" r="2.9" fill="url(#gpk)" stroke="#E0679E" stroke-width="0.7"/>
<circle cx="194.71" cy="209.87" r="2.9" fill="url(#gpk)" stroke="#E0679E" stroke-width="0.7"/>
<circle cx="196.5" cy="209.84" r="2.9" fill="url(#gpk)" stroke="#E0679E" stroke-width="0.7"/>
<circle cx="198.2" cy="209.8" r="2.9" fill="url(#gpk)" stroke="#E0679E" stroke-width="0.7"/>
<circle cx="199.82" cy="209.78" r="2.9" fill="url(#gpk)" stroke="#E0679E" stroke-width="0.7"/>
<circle cx="201.36" cy="209.75" r="2.9" fill="url(#gpk)" stroke="#E0679E" stroke-width="0.7"/>
<circle cx="202.84" cy="209.73" r="2.9" fill="url(#gpk)" stroke="#E0679E" stroke-width="0.7"/>
<circle cx="204.25" cy="209.72" r="2.9" fill="url(#gpk)" stroke="#E0679E" stroke-width="0.7"/>
<circle cx="205.61" cy="209.7" r="2.9" fill="url(#gpk)" stroke="#E0679E" stroke-width="0.7"/>
<circle cx="206.92" cy="209.69" r="2.9" fill="url(#gpk)" stroke="#E0679E" stroke-width="0.7"/>
<circle cx="208.17" cy="209.68" r="2.9" fill="url(#gpk)" stroke="#E0679E" stroke-width="0.7"/>
<circle cx="209.38" cy="209.67" r="2.9" fill="url(#gpk)" stroke="#E0679E" stroke-width="0.7"/>
<circle cx="210.55" cy="209.67" r="2.9" fill="url(#gpk)" stroke="#E0679E" stroke-width="0.7"/>
<circle cx="211.68" cy="209.66" r="2.9" fill="url(#gpk)" stroke="#E0679E" stroke-width="0.7"/>
<circle cx="212.77" cy="209.66" r="2.9" fill="url(#gpk)" stroke="#E0679E" stroke-width="0.7"/>
<circle cx="213.83" cy="209.65" r="2.9" fill="url(#gpk)" stroke="#E0679E" stroke-width="0.7"/>
<circle cx="214.86" cy="209.65" r="2.9" fill="url(#gpk)" stroke="#E0679E" stroke-width="0.7"/>
</g>
<rect x="36.3" y="197.2" width="178.7" height="143.3" fill="none" stroke="#000" stroke-width="1.1"/>
<line x1="33.3" y1="309.58" x2="36.3" y2="309.58" stroke="#000" stroke-width="1.1"/>
<text x="31.5" y="312.48" font-size="8.4" text-anchor="end" font-weight="bold" fill="#000">5</text>
<line x1="33.3" y1="268.04" x2="36.3" y2="268.04" stroke="#000" stroke-width="1.1"/>
<text x="31.5" y="270.94" font-size="8.4" text-anchor="end" font-weight="bold" fill="#000">10</text>
<line x1="33.3" y1="243.74" x2="36.3" y2="243.74" stroke="#000" stroke-width="1.1"/>
<text x="31.5" y="246.64" font-size="8.4" text-anchor="end" font-weight="bold" fill="#000">15</text>
<line x1="33.3" y1="226.5" x2="36.3" y2="226.5" stroke="#000" stroke-width="1.1"/>
<text x="31.5" y="229.4" font-size="8.4" text-anchor="end" font-weight="bold" fill="#000">20</text>
<line x1="33.3" y1="213.12" x2="36.3" y2="213.12" stroke="#000" stroke-width="1.1"/>
<text x="31.5" y="216.02" font-size="8.4" text-anchor="end" font-weight="bold" fill="#000">25</text>
<line x1="33.3" y1="202.2" x2="36.3" y2="202.2" stroke="#000" stroke-width="1.1"/>
<text x="31.5" y="205.1" font-size="8.4" text-anchor="end" font-weight="bold" fill="#000">30</text>
<line x1="34.7" y1="285.28" x2="36.3" y2="285.28" stroke="#000" stroke-width="1.1"/>
<line x1="34.7" y1="254.66" x2="36.3" y2="254.66" stroke="#000" stroke-width="1.1"/>
<line x1="34.7" y1="234.5" x2="36.3" y2="234.5" stroke="#000" stroke-width="1.1"/>
<line x1="34.7" y1="219.44" x2="36.3" y2="219.44" stroke="#000" stroke-width="1.1"/>
<line x1="34.7" y1="207.41" x2="36.3" y2="207.41" stroke="#000" stroke-width="1.1"/>
<line x1="36.3" y1="340.5" x2="36.3" y2="343.5" stroke="#000" stroke-width="1.1"/>
<text x="36.3" y="352.4" font-size="8.5" text-anchor="middle" font-weight="bold" fill="#000">0.01</text>
<line x1="113.9" y1="340.5" x2="113.9" y2="343.5" stroke="#000" stroke-width="1.1"/>
<text x="113.9" y="352.4" font-size="8.5" text-anchor="middle" font-weight="bold" fill="#000">0.1</text>
<line x1="191.5" y1="340.5" x2="191.5" y2="343.5" stroke="#000" stroke-width="1.1"/>
<text x="191.5" y="352.4" font-size="8.5" text-anchor="middle" font-weight="bold" fill="#000">1</text>
<line x1="214.86" y1="340.5" x2="214.86" y2="343.5" stroke="#000" stroke-width="1.1"/>
<text x="214.86" y="352.4" font-size="8.5" text-anchor="middle" font-weight="bold" fill="#000">2</text>
<line x1="90.54" y1="340.5" x2="90.54" y2="342.1" stroke="#000" stroke-width="1.1"/>
<line x1="168.14" y1="340.5" x2="168.14" y2="342.1" stroke="#000" stroke-width="1.1"/>
<line x1="205.16" y1="340.5" x2="205.16" y2="342.1" stroke="#000" stroke-width="1.1"/>
<text x="126" y="366.9" font-size="10.2" text-anchor="middle" font-weight="bold" fill="#000"><tspan font-style="italic">V</tspan><tspan dy="2.2" font-size="7.4">eff</tspan><tspan dy="-2.2"> (V)</tspan></text>
<text x="16.2" y="268.6" font-size="10.5" text-anchor="middle" font-weight="bold" fill="#000" transform="rotate(-90 16.2 268.6)"><tspan font-style="italic">J</tspan><tspan dy="2.4" font-size="7.6">sc</tspan><tspan dy="-2.4"> (mA cm</tspan><tspan dy="-4.8" font-size="7.4">-2</tspan><tspan dy="4.8">)</tspan></text>
<text x="157.9" y="299.5" font-size="8.2" text-anchor="middle" font-weight="bold" fill="#000"><tspan font-style="italic" font-weight="normal" font-size="9.6">η</tspan><tspan dy="2.2" font-size="6.4">diss</tspan></text>
<text x="200" y="299.5" font-size="8.2" text-anchor="middle" font-weight="bold" fill="#000"><tspan font-style="italic" font-weight="normal" font-size="9.6">η</tspan><tspan dy="2.2" font-size="6.4">coll</tspan></text>
<line x1="59.5" y1="307.2" x2="73.5" y2="307.2" stroke="#F4A46C" stroke-width="1.3"/>
<polygon points="63.6,307.2 66.6,304 69.6,307.2 66.6,310.4" fill="#fff" stroke="#F4A46C" stroke-width="0.8"/>
<polygon points="66.6,304 69.6,307.2 66.6,310.4" fill="#F4A46C" stroke="#F4A46C" stroke-width="0.8" stroke-linejoin="round"/>
<text x="76.2" y="310.1" font-size="8.15" text-anchor="start" font-weight="bold" fill="#000">PM6:BTP-eC9</text>
<text x="161.2" y="310.1" font-size="8.15" text-anchor="middle" font-weight="bold" fill="#000">96.46%</text>
<text x="195.7" y="310.1" font-size="8.15" text-anchor="middle" font-weight="bold" fill="#000">88.78%</text>
<line x1="59.5" y1="317.6" x2="73.5" y2="317.6" stroke="#45A9C8" stroke-width="1.3"/>
<rect x="64.2" y="315.2" width="4.8" height="4.8" fill="#fff" stroke="#45A9C8" stroke-width="0.8"/>
<rect x="64.2" y="315.2" width="4.8" height="2.4" fill="#45A9C8" stroke="#45A9C8" stroke-width="0.8"/>
<text x="76.2" y="320.5" font-size="8.15" text-anchor="start" font-weight="bold" fill="#000">PM6:<tspan font-style="italic">Z</tspan>-IFC-IC-Cl</text>
<text x="161.2" y="320.5" font-size="8.15" text-anchor="middle" font-weight="bold" fill="#000">91.39%</text>
<text x="195.7" y="320.5" font-size="8.15" text-anchor="middle" font-weight="bold" fill="#000">68.97%</text>
<line x1="59.5" y1="328.2" x2="73.5" y2="328.2" stroke="#E0679E" stroke-width="1.3"/>
<circle cx="66.6" cy="328.2" r="3.1" fill="url(#gpk)" stroke="#E0679E" stroke-width="0.7"/>
<text x="76.2" y="331.1" font-size="8.15" text-anchor="start" font-weight="bold" fill="#000">PM6:<tspan font-style="italic">E</tspan>-IFC-IC-Cl</text>
<text x="161.2" y="331.1" font-size="8.15" text-anchor="middle" font-weight="bold" fill="#000">97.23%</text>
<text x="195.7" y="331.1" font-size="8.15" text-anchor="middle" font-weight="bold" fill="#000">88.18%</text>
<text x="227.3" y="200.4" font-size="21" text-anchor="start" font-weight="bold" fill="#000">e</text>
<rect x="275.4" y="263.42" width="16.5" height="79.48" fill="#95BDE3" stroke="#fff" stroke-width="0.4"/>
<rect x="291.9" y="284.79" width="16.5" height="58.11" fill="#F9B7BB" stroke="#fff" stroke-width="0.4"/>
<rect x="335.2" y="232.28" width="16.5" height="110.62" fill="#95BDE3" stroke="#fff" stroke-width="0.4"/>
<rect x="351.7" y="244.26" width="16.5" height="98.64" fill="#F9B7BB" stroke="#fff" stroke-width="0.4"/>
<rect x="394.9" y="237.88" width="16.5" height="105.02" fill="#95BDE3" stroke="#fff" stroke-width="0.4"/>
<rect x="411.4" y="250.13" width="16.5" height="92.77" fill="#F9B7BB" stroke="#fff" stroke-width="0.4"/>
<rect x="261.2" y="199.1" width="179.5" height="143.8" fill="none" stroke="#000" stroke-width="1.1"/>
<line x1="258.2" y1="342.9" x2="261.2" y2="342.9" stroke="#000" stroke-width="1.1"/>
<text x="257.7" y="345.5" font-size="7.8" text-anchor="end" font-weight="bold" fill="#000">0</text>
<line x1="258.2" y1="316.84" x2="261.2" y2="316.84" stroke="#000" stroke-width="1.1"/>
<text x="257.7" y="319.44" font-size="7.8" text-anchor="end" font-weight="bold" fill="#000">2</text>
<line x1="258.2" y1="290.78" x2="261.2" y2="290.78" stroke="#000" stroke-width="1.1"/>
<text x="257.7" y="293.38" font-size="7.8" text-anchor="end" font-weight="bold" fill="#000">4</text>
<line x1="258.2" y1="264.72" x2="261.2" y2="264.72" stroke="#000" stroke-width="1.1"/>
<text x="257.7" y="267.32" font-size="7.8" text-anchor="end" font-weight="bold" fill="#000">6</text>
<line x1="258.2" y1="238.66" x2="261.2" y2="238.66" stroke="#000" stroke-width="1.1"/>
<text x="257.7" y="241.26" font-size="7.8" text-anchor="end" font-weight="bold" fill="#000">8</text>
<line x1="258.2" y1="212.6" x2="261.2" y2="212.6" stroke="#000" stroke-width="1.1"/>
<text x="257.7" y="215.2" font-size="7.8" text-anchor="end" font-weight="bold" fill="#000">10</text>
<line x1="259.6" y1="329.87" x2="261.2" y2="329.87" stroke="#000" stroke-width="1.1"/>
<line x1="259.6" y1="303.81" x2="261.2" y2="303.81" stroke="#000" stroke-width="1.1"/>
<line x1="259.6" y1="277.75" x2="261.2" y2="277.75" stroke="#000" stroke-width="1.1"/>
<line x1="259.6" y1="251.69" x2="261.2" y2="251.69" stroke="#000" stroke-width="1.1"/>
<line x1="259.6" y1="225.63" x2="261.2" y2="225.63" stroke="#000" stroke-width="1.1"/>
<line x1="291.9" y1="342.9" x2="291.9" y2="345.9" stroke="#000" stroke-width="1.1"/>
<line x1="351.7" y1="342.9" x2="351.7" y2="345.9" stroke="#000" stroke-width="1.1"/>
<line x1="411.4" y1="342.9" x2="411.4" y2="345.9" stroke="#000" stroke-width="1.1"/>
<line x1="321.8" y1="342.9" x2="321.8" y2="344.5" stroke="#000" stroke-width="1.1"/>
<line x1="381.55" y1="342.9" x2="381.55" y2="344.5" stroke="#000" stroke-width="1.1"/>
<text x="284.3" y="258.3" font-size="8.7" text-anchor="middle" font-weight="bold" fill="#000">6.10</text>
<text x="301.8" y="282.5" font-size="8.7" text-anchor="middle" font-weight="bold" fill="#000">4.46</text>
<text x="343.3" y="230" font-size="8.7" text-anchor="middle" font-weight="bold" fill="#000">8.49</text>
<text x="360.5" y="241.2" font-size="8.7" text-anchor="middle" font-weight="bold" fill="#000">7.57</text>
<text x="402.3" y="235.2" font-size="8.7" text-anchor="middle" font-weight="bold" fill="#000">8.06</text>
<text x="419.6" y="247" font-size="8.7" text-anchor="middle" font-weight="bold" fill="#000">7.12</text>
<text x="295" y="358.6" font-size="8.9" text-anchor="middle" font-weight="bold" fill="#000"><tspan font-style="italic">Z</tspan>-IFC-IC-Cl</text>
<text x="352.6" y="358.6" font-size="8.9" text-anchor="middle" font-weight="bold" fill="#000"><tspan font-style="italic">E</tspan>-IFC-IC-Cl</text>
<text x="410.9" y="358.6" font-size="8.9" text-anchor="middle" font-weight="bold" fill="#000">BTP-eC9</text>
<text x="243.5" y="271" font-size="9.6" text-anchor="middle" font-weight="bold" fill="#000" transform="rotate(-90 243.5 271)">Carrier mobility (10<tspan dy="-4.4" font-size="6.4">-4</tspan><tspan dy="4.4"> cm</tspan><tspan dy="-4.4" font-size="6.4">2</tspan><tspan dy="4.4"> V</tspan><tspan dy="-4.4" font-size="6.4">-1</tspan><tspan dy="4.4"> s</tspan><tspan dy="-4.4" font-size="6.4">-1</tspan><tspan dy="4.4">)</tspan></text>
<rect x="268.1" y="202.2" width="18" height="8.5" fill="#95BDE3"/>
<text x="288.5" y="208.7" font-size="8.05" text-anchor="start" font-weight="bold" fill="#000">electron</text>
<rect x="325" y="202.2" width="17.8" height="8.5" fill="#F9B7BB"/>
<text x="345.5" y="208.7" font-size="8.05" text-anchor="start" font-weight="bold" fill="#000">hole</text>
<text x="268.7" y="221.5" font-size="8.7" text-anchor="start" font-weight="bold" fill="#000">PM6:acceptor</text>
<text x="466.1" y="200.6" font-size="20" text-anchor="start" font-weight="bold" fill="#000">f</text>
<g clip-path="url(#cf)">
<rect x="501.3" y="210.27" width="4" height="4" fill="#fff" stroke="#45A9C8" stroke-width="0.6"/>
<rect x="501.3" y="210.27" width="4" height="2" fill="#45A9C8" stroke="#45A9C8" stroke-width="0.6"/>
<rect x="502.09" y="213.09" width="4" height="4" fill="#fff" stroke="#45A9C8" stroke-width="0.6"/>
<rect x="502.09" y="213.09" width="4" height="2" fill="#45A9C8" stroke="#45A9C8" stroke-width="0.6"/>
<rect x="502.88" y="214.66" width="4" height="4" fill="#fff" stroke="#45A9C8" stroke-width="0.6"/>
<rect x="502.88" y="214.66" width="4" height="2" fill="#45A9C8" stroke="#45A9C8" stroke-width="0.6"/>
<rect x="503.68" y="219.69" width="4" height="4" fill="#fff" stroke="#45A9C8" stroke-width="0.6"/>
<rect x="503.68" y="219.69" width="4" height="2" fill="#45A9C8" stroke="#45A9C8" stroke-width="0.6"/>
<rect x="504.47" y="225.08" width="4" height="4" fill="#fff" stroke="#45A9C8" stroke-width="0.6"/>
<rect x="504.47" y="225.08" width="4" height="2" fill="#45A9C8" stroke="#45A9C8" stroke-width="0.6"/>
<rect x="505.26" y="229.07" width="4" height="4" fill="#fff" stroke="#45A9C8" stroke-width="0.6"/>
<rect x="505.26" y="229.07" width="4" height="2" fill="#45A9C8" stroke="#45A9C8" stroke-width="0.6"/>
<rect x="506.05" y="233.27" width="4" height="4" fill="#fff" stroke="#45A9C8" stroke-width="0.6"/>
<rect x="506.05" y="233.27" width="4" height="2" fill="#45A9C8" stroke="#45A9C8" stroke-width="0.6"/>
<rect x="506.85" y="236.45" width="4" height="4" fill="#fff" stroke="#45A9C8" stroke-width="0.6"/>
<rect x="506.85" y="236.45" width="4" height="2" fill="#45A9C8" stroke="#45A9C8" stroke-width="0.6"/>
<rect x="507.64" y="238.68" width="4" height="4" fill="#fff" stroke="#45A9C8" stroke-width="0.6"/>
<rect x="507.64" y="238.68" width="4" height="2" fill="#45A9C8" stroke="#45A9C8" stroke-width="0.6"/>
<rect x="508.43" y="239.08" width="4" height="4" fill="#fff" stroke="#45A9C8" stroke-width="0.6"/>
<rect x="508.43" y="239.08" width="4" height="2" fill="#45A9C8" stroke="#45A9C8" stroke-width="0.6"/>
<rect x="509.22" y="240.88" width="4" height="4" fill="#fff" stroke="#45A9C8" stroke-width="0.6"/>
<rect x="509.22" y="240.88" width="4" height="2" fill="#45A9C8" stroke="#45A9C8" stroke-width="0.6"/>
<rect x="510.01" y="242.99" width="4" height="4" fill="#fff" stroke="#45A9C8" stroke-width="0.6"/>
<rect x="510.01" y="242.99" width="4" height="2" fill="#45A9C8" stroke="#45A9C8" stroke-width="0.6"/>
<rect x="510.81" y="244.78" width="4" height="4" fill="#fff" stroke="#45A9C8" stroke-width="0.6"/>
<rect x="510.81" y="244.78" width="4" height="2" fill="#45A9C8" stroke="#45A9C8" stroke-width="0.6"/>
<rect x="511.6" y="246.66" width="4" height="4" fill="#fff" stroke="#45A9C8" stroke-width="0.6"/>
<rect x="511.6" y="246.66" width="4" height="2" fill="#45A9C8" stroke="#45A9C8" stroke-width="0.6"/>
<rect x="512.39" y="248.83" width="4" height="4" fill="#fff" stroke="#45A9C8" stroke-width="0.6"/>
<rect x="512.39" y="248.83" width="4" height="2" fill="#45A9C8" stroke="#45A9C8" stroke-width="0.6"/>
<rect x="513.18" y="250.71" width="4" height="4" fill="#fff" stroke="#45A9C8" stroke-width="0.6"/>
<rect x="513.18" y="250.71" width="4" height="2" fill="#45A9C8" stroke="#45A9C8" stroke-width="0.6"/>
<rect x="513.97" y="252.21" width="4" height="4" fill="#fff" stroke="#45A9C8" stroke-width="0.6"/>
<rect x="513.97" y="252.21" width="4" height="2" fill="#45A9C8" stroke="#45A9C8" stroke-width="0.6"/>
<rect x="514.77" y="254.04" width="4" height="4" fill="#fff" stroke="#45A9C8" stroke-width="0.6"/>
<rect x="514.77" y="254.04" width="4" height="2" fill="#45A9C8" stroke="#45A9C8" stroke-width="0.6"/>
<rect x="515.56" y="255.49" width="4" height="4" fill="#fff" stroke="#45A9C8" stroke-width="0.6"/>
<rect x="515.56" y="255.49" width="4" height="2" fill="#45A9C8" stroke="#45A9C8" stroke-width="0.6"/>
<rect x="516.35" y="257.53" width="4" height="4" fill="#fff" stroke="#45A9C8" stroke-width="0.6"/>
<rect x="516.35" y="257.53" width="4" height="2" fill="#45A9C8" stroke="#45A9C8" stroke-width="0.6"/>
<rect x="517.14" y="259.47" width="4" height="4" fill="#fff" stroke="#45A9C8" stroke-width="0.6"/>
<rect x="517.14" y="259.47" width="4" height="2" fill="#45A9C8" stroke="#45A9C8" stroke-width="0.6"/>
<rect x="517.94" y="260.48" width="4" height="4" fill="#fff" stroke="#45A9C8" stroke-width="0.6"/>
<rect x="517.94" y="260.48" width="4" height="2" fill="#45A9C8" stroke="#45A9C8" stroke-width="0.6"/>
<rect x="518.73" y="261.58" width="4" height="4" fill="#fff" stroke="#45A9C8" stroke-width="0.6"/>
<rect x="518.73" y="261.58" width="4" height="2" fill="#45A9C8" stroke="#45A9C8" stroke-width="0.6"/>
<rect x="519.52" y="263.14" width="4" height="4" fill="#fff" stroke="#45A9C8" stroke-width="0.6"/>
<rect x="519.52" y="263.14" width="4" height="2" fill="#45A9C8" stroke="#45A9C8" stroke-width="0.6"/>
<rect x="520.31" y="264.53" width="4" height="4" fill="#fff" stroke="#45A9C8" stroke-width="0.6"/>
<rect x="520.31" y="264.53" width="4" height="2" fill="#45A9C8" stroke="#45A9C8" stroke-width="0.6"/>
<rect x="521.1" y="265.63" width="4" height="4" fill="#fff" stroke="#45A9C8" stroke-width="0.6"/>
<rect x="521.1" y="265.63" width="4" height="2" fill="#45A9C8" stroke="#45A9C8" stroke-width="0.6"/>
<rect x="521.9" y="266.08" width="4" height="4" fill="#fff" stroke="#45A9C8" stroke-width="0.6"/>
<rect x="521.9" y="266.08" width="4" height="2" fill="#45A9C8" stroke="#45A9C8" stroke-width="0.6"/>
<rect x="522.69" y="267.54" width="4" height="4" fill="#fff" stroke="#45A9C8" stroke-width="0.6"/>
<rect x="522.69" y="267.54" width="4" height="2" fill="#45A9C8" stroke="#45A9C8" stroke-width="0.6"/>
<rect x="523.48" y="269.01" width="4" height="4" fill="#fff" stroke="#45A9C8" stroke-width="0.6"/>
<rect x="523.48" y="269.01" width="4" height="2" fill="#45A9C8" stroke="#45A9C8" stroke-width="0.6"/>
<rect x="524.27" y="269.61" width="4" height="4" fill="#fff" stroke="#45A9C8" stroke-width="0.6"/>
<rect x="524.27" y="269.61" width="4" height="2" fill="#45A9C8" stroke="#45A9C8" stroke-width="0.6"/>
<rect x="525.06" y="270.56" width="4" height="4" fill="#fff" stroke="#45A9C8" stroke-width="0.6"/>
<rect x="525.06" y="270.56" width="4" height="2" fill="#45A9C8" stroke="#45A9C8" stroke-width="0.6"/>
<rect x="525.86" y="271.22" width="4" height="4" fill="#fff" stroke="#45A9C8" stroke-width="0.6"/>
<rect x="525.86" y="271.22" width="4" height="2" fill="#45A9C8" stroke="#45A9C8" stroke-width="0.6"/>
<rect x="526.65" y="271.3" width="4" height="4" fill="#fff" stroke="#45A9C8" stroke-width="0.6"/>
<rect x="526.65" y="271.3" width="4" height="2" fill="#45A9C8" stroke="#45A9C8" stroke-width="0.6"/>
<rect x="527.44" y="271.5" width="4" height="4" fill="#fff" stroke="#45A9C8" stroke-width="0.6"/>
<rect x="527.44" y="271.5" width="4" height="2" fill="#45A9C8" stroke="#45A9C8" stroke-width="0.6"/>
<rect x="528.23" y="272.02" width="4" height="4" fill="#fff" stroke="#45A9C8" stroke-width="0.6"/>
<rect x="528.23" y="272.02" width="4" height="2" fill="#45A9C8" stroke="#45A9C8" stroke-width="0.6"/>
<rect x="529.03" y="272.62" width="4" height="4" fill="#fff" stroke="#45A9C8" stroke-width="0.6"/>
<rect x="529.03" y="272.62" width="4" height="2" fill="#45A9C8" stroke="#45A9C8" stroke-width="0.6"/>
<rect x="529.82" y="274.8" width="4" height="4" fill="#fff" stroke="#45A9C8" stroke-width="0.6"/>
<rect x="529.82" y="274.8" width="4" height="2" fill="#45A9C8" stroke="#45A9C8" stroke-width="0.6"/>
<rect x="530.61" y="275.14" width="4" height="4" fill="#fff" stroke="#45A9C8" stroke-width="0.6"/>
<rect x="530.61" y="275.14" width="4" height="2" fill="#45A9C8" stroke="#45A9C8" stroke-width="0.6"/>
<rect x="531.4" y="276" width="4" height="4" fill="#fff" stroke="#45A9C8" stroke-width="0.6"/>
<rect x="531.4" y="276" width="4" height="2" fill="#45A9C8" stroke="#45A9C8" stroke-width="0.6"/>
<rect x="532.19" y="277.23" width="4" height="4" fill="#fff" stroke="#45A9C8" stroke-width="0.6"/>
<rect x="532.19" y="277.23" width="4" height="2" fill="#45A9C8" stroke="#45A9C8" stroke-width="0.6"/>
<rect x="532.99" y="277.58" width="4" height="4" fill="#fff" stroke="#45A9C8" stroke-width="0.6"/>
<rect x="532.99" y="277.58" width="4" height="2" fill="#45A9C8" stroke="#45A9C8" stroke-width="0.6"/>
<rect x="533.78" y="277.71" width="4" height="4" fill="#fff" stroke="#45A9C8" stroke-width="0.6"/>
<rect x="533.78" y="277.71" width="4" height="2" fill="#45A9C8" stroke="#45A9C8" stroke-width="0.6"/>
<rect x="534.57" y="278.41" width="4" height="4" fill="#fff" stroke="#45A9C8" stroke-width="0.6"/>
<rect x="534.57" y="278.41" width="4" height="2" fill="#45A9C8" stroke="#45A9C8" stroke-width="0.6"/>
<rect x="535.36" y="279.36" width="4" height="4" fill="#fff" stroke="#45A9C8" stroke-width="0.6"/>
<rect x="535.36" y="279.36" width="4" height="2" fill="#45A9C8" stroke="#45A9C8" stroke-width="0.6"/>
<rect x="536.16" y="279.87" width="4" height="4" fill="#fff" stroke="#45A9C8" stroke-width="0.6"/>
<rect x="536.16" y="279.87" width="4" height="2" fill="#45A9C8" stroke="#45A9C8" stroke-width="0.6"/>
<rect x="536.95" y="280.4" width="4" height="4" fill="#fff" stroke="#45A9C8" stroke-width="0.6"/>
<rect x="536.95" y="280.4" width="4" height="2" fill="#45A9C8" stroke="#45A9C8" stroke-width="0.6"/>
<rect x="537.74" y="280.53" width="4" height="4" fill="#fff" stroke="#45A9C8" stroke-width="0.6"/>
<rect x="537.74" y="280.53" width="4" height="2" fill="#45A9C8" stroke="#45A9C8" stroke-width="0.6"/>
<rect x="538.53" y="281" width="4" height="4" fill="#fff" stroke="#45A9C8" stroke-width="0.6"/>
<rect x="538.53" y="281" width="4" height="2" fill="#45A9C8" stroke="#45A9C8" stroke-width="0.6"/>
<rect x="539.32" y="281.69" width="4" height="4" fill="#fff" stroke="#45A9C8" stroke-width="0.6"/>
<rect x="539.32" y="281.69" width="4" height="2" fill="#45A9C8" stroke="#45A9C8" stroke-width="0.6"/>
<rect x="540.12" y="281.91" width="4" height="4" fill="#fff" stroke="#45A9C8" stroke-width="0.6"/>
<rect x="540.12" y="281.91" width="4" height="2" fill="#45A9C8" stroke="#45A9C8" stroke-width="0.6"/>
<rect x="540.91" y="282.67" width="4" height="4" fill="#fff" stroke="#45A9C8" stroke-width="0.6"/>
<rect x="540.91" y="282.67" width="4" height="2" fill="#45A9C8" stroke="#45A9C8" stroke-width="0.6"/>
<rect x="541.7" y="283.8" width="4" height="4" fill="#fff" stroke="#45A9C8" stroke-width="0.6"/>
<rect x="541.7" y="283.8" width="4" height="2" fill="#45A9C8" stroke="#45A9C8" stroke-width="0.6"/>
<rect x="542.49" y="284.26" width="4" height="4" fill="#fff" stroke="#45A9C8" stroke-width="0.6"/>
<rect x="542.49" y="284.26" width="4" height="2" fill="#45A9C8" stroke="#45A9C8" stroke-width="0.6"/>
<rect x="543.28" y="284.67" width="4" height="4" fill="#fff" stroke="#45A9C8" stroke-width="0.6"/>
<rect x="543.28" y="284.67" width="4" height="2" fill="#45A9C8" stroke="#45A9C8" stroke-width="0.6"/>
<rect x="544.08" y="285.41" width="4" height="4" fill="#fff" stroke="#45A9C8" stroke-width="0.6"/>
<rect x="544.08" y="285.41" width="4" height="2" fill="#45A9C8" stroke="#45A9C8" stroke-width="0.6"/>
<rect x="544.87" y="286.35" width="4" height="4" fill="#fff" stroke="#45A9C8" stroke-width="0.6"/>
<rect x="544.87" y="286.35" width="4" height="2" fill="#45A9C8" stroke="#45A9C8" stroke-width="0.6"/>
<rect x="545.66" y="286.68" width="4" height="4" fill="#fff" stroke="#45A9C8" stroke-width="0.6"/>
<rect x="545.66" y="286.68" width="4" height="2" fill="#45A9C8" stroke="#45A9C8" stroke-width="0.6"/>
<rect x="546.45" y="287.88" width="4" height="4" fill="#fff" stroke="#45A9C8" stroke-width="0.6"/>
<rect x="546.45" y="287.88" width="4" height="2" fill="#45A9C8" stroke="#45A9C8" stroke-width="0.6"/>
<rect x="547.25" y="287.6" width="4" height="4" fill="#fff" stroke="#45A9C8" stroke-width="0.6"/>
<rect x="547.25" y="287.6" width="4" height="2" fill="#45A9C8" stroke="#45A9C8" stroke-width="0.6"/>
<rect x="548.04" y="287.47" width="4" height="4" fill="#fff" stroke="#45A9C8" stroke-width="0.6"/>
<rect x="548.04" y="287.47" width="4" height="2" fill="#45A9C8" stroke="#45A9C8" stroke-width="0.6"/>
<rect x="548.83" y="288.32" width="4" height="4" fill="#fff" stroke="#45A9C8" stroke-width="0.6"/>
<rect x="548.83" y="288.32" width="4" height="2" fill="#45A9C8" stroke="#45A9C8" stroke-width="0.6"/>
<rect x="549.62" y="288.31" width="4" height="4" fill="#fff" stroke="#45A9C8" stroke-width="0.6"/>
<rect x="549.62" y="288.31" width="4" height="2" fill="#45A9C8" stroke="#45A9C8" stroke-width="0.6"/>
<rect x="550.41" y="288.59" width="4" height="4" fill="#fff" stroke="#45A9C8" stroke-width="0.6"/>
<rect x="550.41" y="288.59" width="4" height="2" fill="#45A9C8" stroke="#45A9C8" stroke-width="0.6"/>
<rect x="551.21" y="288.05" width="4" height="4" fill="#fff" stroke="#45A9C8" stroke-width="0.6"/>
<rect x="551.21" y="288.05" width="4" height="2" fill="#45A9C8" stroke="#45A9C8" stroke-width="0.6"/>
<rect x="552" y="288.76" width="4" height="4" fill="#fff" stroke="#45A9C8" stroke-width="0.6"/>
<rect x="552" y="288.76" width="4" height="2" fill="#45A9C8" stroke="#45A9C8" stroke-width="0.6"/>
<rect x="552.79" y="289.09" width="4" height="4" fill="#fff" stroke="#45A9C8" stroke-width="0.6"/>
<rect x="552.79" y="289.09" width="4" height="2" fill="#45A9C8" stroke="#45A9C8" stroke-width="0.6"/>
<rect x="553.58" y="288.61" width="4" height="4" fill="#fff" stroke="#45A9C8" stroke-width="0.6"/>
<rect x="553.58" y="288.61" width="4" height="2" fill="#45A9C8" stroke="#45A9C8" stroke-width="0.6"/>
<rect x="554.37" y="287.93" width="4" height="4" fill="#fff" stroke="#45A9C8" stroke-width="0.6"/>
<rect x="554.37" y="287.93" width="4" height="2" fill="#45A9C8" stroke="#45A9C8" stroke-width="0.6"/>
<rect x="555.17" y="288.78" width="4" height="4" fill="#fff" stroke="#45A9C8" stroke-width="0.6"/>
<rect x="555.17" y="288.78" width="4" height="2" fill="#45A9C8" stroke="#45A9C8" stroke-width="0.6"/>
<rect x="555.96" y="288.91" width="4" height="4" fill="#fff" stroke="#45A9C8" stroke-width="0.6"/>
<rect x="555.96" y="288.91" width="4" height="2" fill="#45A9C8" stroke="#45A9C8" stroke-width="0.6"/>
<rect x="556.75" y="288.7" width="4" height="4" fill="#fff" stroke="#45A9C8" stroke-width="0.6"/>
<rect x="556.75" y="288.7" width="4" height="2" fill="#45A9C8" stroke="#45A9C8" stroke-width="0.6"/>
<rect x="557.54" y="288.88" width="4" height="4" fill="#fff" stroke="#45A9C8" stroke-width="0.6"/>
<rect x="557.54" y="288.88" width="4" height="2" fill="#45A9C8" stroke="#45A9C8" stroke-width="0.6"/>
<rect x="558.34" y="288.06" width="4" height="4" fill="#fff" stroke="#45A9C8" stroke-width="0.6"/>
<rect x="558.34" y="288.06" width="4" height="2" fill="#45A9C8" stroke="#45A9C8" stroke-width="0.6"/>
<rect x="559.13" y="289.66" width="4" height="4" fill="#fff" stroke="#45A9C8" stroke-width="0.6"/>
<rect x="559.13" y="289.66" width="4" height="2" fill="#45A9C8" stroke="#45A9C8" stroke-width="0.6"/>
<rect x="559.92" y="291.62" width="4" height="4" fill="#fff" stroke="#45A9C8" stroke-width="0.6"/>
<rect x="559.92" y="291.62" width="4" height="2" fill="#45A9C8" stroke="#45A9C8" stroke-width="0.6"/>
<rect x="560.71" y="292.91" width="4" height="4" fill="#fff" stroke="#45A9C8" stroke-width="0.6"/>
<rect x="560.71" y="292.91" width="4" height="2" fill="#45A9C8" stroke="#45A9C8" stroke-width="0.6"/>
<rect x="561.5" y="292.39" width="4" height="4" fill="#fff" stroke="#45A9C8" stroke-width="0.6"/>
<rect x="561.5" y="292.39" width="4" height="2" fill="#45A9C8" stroke="#45A9C8" stroke-width="0.6"/>
<rect x="562.3" y="292.56" width="4" height="4" fill="#fff" stroke="#45A9C8" stroke-width="0.6"/>
<rect x="562.3" y="292.56" width="4" height="2" fill="#45A9C8" stroke="#45A9C8" stroke-width="0.6"/>
<rect x="563.09" y="292.85" width="4" height="4" fill="#fff" stroke="#45A9C8" stroke-width="0.6"/>
<rect x="563.09" y="292.85" width="4" height="2" fill="#45A9C8" stroke="#45A9C8" stroke-width="0.6"/>
<rect x="563.88" y="293.76" width="4" height="4" fill="#fff" stroke="#45A9C8" stroke-width="0.6"/>
<rect x="563.88" y="293.76" width="4" height="2" fill="#45A9C8" stroke="#45A9C8" stroke-width="0.6"/>
<rect x="564.67" y="293.03" width="4" height="4" fill="#fff" stroke="#45A9C8" stroke-width="0.6"/>
<rect x="564.67" y="293.03" width="4" height="2" fill="#45A9C8" stroke="#45A9C8" stroke-width="0.6"/>
<rect x="565.46" y="292.81" width="4" height="4" fill="#fff" stroke="#45A9C8" stroke-width="0.6"/>
<rect x="565.46" y="292.81" width="4" height="2" fill="#45A9C8" stroke="#45A9C8" stroke-width="0.6"/>
<rect x="566.26" y="292.52" width="4" height="4" fill="#fff" stroke="#45A9C8" stroke-width="0.6"/>
<rect x="566.26" y="292.52" width="4" height="2" fill="#45A9C8" stroke="#45A9C8" stroke-width="0.6"/>
<rect x="567.05" y="291.98" width="4" height="4" fill="#fff" stroke="#45A9C8" stroke-width="0.6"/>
<rect x="567.05" y="291.98" width="4" height="2" fill="#45A9C8" stroke="#45A9C8" stroke-width="0.6"/>
<rect x="567.84" y="291.74" width="4" height="4" fill="#fff" stroke="#45A9C8" stroke-width="0.6"/>
<rect x="567.84" y="291.74" width="4" height="2" fill="#45A9C8" stroke="#45A9C8" stroke-width="0.6"/>
<rect x="568.63" y="291.97" width="4" height="4" fill="#fff" stroke="#45A9C8" stroke-width="0.6"/>
<rect x="568.63" y="291.97" width="4" height="2" fill="#45A9C8" stroke="#45A9C8" stroke-width="0.6"/>
<rect x="569.43" y="292.29" width="4" height="4" fill="#fff" stroke="#45A9C8" stroke-width="0.6"/>
<rect x="569.43" y="292.29" width="4" height="2" fill="#45A9C8" stroke="#45A9C8" stroke-width="0.6"/>
<rect x="570.22" y="292.63" width="4" height="4" fill="#fff" stroke="#45A9C8" stroke-width="0.6"/>
<rect x="570.22" y="292.63" width="4" height="2" fill="#45A9C8" stroke="#45A9C8" stroke-width="0.6"/>
<rect x="571.01" y="291.88" width="4" height="4" fill="#fff" stroke="#45A9C8" stroke-width="0.6"/>
<rect x="571.01" y="291.88" width="4" height="2" fill="#45A9C8" stroke="#45A9C8" stroke-width="0.6"/>
<rect x="571.8" y="292.41" width="4" height="4" fill="#fff" stroke="#45A9C8" stroke-width="0.6"/>
<rect x="571.8" y="292.41" width="4" height="2" fill="#45A9C8" stroke="#45A9C8" stroke-width="0.6"/>
<rect x="572.59" y="292.6" width="4" height="4" fill="#fff" stroke="#45A9C8" stroke-width="0.6"/>
<rect x="572.59" y="292.6" width="4" height="2" fill="#45A9C8" stroke="#45A9C8" stroke-width="0.6"/>
<rect x="573.39" y="292.65" width="4" height="4" fill="#fff" stroke="#45A9C8" stroke-width="0.6"/>
<rect x="573.39" y="292.65" width="4" height="2" fill="#45A9C8" stroke="#45A9C8" stroke-width="0.6"/>
<rect x="574.18" y="292.45" width="4" height="4" fill="#fff" stroke="#45A9C8" stroke-width="0.6"/>
<rect x="574.18" y="292.45" width="4" height="2" fill="#45A9C8" stroke="#45A9C8" stroke-width="0.6"/>
<rect x="574.97" y="292.09" width="4" height="4" fill="#fff" stroke="#45A9C8" stroke-width="0.6"/>
<rect x="574.97" y="292.09" width="4" height="2" fill="#45A9C8" stroke="#45A9C8" stroke-width="0.6"/>
<rect x="575.76" y="292.61" width="4" height="4" fill="#fff" stroke="#45A9C8" stroke-width="0.6"/>
<rect x="575.76" y="292.61" width="4" height="2" fill="#45A9C8" stroke="#45A9C8" stroke-width="0.6"/>
<rect x="576.56" y="293.36" width="4" height="4" fill="#fff" stroke="#45A9C8" stroke-width="0.6"/>
<rect x="576.56" y="293.36" width="4" height="2" fill="#45A9C8" stroke="#45A9C8" stroke-width="0.6"/>
<rect x="577.35" y="293.31" width="4" height="4" fill="#fff" stroke="#45A9C8" stroke-width="0.6"/>
<rect x="577.35" y="293.31" width="4" height="2" fill="#45A9C8" stroke="#45A9C8" stroke-width="0.6"/>
<rect x="578.14" y="292.72" width="4" height="4" fill="#fff" stroke="#45A9C8" stroke-width="0.6"/>
<rect x="578.14" y="292.72" width="4" height="2" fill="#45A9C8" stroke="#45A9C8" stroke-width="0.6"/>
<rect x="578.93" y="292.36" width="4" height="4" fill="#fff" stroke="#45A9C8" stroke-width="0.6"/>
<rect x="578.93" y="292.36" width="4" height="2" fill="#45A9C8" stroke="#45A9C8" stroke-width="0.6"/>
<rect x="579.72" y="292.25" width="4" height="4" fill="#fff" stroke="#45A9C8" stroke-width="0.6"/>
<rect x="579.72" y="292.25" width="4" height="2" fill="#45A9C8" stroke="#45A9C8" stroke-width="0.6"/>
<rect x="580.52" y="292.4" width="4" height="4" fill="#fff" stroke="#45A9C8" stroke-width="0.6"/>
<rect x="580.52" y="292.4" width="4" height="2" fill="#45A9C8" stroke="#45A9C8" stroke-width="0.6"/>
<rect x="581.31" y="292.26" width="4" height="4" fill="#fff" stroke="#45A9C8" stroke-width="0.6"/>
<rect x="581.31" y="292.26" width="4" height="2" fill="#45A9C8" stroke="#45A9C8" stroke-width="0.6"/>
<rect x="582.1" y="292.48" width="4" height="4" fill="#fff" stroke="#45A9C8" stroke-width="0.6"/>
<rect x="582.1" y="292.48" width="4" height="2" fill="#45A9C8" stroke="#45A9C8" stroke-width="0.6"/>
<rect x="582.89" y="292.31" width="4" height="4" fill="#fff" stroke="#45A9C8" stroke-width="0.6"/>
<rect x="582.89" y="292.31" width="4" height="2" fill="#45A9C8" stroke="#45A9C8" stroke-width="0.6"/>
<rect x="583.68" y="293.04" width="4" height="4" fill="#fff" stroke="#45A9C8" stroke-width="0.6"/>
<rect x="583.68" y="293.04" width="4" height="2" fill="#45A9C8" stroke="#45A9C8" stroke-width="0.6"/>
<rect x="584.48" y="293.56" width="4" height="4" fill="#fff" stroke="#45A9C8" stroke-width="0.6"/>
<rect x="584.48" y="293.56" width="4" height="2" fill="#45A9C8" stroke="#45A9C8" stroke-width="0.6"/>
<rect x="585.27" y="294.16" width="4" height="4" fill="#fff" stroke="#45A9C8" stroke-width="0.6"/>
<rect x="585.27" y="294.16" width="4" height="2" fill="#45A9C8" stroke="#45A9C8" stroke-width="0.6"/>
<rect x="586.06" y="294.44" width="4" height="4" fill="#fff" stroke="#45A9C8" stroke-width="0.6"/>
<rect x="586.06" y="294.44" width="4" height="2" fill="#45A9C8" stroke="#45A9C8" stroke-width="0.6"/>
<rect x="586.85" y="294.89" width="4" height="4" fill="#fff" stroke="#45A9C8" stroke-width="0.6"/>
<rect x="586.85" y="294.89" width="4" height="2" fill="#45A9C8" stroke="#45A9C8" stroke-width="0.6"/>
<rect x="587.65" y="294.2" width="4" height="4" fill="#fff" stroke="#45A9C8" stroke-width="0.6"/>
<rect x="587.65" y="294.2" width="4" height="2" fill="#45A9C8" stroke="#45A9C8" stroke-width="0.6"/>
<rect x="588.44" y="294.03" width="4" height="4" fill="#fff" stroke="#45A9C8" stroke-width="0.6"/>
<rect x="588.44" y="294.03" width="4" height="2" fill="#45A9C8" stroke="#45A9C8" stroke-width="0.6"/>
<rect x="589.23" y="293.87" width="4" height="4" fill="#fff" stroke="#45A9C8" stroke-width="0.6"/>
<rect x="589.23" y="293.87" width="4" height="2" fill="#45A9C8" stroke="#45A9C8" stroke-width="0.6"/>
<rect x="590.02" y="295.11" width="4" height="4" fill="#fff" stroke="#45A9C8" stroke-width="0.6"/>
<rect x="590.02" y="295.11" width="4" height="2" fill="#45A9C8" stroke="#45A9C8" stroke-width="0.6"/>
<rect x="590.81" y="295.46" width="4" height="4" fill="#fff" stroke="#45A9C8" stroke-width="0.6"/>
<rect x="590.81" y="295.46" width="4" height="2" fill="#45A9C8" stroke="#45A9C8" stroke-width="0.6"/>
<rect x="591.61" y="295.92" width="4" height="4" fill="#fff" stroke="#45A9C8" stroke-width="0.6"/>
<rect x="591.61" y="295.92" width="4" height="2" fill="#45A9C8" stroke="#45A9C8" stroke-width="0.6"/>
<rect x="592.4" y="295.85" width="4" height="4" fill="#fff" stroke="#45A9C8" stroke-width="0.6"/>
<rect x="592.4" y="295.85" width="4" height="2" fill="#45A9C8" stroke="#45A9C8" stroke-width="0.6"/>
<rect x="593.19" y="297.07" width="4" height="4" fill="#fff" stroke="#45A9C8" stroke-width="0.6"/>
<rect x="593.19" y="297.07" width="4" height="2" fill="#45A9C8" stroke="#45A9C8" stroke-width="0.6"/>
<rect x="593.98" y="296.7" width="4" height="4" fill="#fff" stroke="#45A9C8" stroke-width="0.6"/>
<rect x="593.98" y="296.7" width="4" height="2" fill="#45A9C8" stroke="#45A9C8" stroke-width="0.6"/>
<rect x="594.77" y="296.32" width="4" height="4" fill="#fff" stroke="#45A9C8" stroke-width="0.6"/>
<rect x="594.77" y="296.32" width="4" height="2" fill="#45A9C8" stroke="#45A9C8" stroke-width="0.6"/>
<rect x="595.57" y="297" width="4" height="4" fill="#fff" stroke="#45A9C8" stroke-width="0.6"/>
<rect x="595.57" y="297" width="4" height="2" fill="#45A9C8" stroke="#45A9C8" stroke-width="0.6"/>
<rect x="596.36" y="297.61" width="4" height="4" fill="#fff" stroke="#45A9C8" stroke-width="0.6"/>
<rect x="596.36" y="297.61" width="4" height="2" fill="#45A9C8" stroke="#45A9C8" stroke-width="0.6"/>
<rect x="597.15" y="298.2" width="4" height="4" fill="#fff" stroke="#45A9C8" stroke-width="0.6"/>
<rect x="597.15" y="298.2" width="4" height="2" fill="#45A9C8" stroke="#45A9C8" stroke-width="0.6"/>
<rect x="597.94" y="298.44" width="4" height="4" fill="#fff" stroke="#45A9C8" stroke-width="0.6"/>
<rect x="597.94" y="298.44" width="4" height="2" fill="#45A9C8" stroke="#45A9C8" stroke-width="0.6"/>
<rect x="598.74" y="298.43" width="4" height="4" fill="#fff" stroke="#45A9C8" stroke-width="0.6"/>
<rect x="598.74" y="298.43" width="4" height="2" fill="#45A9C8" stroke="#45A9C8" stroke-width="0.6"/>
<rect x="599.53" y="297.82" width="4" height="4" fill="#fff" stroke="#45A9C8" stroke-width="0.6"/>
<rect x="599.53" y="297.82" width="4" height="2" fill="#45A9C8" stroke="#45A9C8" stroke-width="0.6"/>
<rect x="600.32" y="298.19" width="4" height="4" fill="#fff" stroke="#45A9C8" stroke-width="0.6"/>
<rect x="600.32" y="298.19" width="4" height="2" fill="#45A9C8" stroke="#45A9C8" stroke-width="0.6"/>
<rect x="601.11" y="298.04" width="4" height="4" fill="#fff" stroke="#45A9C8" stroke-width="0.6"/>
<rect x="601.11" y="298.04" width="4" height="2" fill="#45A9C8" stroke="#45A9C8" stroke-width="0.6"/>
<rect x="601.9" y="298.2" width="4" height="4" fill="#fff" stroke="#45A9C8" stroke-width="0.6"/>
<rect x="601.9" y="298.2" width="4" height="2" fill="#45A9C8" stroke="#45A9C8" stroke-width="0.6"/>
<rect x="602.7" y="297.68" width="4" height="4" fill="#fff" stroke="#45A9C8" stroke-width="0.6"/>
<rect x="602.7" y="297.68" width="4" height="2" fill="#45A9C8" stroke="#45A9C8" stroke-width="0.6"/>
<rect x="603.49" y="297.63" width="4" height="4" fill="#fff" stroke="#45A9C8" stroke-width="0.6"/>
<rect x="603.49" y="297.63" width="4" height="2" fill="#45A9C8" stroke="#45A9C8" stroke-width="0.6"/>
<rect x="604.28" y="297.29" width="4" height="4" fill="#fff" stroke="#45A9C8" stroke-width="0.6"/>
<rect x="604.28" y="297.29" width="4" height="2" fill="#45A9C8" stroke="#45A9C8" stroke-width="0.6"/>
<rect x="605.07" y="298.06" width="4" height="4" fill="#fff" stroke="#45A9C8" stroke-width="0.6"/>
<rect x="605.07" y="298.06" width="4" height="2" fill="#45A9C8" stroke="#45A9C8" stroke-width="0.6"/>
<rect x="605.87" y="298.34" width="4" height="4" fill="#fff" stroke="#45A9C8" stroke-width="0.6"/>
<rect x="605.87" y="298.34" width="4" height="2" fill="#45A9C8" stroke="#45A9C8" stroke-width="0.6"/>
<rect x="606.66" y="298.89" width="4" height="4" fill="#fff" stroke="#45A9C8" stroke-width="0.6"/>
<rect x="606.66" y="298.89" width="4" height="2" fill="#45A9C8" stroke="#45A9C8" stroke-width="0.6"/>
<rect x="607.45" y="298.36" width="4" height="4" fill="#fff" stroke="#45A9C8" stroke-width="0.6"/>
<rect x="607.45" y="298.36" width="4" height="2" fill="#45A9C8" stroke="#45A9C8" stroke-width="0.6"/>
<rect x="608.24" y="298.3" width="4" height="4" fill="#fff" stroke="#45A9C8" stroke-width="0.6"/>
<rect x="608.24" y="298.3" width="4" height="2" fill="#45A9C8" stroke="#45A9C8" stroke-width="0.6"/>
<rect x="609.03" y="298.61" width="4" height="4" fill="#fff" stroke="#45A9C8" stroke-width="0.6"/>
<rect x="609.03" y="298.61" width="4" height="2" fill="#45A9C8" stroke="#45A9C8" stroke-width="0.6"/>
<rect x="609.83" y="298.95" width="4" height="4" fill="#fff" stroke="#45A9C8" stroke-width="0.6"/>
<rect x="609.83" y="298.95" width="4" height="2" fill="#45A9C8" stroke="#45A9C8" stroke-width="0.6"/>
<rect x="610.62" y="298.78" width="4" height="4" fill="#fff" stroke="#45A9C8" stroke-width="0.6"/>
<rect x="610.62" y="298.78" width="4" height="2" fill="#45A9C8" stroke="#45A9C8" stroke-width="0.6"/>
<rect x="611.41" y="299.15" width="4" height="4" fill="#fff" stroke="#45A9C8" stroke-width="0.6"/>
<rect x="611.41" y="299.15" width="4" height="2" fill="#45A9C8" stroke="#45A9C8" stroke-width="0.6"/>
<rect x="612.2" y="299.64" width="4" height="4" fill="#fff" stroke="#45A9C8" stroke-width="0.6"/>
<rect x="612.2" y="299.64" width="4" height="2" fill="#45A9C8" stroke="#45A9C8" stroke-width="0.6"/>
<rect x="612.99" y="299.54" width="4" height="4" fill="#fff" stroke="#45A9C8" stroke-width="0.6"/>
<rect x="612.99" y="299.54" width="4" height="2" fill="#45A9C8" stroke="#45A9C8" stroke-width="0.6"/>
<rect x="613.79" y="298.49" width="4" height="4" fill="#fff" stroke="#45A9C8" stroke-width="0.6"/>
<rect x="613.79" y="298.49" width="4" height="2" fill="#45A9C8" stroke="#45A9C8" stroke-width="0.6"/>
<rect x="614.58" y="298.67" width="4" height="4" fill="#fff" stroke="#45A9C8" stroke-width="0.6"/>
<rect x="614.58" y="298.67" width="4" height="2" fill="#45A9C8" stroke="#45A9C8" stroke-width="0.6"/>
<rect x="615.37" y="299" width="4" height="4" fill="#fff" stroke="#45A9C8" stroke-width="0.6"/>
<rect x="615.37" y="299" width="4" height="2" fill="#45A9C8" stroke="#45A9C8" stroke-width="0.6"/>
<rect x="616.16" y="299.6" width="4" height="4" fill="#fff" stroke="#45A9C8" stroke-width="0.6"/>
<rect x="616.16" y="299.6" width="4" height="2" fill="#45A9C8" stroke="#45A9C8" stroke-width="0.6"/>
<rect x="616.96" y="300.21" width="4" height="4" fill="#fff" stroke="#45A9C8" stroke-width="0.6"/>
<rect x="616.96" y="300.21" width="4" height="2" fill="#45A9C8" stroke="#45A9C8" stroke-width="0.6"/>
<rect x="617.75" y="299.97" width="4" height="4" fill="#fff" stroke="#45A9C8" stroke-width="0.6"/>
<rect x="617.75" y="299.97" width="4" height="2" fill="#45A9C8" stroke="#45A9C8" stroke-width="0.6"/>
<rect x="618.54" y="299.61" width="4" height="4" fill="#fff" stroke="#45A9C8" stroke-width="0.6"/>
<rect x="618.54" y="299.61" width="4" height="2" fill="#45A9C8" stroke="#45A9C8" stroke-width="0.6"/>
<rect x="619.33" y="299.6" width="4" height="4" fill="#fff" stroke="#45A9C8" stroke-width="0.6"/>
<rect x="619.33" y="299.6" width="4" height="2" fill="#45A9C8" stroke="#45A9C8" stroke-width="0.6"/>
<rect x="620.12" y="299.35" width="4" height="4" fill="#fff" stroke="#45A9C8" stroke-width="0.6"/>
<rect x="620.12" y="299.35" width="4" height="2" fill="#45A9C8" stroke="#45A9C8" stroke-width="0.6"/>
<rect x="620.92" y="299.18" width="4" height="4" fill="#fff" stroke="#45A9C8" stroke-width="0.6"/>
<rect x="620.92" y="299.18" width="4" height="2" fill="#45A9C8" stroke="#45A9C8" stroke-width="0.6"/>
<rect x="621.71" y="299.01" width="4" height="4" fill="#fff" stroke="#45A9C8" stroke-width="0.6"/>
<rect x="621.71" y="299.01" width="4" height="2" fill="#45A9C8" stroke="#45A9C8" stroke-width="0.6"/>
<rect x="622.5" y="299.67" width="4" height="4" fill="#fff" stroke="#45A9C8" stroke-width="0.6"/>
<rect x="622.5" y="299.67" width="4" height="2" fill="#45A9C8" stroke="#45A9C8" stroke-width="0.6"/>
<rect x="623.29" y="299.86" width="4" height="4" fill="#fff" stroke="#45A9C8" stroke-width="0.6"/>
<rect x="623.29" y="299.86" width="4" height="2" fill="#45A9C8" stroke="#45A9C8" stroke-width="0.6"/>
<rect x="624.08" y="299.77" width="4" height="4" fill="#fff" stroke="#45A9C8" stroke-width="0.6"/>
<rect x="624.08" y="299.77" width="4" height="2" fill="#45A9C8" stroke="#45A9C8" stroke-width="0.6"/>
<rect x="624.88" y="300.09" width="4" height="4" fill="#fff" stroke="#45A9C8" stroke-width="0.6"/>
<rect x="624.88" y="300.09" width="4" height="2" fill="#45A9C8" stroke="#45A9C8" stroke-width="0.6"/>
<rect x="625.67" y="300.29" width="4" height="4" fill="#fff" stroke="#45A9C8" stroke-width="0.6"/>
<rect x="625.67" y="300.29" width="4" height="2" fill="#45A9C8" stroke="#45A9C8" stroke-width="0.6"/>
<rect x="626.46" y="300.68" width="4" height="4" fill="#fff" stroke="#45A9C8" stroke-width="0.6"/>
<rect x="626.46" y="300.68" width="4" height="2" fill="#45A9C8" stroke="#45A9C8" stroke-width="0.6"/>
<rect x="627.25" y="300.81" width="4" height="4" fill="#fff" stroke="#45A9C8" stroke-width="0.6"/>
<rect x="627.25" y="300.81" width="4" height="2" fill="#45A9C8" stroke="#45A9C8" stroke-width="0.6"/>
<rect x="628.05" y="300.49" width="4" height="4" fill="#fff" stroke="#45A9C8" stroke-width="0.6"/>
<rect x="628.05" y="300.49" width="4" height="2" fill="#45A9C8" stroke="#45A9C8" stroke-width="0.6"/>
<rect x="628.84" y="300.77" width="4" height="4" fill="#fff" stroke="#45A9C8" stroke-width="0.6"/>
<rect x="628.84" y="300.77" width="4" height="2" fill="#45A9C8" stroke="#45A9C8" stroke-width="0.6"/>
<rect x="629.63" y="300.96" width="4" height="4" fill="#fff" stroke="#45A9C8" stroke-width="0.6"/>
<rect x="629.63" y="300.96" width="4" height="2" fill="#45A9C8" stroke="#45A9C8" stroke-width="0.6"/>
<rect x="630.42" y="300.72" width="4" height="4" fill="#fff" stroke="#45A9C8" stroke-width="0.6"/>
<rect x="630.42" y="300.72" width="4" height="2" fill="#45A9C8" stroke="#45A9C8" stroke-width="0.6"/>
<rect x="631.21" y="300.62" width="4" height="4" fill="#fff" stroke="#45A9C8" stroke-width="0.6"/>
<rect x="631.21" y="300.62" width="4" height="2" fill="#45A9C8" stroke="#45A9C8" stroke-width="0.6"/>
<rect x="632.01" y="300.09" width="4" height="4" fill="#fff" stroke="#45A9C8" stroke-width="0.6"/>
<rect x="632.01" y="300.09" width="4" height="2" fill="#45A9C8" stroke="#45A9C8" stroke-width="0.6"/>
<rect x="632.8" y="301.32" width="4" height="4" fill="#fff" stroke="#45A9C8" stroke-width="0.6"/>
<rect x="632.8" y="301.32" width="4" height="2" fill="#45A9C8" stroke="#45A9C8" stroke-width="0.6"/>
<rect x="633.59" y="301.25" width="4" height="4" fill="#fff" stroke="#45A9C8" stroke-width="0.6"/>
<rect x="633.59" y="301.25" width="4" height="2" fill="#45A9C8" stroke="#45A9C8" stroke-width="0.6"/>
<rect x="634.38" y="301.77" width="4" height="4" fill="#fff" stroke="#45A9C8" stroke-width="0.6"/>
<rect x="634.38" y="301.77" width="4" height="2" fill="#45A9C8" stroke="#45A9C8" stroke-width="0.6"/>
<rect x="635.18" y="302.01" width="4" height="4" fill="#fff" stroke="#45A9C8" stroke-width="0.6"/>
<rect x="635.18" y="302.01" width="4" height="2" fill="#45A9C8" stroke="#45A9C8" stroke-width="0.6"/>
<rect x="635.97" y="301.96" width="4" height="4" fill="#fff" stroke="#45A9C8" stroke-width="0.6"/>
<rect x="635.97" y="301.96" width="4" height="2" fill="#45A9C8" stroke="#45A9C8" stroke-width="0.6"/>
<rect x="636.76" y="301.76" width="4" height="4" fill="#fff" stroke="#45A9C8" stroke-width="0.6"/>
<rect x="636.76" y="301.76" width="4" height="2" fill="#45A9C8" stroke="#45A9C8" stroke-width="0.6"/>
<rect x="637.55" y="301.62" width="4" height="4" fill="#fff" stroke="#45A9C8" stroke-width="0.6"/>
<rect x="637.55" y="301.62" width="4" height="2" fill="#45A9C8" stroke="#45A9C8" stroke-width="0.6"/>
<rect x="638.34" y="301.86" width="4" height="4" fill="#fff" stroke="#45A9C8" stroke-width="0.6"/>
<rect x="638.34" y="301.86" width="4" height="2" fill="#45A9C8" stroke="#45A9C8" stroke-width="0.6"/>
<rect x="639.14" y="301.57" width="4" height="4" fill="#fff" stroke="#45A9C8" stroke-width="0.6"/>
<rect x="639.14" y="301.57" width="4" height="2" fill="#45A9C8" stroke="#45A9C8" stroke-width="0.6"/>
<rect x="639.93" y="302.12" width="4" height="4" fill="#fff" stroke="#45A9C8" stroke-width="0.6"/>
<rect x="639.93" y="302.12" width="4" height="2" fill="#45A9C8" stroke="#45A9C8" stroke-width="0.6"/>
<rect x="640.72" y="302.65" width="4" height="4" fill="#fff" stroke="#45A9C8" stroke-width="0.6"/>
<rect x="640.72" y="302.65" width="4" height="2" fill="#45A9C8" stroke="#45A9C8" stroke-width="0.6"/>
<rect x="641.51" y="302.74" width="4" height="4" fill="#fff" stroke="#45A9C8" stroke-width="0.6"/>
<rect x="641.51" y="302.74" width="4" height="2" fill="#45A9C8" stroke="#45A9C8" stroke-width="0.6"/>
<rect x="642.3" y="303.46" width="4" height="4" fill="#fff" stroke="#45A9C8" stroke-width="0.6"/>
<rect x="642.3" y="303.46" width="4" height="2" fill="#45A9C8" stroke="#45A9C8" stroke-width="0.6"/>
<rect x="643.1" y="302.88" width="4" height="4" fill="#fff" stroke="#45A9C8" stroke-width="0.6"/>
<rect x="643.1" y="302.88" width="4" height="2" fill="#45A9C8" stroke="#45A9C8" stroke-width="0.6"/>
<rect x="643.89" y="302.8" width="4" height="4" fill="#fff" stroke="#45A9C8" stroke-width="0.6"/>
<rect x="643.89" y="302.8" width="4" height="2" fill="#45A9C8" stroke="#45A9C8" stroke-width="0.6"/>
<rect x="644.68" y="302.19" width="4" height="4" fill="#fff" stroke="#45A9C8" stroke-width="0.6"/>
<rect x="644.68" y="302.19" width="4" height="2" fill="#45A9C8" stroke="#45A9C8" stroke-width="0.6"/>
<rect x="645.47" y="302.58" width="4" height="4" fill="#fff" stroke="#45A9C8" stroke-width="0.6"/>
<rect x="645.47" y="302.58" width="4" height="2" fill="#45A9C8" stroke="#45A9C8" stroke-width="0.6"/>
<rect x="646.27" y="303.13" width="4" height="4" fill="#fff" stroke="#45A9C8" stroke-width="0.6"/>
<rect x="646.27" y="303.13" width="4" height="2" fill="#45A9C8" stroke="#45A9C8" stroke-width="0.6"/>
<rect x="647.06" y="303.46" width="4" height="4" fill="#fff" stroke="#45A9C8" stroke-width="0.6"/>
<rect x="647.06" y="303.46" width="4" height="2" fill="#45A9C8" stroke="#45A9C8" stroke-width="0.6"/>
<rect x="647.85" y="303.49" width="4" height="4" fill="#fff" stroke="#45A9C8" stroke-width="0.6"/>
<rect x="647.85" y="303.49" width="4" height="2" fill="#45A9C8" stroke="#45A9C8" stroke-width="0.6"/>
<rect x="648.64" y="304.11" width="4" height="4" fill="#fff" stroke="#45A9C8" stroke-width="0.6"/>
<rect x="648.64" y="304.11" width="4" height="2" fill="#45A9C8" stroke="#45A9C8" stroke-width="0.6"/>
<rect x="649.43" y="304.2" width="4" height="4" fill="#fff" stroke="#45A9C8" stroke-width="0.6"/>
<rect x="649.43" y="304.2" width="4" height="2" fill="#45A9C8" stroke="#45A9C8" stroke-width="0.6"/>
<rect x="650.23" y="304.39" width="4" height="4" fill="#fff" stroke="#45A9C8" stroke-width="0.6"/>
<rect x="650.23" y="304.39" width="4" height="2" fill="#45A9C8" stroke="#45A9C8" stroke-width="0.6"/>
<rect x="651.02" y="303.77" width="4" height="4" fill="#fff" stroke="#45A9C8" stroke-width="0.6"/>
<rect x="651.02" y="303.77" width="4" height="2" fill="#45A9C8" stroke="#45A9C8" stroke-width="0.6"/>
<rect x="651.81" y="304.23" width="4" height="4" fill="#fff" stroke="#45A9C8" stroke-width="0.6"/>
<rect x="651.81" y="304.23" width="4" height="2" fill="#45A9C8" stroke="#45A9C8" stroke-width="0.6"/>
<rect x="652.6" y="303.92" width="4" height="4" fill="#fff" stroke="#45A9C8" stroke-width="0.6"/>
<rect x="652.6" y="303.92" width="4" height="2" fill="#45A9C8" stroke="#45A9C8" stroke-width="0.6"/>
<rect x="653.39" y="304.39" width="4" height="4" fill="#fff" stroke="#45A9C8" stroke-width="0.6"/>
<rect x="653.39" y="304.39" width="4" height="2" fill="#45A9C8" stroke="#45A9C8" stroke-width="0.6"/>
<rect x="654.19" y="305.04" width="4" height="4" fill="#fff" stroke="#45A9C8" stroke-width="0.6"/>
<rect x="654.19" y="305.04" width="4" height="2" fill="#45A9C8" stroke="#45A9C8" stroke-width="0.6"/>
<rect x="654.98" y="305.6" width="4" height="4" fill="#fff" stroke="#45A9C8" stroke-width="0.6"/>
<rect x="654.98" y="305.6" width="4" height="2" fill="#45A9C8" stroke="#45A9C8" stroke-width="0.6"/>
<rect x="655.77" y="306.38" width="4" height="4" fill="#fff" stroke="#45A9C8" stroke-width="0.6"/>
<rect x="655.77" y="306.38" width="4" height="2" fill="#45A9C8" stroke="#45A9C8" stroke-width="0.6"/>
<rect x="656.56" y="306.53" width="4" height="4" fill="#fff" stroke="#45A9C8" stroke-width="0.6"/>
<rect x="656.56" y="306.53" width="4" height="2" fill="#45A9C8" stroke="#45A9C8" stroke-width="0.6"/>
<rect x="657.36" y="306.18" width="4" height="4" fill="#fff" stroke="#45A9C8" stroke-width="0.6"/>
<rect x="657.36" y="306.18" width="4" height="2" fill="#45A9C8" stroke="#45A9C8" stroke-width="0.6"/>
<rect x="658.15" y="306.28" width="4" height="4" fill="#fff" stroke="#45A9C8" stroke-width="0.6"/>
<rect x="658.15" y="306.28" width="4" height="2" fill="#45A9C8" stroke="#45A9C8" stroke-width="0.6"/>
<rect x="658.94" y="306.07" width="4" height="4" fill="#fff" stroke="#45A9C8" stroke-width="0.6"/>
<rect x="658.94" y="306.07" width="4" height="2" fill="#45A9C8" stroke="#45A9C8" stroke-width="0.6"/>
<rect x="659.73" y="305.45" width="4" height="4" fill="#fff" stroke="#45A9C8" stroke-width="0.6"/>
<rect x="659.73" y="305.45" width="4" height="2" fill="#45A9C8" stroke="#45A9C8" stroke-width="0.6"/>
<rect x="660.52" y="305.43" width="4" height="4" fill="#fff" stroke="#45A9C8" stroke-width="0.6"/>
<rect x="660.52" y="305.43" width="4" height="2" fill="#45A9C8" stroke="#45A9C8" stroke-width="0.6"/>
<rect x="661.32" y="305.51" width="4" height="4" fill="#fff" stroke="#45A9C8" stroke-width="0.6"/>
<rect x="661.32" y="305.51" width="4" height="2" fill="#45A9C8" stroke="#45A9C8" stroke-width="0.6"/>
<rect x="662.11" y="305.84" width="4" height="4" fill="#fff" stroke="#45A9C8" stroke-width="0.6"/>
<rect x="662.11" y="305.84" width="4" height="2" fill="#45A9C8" stroke="#45A9C8" stroke-width="0.6"/>
<rect x="662.9" y="306.74" width="4" height="4" fill="#fff" stroke="#45A9C8" stroke-width="0.6"/>
<rect x="662.9" y="306.74" width="4" height="2" fill="#45A9C8" stroke="#45A9C8" stroke-width="0.6"/>
<rect x="663.69" y="306.55" width="4" height="4" fill="#fff" stroke="#45A9C8" stroke-width="0.6"/>
<rect x="663.69" y="306.55" width="4" height="2" fill="#45A9C8" stroke="#45A9C8" stroke-width="0.6"/>
<rect x="664.48" y="307.48" width="4" height="4" fill="#fff" stroke="#45A9C8" stroke-width="0.6"/>
<rect x="664.48" y="307.48" width="4" height="2" fill="#45A9C8" stroke="#45A9C8" stroke-width="0.6"/>
<rect x="665.28" y="307.28" width="4" height="4" fill="#fff" stroke="#45A9C8" stroke-width="0.6"/>
<rect x="665.28" y="307.28" width="4" height="2" fill="#45A9C8" stroke="#45A9C8" stroke-width="0.6"/>
<rect x="666.07" y="307.35" width="4" height="4" fill="#fff" stroke="#45A9C8" stroke-width="0.6"/>
<rect x="666.07" y="307.35" width="4" height="2" fill="#45A9C8" stroke="#45A9C8" stroke-width="0.6"/>
<rect x="666.86" y="306.87" width="4" height="4" fill="#fff" stroke="#45A9C8" stroke-width="0.6"/>
<rect x="666.86" y="306.87" width="4" height="2" fill="#45A9C8" stroke="#45A9C8" stroke-width="0.6"/>
<rect x="667.65" y="306.94" width="4" height="4" fill="#fff" stroke="#45A9C8" stroke-width="0.6"/>
<rect x="667.65" y="306.94" width="4" height="2" fill="#45A9C8" stroke="#45A9C8" stroke-width="0.6"/>
<rect x="668.45" y="307.08" width="4" height="4" fill="#fff" stroke="#45A9C8" stroke-width="0.6"/>
<rect x="668.45" y="307.08" width="4" height="2" fill="#45A9C8" stroke="#45A9C8" stroke-width="0.6"/>
<rect x="669.24" y="306.72" width="4" height="4" fill="#fff" stroke="#45A9C8" stroke-width="0.6"/>
<rect x="669.24" y="306.72" width="4" height="2" fill="#45A9C8" stroke="#45A9C8" stroke-width="0.6"/>
<rect x="670.03" y="306.77" width="4" height="4" fill="#fff" stroke="#45A9C8" stroke-width="0.6"/>
<rect x="670.03" y="306.77" width="4" height="2" fill="#45A9C8" stroke="#45A9C8" stroke-width="0.6"/>
<rect x="670.82" y="306.69" width="4" height="4" fill="#fff" stroke="#45A9C8" stroke-width="0.6"/>
<rect x="670.82" y="306.69" width="4" height="2" fill="#45A9C8" stroke="#45A9C8" stroke-width="0.6"/>
<rect x="671.61" y="306.5" width="4" height="4" fill="#fff" stroke="#45A9C8" stroke-width="0.6"/>
<rect x="671.61" y="306.5" width="4" height="2" fill="#45A9C8" stroke="#45A9C8" stroke-width="0.6"/>
<rect x="672.41" y="306.38" width="4" height="4" fill="#fff" stroke="#45A9C8" stroke-width="0.6"/>
<rect x="672.41" y="306.38" width="4" height="2" fill="#45A9C8" stroke="#45A9C8" stroke-width="0.6"/>
<rect x="673.2" y="306.24" width="4" height="4" fill="#fff" stroke="#45A9C8" stroke-width="0.6"/>
<rect x="673.2" y="306.24" width="4" height="2" fill="#45A9C8" stroke="#45A9C8" stroke-width="0.6"/>
<polygon points="500.3,208 503.3,205 506.3,208 503.3,211" fill="#fff" stroke="#F4A46C" stroke-width="0.6"/>
<polygon points="500.3,208 503.3,205 506.3,208" fill="#F4A46C" stroke="#F4A46C" stroke-width="0.6" stroke-linejoin="round"/>
<polygon points="500.99,207.44 503.99,204.44 506.99,207.44 503.99,210.44" fill="#fff" stroke="#F4A46C" stroke-width="0.6"/>
<polygon points="500.99,207.44 503.99,204.44 506.99,207.44" fill="#F4A46C" stroke="#F4A46C" stroke-width="0.6" stroke-linejoin="round"/>
<polygon points="501.69,208.27 504.69,205.27 507.69,208.27 504.69,211.27" fill="#fff" stroke="#F4A46C" stroke-width="0.6"/>
<polygon points="501.69,208.27 504.69,205.27 507.69,208.27" fill="#F4A46C" stroke="#F4A46C" stroke-width="0.6" stroke-linejoin="round"/>
<polygon points="502.38,207 505.38,204 508.38,207 505.38,210" fill="#fff" stroke="#F4A46C" stroke-width="0.6"/>
<polygon points="502.38,207 505.38,204 508.38,207" fill="#F4A46C" stroke="#F4A46C" stroke-width="0.6" stroke-linejoin="round"/>
<polygon points="503.07,207.48 506.07,204.48 509.07,207.48 506.07,210.48" fill="#fff" stroke="#F4A46C" stroke-width="0.6"/>
<polygon points="503.07,207.48 506.07,204.48 509.07,207.48" fill="#F4A46C" stroke="#F4A46C" stroke-width="0.6" stroke-linejoin="round"/>
<polygon points="503.77,206.35 506.77,203.35 509.77,206.35 506.77,209.35" fill="#fff" stroke="#F4A46C" stroke-width="0.6"/>
<polygon points="503.77,206.35 506.77,203.35 509.77,206.35" fill="#F4A46C" stroke="#F4A46C" stroke-width="0.6" stroke-linejoin="round"/>
<polygon points="504.46,206.38 507.46,203.38 510.46,206.38 507.46,209.38" fill="#fff" stroke="#F4A46C" stroke-width="0.6"/>
<polygon points="504.46,206.38 507.46,203.38 510.46,206.38" fill="#F4A46C" stroke="#F4A46C" stroke-width="0.6" stroke-linejoin="round"/>
<polygon points="505.15,208.2 508.15,205.2 511.15,208.2 508.15,211.2" fill="#fff" stroke="#F4A46C" stroke-width="0.6"/>
<polygon points="505.15,208.2 508.15,205.2 511.15,208.2" fill="#F4A46C" stroke="#F4A46C" stroke-width="0.6" stroke-linejoin="round"/>
<polygon points="505.85,207.46 508.85,204.46 511.85,207.46 508.85,210.46" fill="#fff" stroke="#F4A46C" stroke-width="0.6"/>
<polygon points="505.85,207.46 508.85,204.46 511.85,207.46" fill="#F4A46C" stroke="#F4A46C" stroke-width="0.6" stroke-linejoin="round"/>
<polygon points="506.54,208.04 509.54,205.04 512.54,208.04 509.54,211.04" fill="#fff" stroke="#F4A46C" stroke-width="0.6"/>
<polygon points="506.54,208.04 509.54,205.04 512.54,208.04" fill="#F4A46C" stroke="#F4A46C" stroke-width="0.6" stroke-linejoin="round"/>
<polygon points="507.23,208.95 510.23,205.95 513.23,208.95 510.23,211.95" fill="#fff" stroke="#F4A46C" stroke-width="0.6"/>
<polygon points="507.23,208.95 510.23,205.95 513.23,208.95" fill="#F4A46C" stroke="#F4A46C" stroke-width="0.6" stroke-linejoin="round"/>
<polygon points="507.92,208.57 510.92,205.57 513.92,208.57 510.92,211.57" fill="#fff" stroke="#F4A46C" stroke-width="0.6"/>
<polygon points="507.92,208.57 510.92,205.57 513.92,208.57" fill="#F4A46C" stroke="#F4A46C" stroke-width="0.6" stroke-linejoin="round"/>
<polygon points="508.62,209.63 511.62,206.63 514.62,209.63 511.62,212.63" fill="#fff" stroke="#F4A46C" stroke-width="0.6"/>
<polygon points="508.62,209.63 511.62,206.63 514.62,209.63" fill="#F4A46C" stroke="#F4A46C" stroke-width="0.6" stroke-linejoin="round"/>
<polygon points="509.31,210.86 512.31,207.86 515.31,210.86 512.31,213.86" fill="#fff" stroke="#F4A46C" stroke-width="0.6"/>
<polygon points="509.31,210.86 512.31,207.86 515.31,210.86" fill="#F4A46C" stroke="#F4A46C" stroke-width="0.6" stroke-linejoin="round"/>
<polygon points="510,210.59 513,207.59 516,210.59 513,213.59" fill="#fff" stroke="#F4A46C" stroke-width="0.6"/>
<polygon points="510,210.59 513,207.59 516,210.59" fill="#F4A46C" stroke="#F4A46C" stroke-width="0.6" stroke-linejoin="round"/>
<polygon points="510.7,211.36 513.7,208.36 516.7,211.36 513.7,214.36" fill="#fff" stroke="#F4A46C" stroke-width="0.6"/>
<polygon points="510.7,211.36 513.7,208.36 516.7,211.36" fill="#F4A46C" stroke="#F4A46C" stroke-width="0.6" stroke-linejoin="round"/>
<polygon points="511.39,212.18 514.39,209.18 517.39,212.18 514.39,215.18" fill="#fff" stroke="#F4A46C" stroke-width="0.6"/>
<polygon points="511.39,212.18 514.39,209.18 517.39,212.18" fill="#F4A46C" stroke="#F4A46C" stroke-width="0.6" stroke-linejoin="round"/>
<polygon points="512.08,213.85 515.08,210.85 518.08,213.85 515.08,216.85" fill="#fff" stroke="#F4A46C" stroke-width="0.6"/>
<polygon points="512.08,213.85 515.08,210.85 518.08,213.85" fill="#F4A46C" stroke="#F4A46C" stroke-width="0.6" stroke-linejoin="round"/>
<polygon points="512.78,213.81 515.78,210.81 518.78,213.81 515.78,216.81" fill="#fff" stroke="#F4A46C" stroke-width="0.6"/>
<polygon points="512.78,213.81 515.78,210.81 518.78,213.81" fill="#F4A46C" stroke="#F4A46C" stroke-width="0.6" stroke-linejoin="round"/>
<polygon points="513.47,214.7 516.47,211.7 519.47,214.7 516.47,217.7" fill="#fff" stroke="#F4A46C" stroke-width="0.6"/>
<polygon points="513.47,214.7 516.47,211.7 519.47,214.7" fill="#F4A46C" stroke="#F4A46C" stroke-width="0.6" stroke-linejoin="round"/>
<polygon points="514.16,216.68 517.16,213.68 520.16,216.68 517.16,219.68" fill="#fff" stroke="#F4A46C" stroke-width="0.6"/>
<polygon points="514.16,216.68 517.16,213.68 520.16,216.68" fill="#F4A46C" stroke="#F4A46C" stroke-width="0.6" stroke-linejoin="round"/>
<polygon points="514.86,217.41 517.86,214.41 520.86,217.41 517.86,220.41" fill="#fff" stroke="#F4A46C" stroke-width="0.6"/>
<polygon points="514.86,217.41 517.86,214.41 520.86,217.41" fill="#F4A46C" stroke="#F4A46C" stroke-width="0.6" stroke-linejoin="round"/>
<polygon points="515.55,218.09 518.55,215.09 521.55,218.09 518.55,221.09" fill="#fff" stroke="#F4A46C" stroke-width="0.6"/>
<polygon points="515.55,218.09 518.55,215.09 521.55,218.09" fill="#F4A46C" stroke="#F4A46C" stroke-width="0.6" stroke-linejoin="round"/>
<polygon points="516.24,219.33 519.24,216.33 522.24,219.33 519.24,222.33" fill="#fff" stroke="#F4A46C" stroke-width="0.6"/>
<polygon points="516.24,219.33 519.24,216.33 522.24,219.33" fill="#F4A46C" stroke="#F4A46C" stroke-width="0.6" stroke-linejoin="round"/>
<polygon points="516.94,219.09 519.94,216.09 522.94,219.09 519.94,222.09" fill="#fff" stroke="#F4A46C" stroke-width="0.6"/>
<polygon points="516.94,219.09 519.94,216.09 522.94,219.09" fill="#F4A46C" stroke="#F4A46C" stroke-width="0.6" stroke-linejoin="round"/>
<polygon points="517.63,220.9 520.63,217.9 523.63,220.9 520.63,223.9" fill="#fff" stroke="#F4A46C" stroke-width="0.6"/>
<polygon points="517.63,220.9 520.63,217.9 523.63,220.9" fill="#F4A46C" stroke="#F4A46C" stroke-width="0.6" stroke-linejoin="round"/>
<polygon points="518.32,222.53 521.32,219.53 524.32,222.53 521.32,225.53" fill="#fff" stroke="#F4A46C" stroke-width="0.6"/>
<polygon points="518.32,222.53 521.32,219.53 524.32,222.53" fill="#F4A46C" stroke="#F4A46C" stroke-width="0.6" stroke-linejoin="round"/>
<polygon points="519.01,223.34 522.01,220.34 525.01,223.34 522.01,226.34" fill="#fff" stroke="#F4A46C" stroke-width="0.6"/>
<polygon points="519.01,223.34 522.01,220.34 525.01,223.34" fill="#F4A46C" stroke="#F4A46C" stroke-width="0.6" stroke-linejoin="round"/>
<polygon points="519.71,223.82 522.71,220.82 525.71,223.82 522.71,226.82" fill="#fff" stroke="#F4A46C" stroke-width="0.6"/>
<polygon points="519.71,223.82 522.71,220.82 525.71,223.82" fill="#F4A46C" stroke="#F4A46C" stroke-width="0.6" stroke-linejoin="round"/>
<polygon points="520.4,223.44 523.4,220.44 526.4,223.44 523.4,226.44" fill="#fff" stroke="#F4A46C" stroke-width="0.6"/>
<polygon points="520.4,223.44 523.4,220.44 526.4,223.44" fill="#F4A46C" stroke="#F4A46C" stroke-width="0.6" stroke-linejoin="round"/>
<polygon points="521.09,225.63 524.09,222.63 527.09,225.63 524.09,228.63" fill="#fff" stroke="#F4A46C" stroke-width="0.6"/>
<polygon points="521.09,225.63 524.09,222.63 527.09,225.63" fill="#F4A46C" stroke="#F4A46C" stroke-width="0.6" stroke-linejoin="round"/>
<polygon points="521.79,226.34 524.79,223.34 527.79,226.34 524.79,229.34" fill="#fff" stroke="#F4A46C" stroke-width="0.6"/>
<polygon points="521.79,226.34 524.79,223.34 527.79,226.34" fill="#F4A46C" stroke="#F4A46C" stroke-width="0.6" stroke-linejoin="round"/>
<polygon points="522.48,227 525.48,224 528.48,227 525.48,230" fill="#fff" stroke="#F4A46C" stroke-width="0.6"/>
<polygon points="522.48,227 525.48,224 528.48,227" fill="#F4A46C" stroke="#F4A46C" stroke-width="0.6" stroke-linejoin="round"/>
<polygon points="523.17,228.17 526.17,225.17 529.17,228.17 526.17,231.17" fill="#fff" stroke="#F4A46C" stroke-width="0.6"/>
<polygon points="523.17,228.17 526.17,225.17 529.17,228.17" fill="#F4A46C" stroke="#F4A46C" stroke-width="0.6" stroke-linejoin="round"/>
<polygon points="523.87,227.81 526.87,224.81 529.87,227.81 526.87,230.81" fill="#fff" stroke="#F4A46C" stroke-width="0.6"/>
<polygon points="523.87,227.81 526.87,224.81 529.87,227.81" fill="#F4A46C" stroke="#F4A46C" stroke-width="0.6" stroke-linejoin="round"/>
<polygon points="524.56,230.06 527.56,227.06 530.56,230.06 527.56,233.06" fill="#fff" stroke="#F4A46C" stroke-width="0.6"/>
<polygon points="524.56,230.06 527.56,227.06 530.56,230.06" fill="#F4A46C" stroke="#F4A46C" stroke-width="0.6" stroke-linejoin="round"/>
<polygon points="525.25,230.08 528.25,227.08 531.25,230.08 528.25,233.08" fill="#fff" stroke="#F4A46C" stroke-width="0.6"/>
<polygon points="525.25,230.08 528.25,227.08 531.25,230.08" fill="#F4A46C" stroke="#F4A46C" stroke-width="0.6" stroke-linejoin="round"/>
<polygon points="525.95,231.1 528.95,228.1 531.95,231.1 528.95,234.1" fill="#fff" stroke="#F4A46C" stroke-width="0.6"/>
<polygon points="525.95,231.1 528.95,228.1 531.95,231.1" fill="#F4A46C" stroke="#F4A46C" stroke-width="0.6" stroke-linejoin="round"/>
<polygon points="526.64,231.55 529.64,228.55 532.64,231.55 529.64,234.55" fill="#fff" stroke="#F4A46C" stroke-width="0.6"/>
<polygon points="526.64,231.55 529.64,228.55 532.64,231.55" fill="#F4A46C" stroke="#F4A46C" stroke-width="0.6" stroke-linejoin="round"/>
<polygon points="527.33,233.22 530.33,230.22 533.33,233.22 530.33,236.22" fill="#fff" stroke="#F4A46C" stroke-width="0.6"/>
<polygon points="527.33,233.22 530.33,230.22 533.33,233.22" fill="#F4A46C" stroke="#F4A46C" stroke-width="0.6" stroke-linejoin="round"/>
<polygon points="528.03,232.35 531.03,229.35 534.03,232.35 531.03,235.35" fill="#fff" stroke="#F4A46C" stroke-width="0.6"/>
<polygon points="528.03,232.35 531.03,229.35 534.03,232.35" fill="#F4A46C" stroke="#F4A46C" stroke-width="0.6" stroke-linejoin="round"/>
<polygon points="528.72,234.06 531.72,231.06 534.72,234.06 531.72,237.06" fill="#fff" stroke="#F4A46C" stroke-width="0.6"/>
<polygon points="528.72,234.06 531.72,231.06 534.72,234.06" fill="#F4A46C" stroke="#F4A46C" stroke-width="0.6" stroke-linejoin="round"/>
<polygon points="529.41,234.68 532.41,231.68 535.41,234.68 532.41,237.68" fill="#fff" stroke="#F4A46C" stroke-width="0.6"/>
<polygon points="529.41,234.68 532.41,231.68 535.41,234.68" fill="#F4A46C" stroke="#F4A46C" stroke-width="0.6" stroke-linejoin="round"/>
<polygon points="530.11,235.82 533.11,232.82 536.11,235.82 533.11,238.82" fill="#fff" stroke="#F4A46C" stroke-width="0.6"/>
<polygon points="530.11,235.82 533.11,232.82 536.11,235.82" fill="#F4A46C" stroke="#F4A46C" stroke-width="0.6" stroke-linejoin="round"/>
<polygon points="530.8,236.31 533.8,233.31 536.8,236.31 533.8,239.31" fill="#fff" stroke="#F4A46C" stroke-width="0.6"/>
<polygon points="530.8,236.31 533.8,233.31 536.8,236.31" fill="#F4A46C" stroke="#F4A46C" stroke-width="0.6" stroke-linejoin="round"/>
<polygon points="531.49,236.23 534.49,233.23 537.49,236.23 534.49,239.23" fill="#fff" stroke="#F4A46C" stroke-width="0.6"/>
<polygon points="531.49,236.23 534.49,233.23 537.49,236.23" fill="#F4A46C" stroke="#F4A46C" stroke-width="0.6" stroke-linejoin="round"/>
<polygon points="532.18,236.61 535.18,233.61 538.18,236.61 535.18,239.61" fill="#fff" stroke="#F4A46C" stroke-width="0.6"/>
<polygon points="532.18,236.61 535.18,233.61 538.18,236.61" fill="#F4A46C" stroke="#F4A46C" stroke-width="0.6" stroke-linejoin="round"/>
<polygon points="532.88,237.34 535.88,234.34 538.88,237.34 535.88,240.34" fill="#fff" stroke="#F4A46C" stroke-width="0.6"/>
<polygon points="532.88,237.34 535.88,234.34 538.88,237.34" fill="#F4A46C" stroke="#F4A46C" stroke-width="0.6" stroke-linejoin="round"/>
<polygon points="533.57,237.7 536.57,234.7 539.57,237.7 536.57,240.7" fill="#fff" stroke="#F4A46C" stroke-width="0.6"/>
<polygon points="533.57,237.7 536.57,234.7 539.57,237.7" fill="#F4A46C" stroke="#F4A46C" stroke-width="0.6" stroke-linejoin="round"/>
<polygon points="534.26,238.57 537.26,235.57 540.26,238.57 537.26,241.57" fill="#fff" stroke="#F4A46C" stroke-width="0.6"/>
<polygon points="534.26,238.57 537.26,235.57 540.26,238.57" fill="#F4A46C" stroke="#F4A46C" stroke-width="0.6" stroke-linejoin="round"/>
<polygon points="534.96,239.55 537.96,236.55 540.96,239.55 537.96,242.55" fill="#fff" stroke="#F4A46C" stroke-width="0.6"/>
<polygon points="534.96,239.55 537.96,236.55 540.96,239.55" fill="#F4A46C" stroke="#F4A46C" stroke-width="0.6" stroke-linejoin="round"/>
<polygon points="535.65,239.62 538.65,236.62 541.65,239.62 538.65,242.62" fill="#fff" stroke="#F4A46C" stroke-width="0.6"/>
<polygon points="535.65,239.62 538.65,236.62 541.65,239.62" fill="#F4A46C" stroke="#F4A46C" stroke-width="0.6" stroke-linejoin="round"/>
<polygon points="536.34,240.26 539.34,237.26 542.34,240.26 539.34,243.26" fill="#fff" stroke="#F4A46C" stroke-width="0.6"/>
<polygon points="536.34,240.26 539.34,237.26 542.34,240.26" fill="#F4A46C" stroke="#F4A46C" stroke-width="0.6" stroke-linejoin="round"/>
<polygon points="537.04,241.14 540.04,238.14 543.04,241.14 540.04,244.14" fill="#fff" stroke="#F4A46C" stroke-width="0.6"/>
<polygon points="537.04,241.14 540.04,238.14 543.04,241.14" fill="#F4A46C" stroke="#F4A46C" stroke-width="0.6" stroke-linejoin="round"/>
<polygon points="537.73,241.21 540.73,238.21 543.73,241.21 540.73,244.21" fill="#fff" stroke="#F4A46C" stroke-width="0.6"/>
<polygon points="537.73,241.21 540.73,238.21 543.73,241.21" fill="#F4A46C" stroke="#F4A46C" stroke-width="0.6" stroke-linejoin="round"/>
<polygon points="538.42,241.42 541.42,238.42 544.42,241.42 541.42,244.42" fill="#fff" stroke="#F4A46C" stroke-width="0.6"/>
<polygon points="538.42,241.42 541.42,238.42 544.42,241.42" fill="#F4A46C" stroke="#F4A46C" stroke-width="0.6" stroke-linejoin="round"/>
<polygon points="539.12,242.49 542.12,239.49 545.12,242.49 542.12,245.49" fill="#fff" stroke="#F4A46C" stroke-width="0.6"/>
<polygon points="539.12,242.49 542.12,239.49 545.12,242.49" fill="#F4A46C" stroke="#F4A46C" stroke-width="0.6" stroke-linejoin="round"/>
<polygon points="539.81,243.32 542.81,240.32 545.81,243.32 542.81,246.32" fill="#fff" stroke="#F4A46C" stroke-width="0.6"/>
<polygon points="539.81,243.32 542.81,240.32 545.81,243.32" fill="#F4A46C" stroke="#F4A46C" stroke-width="0.6" stroke-linejoin="round"/>
<polygon points="540.5,243.24 543.5,240.24 546.5,243.24 543.5,246.24" fill="#fff" stroke="#F4A46C" stroke-width="0.6"/>
<polygon points="540.5,243.24 543.5,240.24 546.5,243.24" fill="#F4A46C" stroke="#F4A46C" stroke-width="0.6" stroke-linejoin="round"/>
<polygon points="541.2,243.02 544.2,240.02 547.2,243.02 544.2,246.02" fill="#fff" stroke="#F4A46C" stroke-width="0.6"/>
<polygon points="541.2,243.02 544.2,240.02 547.2,243.02" fill="#F4A46C" stroke="#F4A46C" stroke-width="0.6" stroke-linejoin="round"/>
<polygon points="541.89,244.56 544.89,241.56 547.89,244.56 544.89,247.56" fill="#fff" stroke="#F4A46C" stroke-width="0.6"/>
<polygon points="541.89,244.56 544.89,241.56 547.89,244.56" fill="#F4A46C" stroke="#F4A46C" stroke-width="0.6" stroke-linejoin="round"/>
<polygon points="542.58,244.91 545.58,241.91 548.58,244.91 545.58,247.91" fill="#fff" stroke="#F4A46C" stroke-width="0.6"/>
<polygon points="542.58,244.91 545.58,241.91 548.58,244.91" fill="#F4A46C" stroke="#F4A46C" stroke-width="0.6" stroke-linejoin="round"/>
<polygon points="543.27,245.34 546.27,242.34 549.27,245.34 546.27,248.34" fill="#fff" stroke="#F4A46C" stroke-width="0.6"/>
<polygon points="543.27,245.34 546.27,242.34 549.27,245.34" fill="#F4A46C" stroke="#F4A46C" stroke-width="0.6" stroke-linejoin="round"/>
<polygon points="543.97,245.03 546.97,242.03 549.97,245.03 546.97,248.03" fill="#fff" stroke="#F4A46C" stroke-width="0.6"/>
<polygon points="543.97,245.03 546.97,242.03 549.97,245.03" fill="#F4A46C" stroke="#F4A46C" stroke-width="0.6" stroke-linejoin="round"/>
<polygon points="544.66,247.07 547.66,244.07 550.66,247.07 547.66,250.07" fill="#fff" stroke="#F4A46C" stroke-width="0.6"/>
<polygon points="544.66,247.07 547.66,244.07 550.66,247.07" fill="#F4A46C" stroke="#F4A46C" stroke-width="0.6" stroke-linejoin="round"/>
<polygon points="545.35,246.31 548.35,243.31 551.35,246.31 548.35,249.31" fill="#fff" stroke="#F4A46C" stroke-width="0.6"/>
<polygon points="545.35,246.31 548.35,243.31 551.35,246.31" fill="#F4A46C" stroke="#F4A46C" stroke-width="0.6" stroke-linejoin="round"/>
<polygon points="546.05,246.27 549.05,243.27 552.05,246.27 549.05,249.27" fill="#fff" stroke="#F4A46C" stroke-width="0.6"/>
<polygon points="546.05,246.27 549.05,243.27 552.05,246.27" fill="#F4A46C" stroke="#F4A46C" stroke-width="0.6" stroke-linejoin="round"/>
<polygon points="546.74,247.73 549.74,244.73 552.74,247.73 549.74,250.73" fill="#fff" stroke="#F4A46C" stroke-width="0.6"/>
<polygon points="546.74,247.73 549.74,244.73 552.74,247.73" fill="#F4A46C" stroke="#F4A46C" stroke-width="0.6" stroke-linejoin="round"/>
<polygon points="547.43,246.89 550.43,243.89 553.43,246.89 550.43,249.89" fill="#fff" stroke="#F4A46C" stroke-width="0.6"/>
<polygon points="547.43,246.89 550.43,243.89 553.43,246.89" fill="#F4A46C" stroke="#F4A46C" stroke-width="0.6" stroke-linejoin="round"/>
<polygon points="548.13,247.79 551.13,244.79 554.13,247.79 551.13,250.79" fill="#fff" stroke="#F4A46C" stroke-width="0.6"/>
<polygon points="548.13,247.79 551.13,244.79 554.13,247.79" fill="#F4A46C" stroke="#F4A46C" stroke-width="0.6" stroke-linejoin="round"/>
<polygon points="548.82,248.76 551.82,245.76 554.82,248.76 551.82,251.76" fill="#fff" stroke="#F4A46C" stroke-width="0.6"/>
<polygon points="548.82,248.76 551.82,245.76 554.82,248.76" fill="#F4A46C" stroke="#F4A46C" stroke-width="0.6" stroke-linejoin="round"/>
<polygon points="549.51,248.74 552.51,245.74 555.51,248.74 552.51,251.74" fill="#fff" stroke="#F4A46C" stroke-width="0.6"/>
<polygon points="549.51,248.74 552.51,245.74 555.51,248.74" fill="#F4A46C" stroke="#F4A46C" stroke-width="0.6" stroke-linejoin="round"/>
<polygon points="550.21,250.06 553.21,247.06 556.21,250.06 553.21,253.06" fill="#fff" stroke="#F4A46C" stroke-width="0.6"/>
<polygon points="550.21,250.06 553.21,247.06 556.21,250.06" fill="#F4A46C" stroke="#F4A46C" stroke-width="0.6" stroke-linejoin="round"/>
<polygon points="550.9,249.93 553.9,246.93 556.9,249.93 553.9,252.93" fill="#fff" stroke="#F4A46C" stroke-width="0.6"/>
<polygon points="550.9,249.93 553.9,246.93 556.9,249.93" fill="#F4A46C" stroke="#F4A46C" stroke-width="0.6" stroke-linejoin="round"/>
<polygon points="551.59,249.03 554.59,246.03 557.59,249.03 554.59,252.03" fill="#fff" stroke="#F4A46C" stroke-width="0.6"/>
<polygon points="551.59,249.03 554.59,246.03 557.59,249.03" fill="#F4A46C" stroke="#F4A46C" stroke-width="0.6" stroke-linejoin="round"/>
<polygon points="552.29,250.85 555.29,247.85 558.29,250.85 555.29,253.85" fill="#fff" stroke="#F4A46C" stroke-width="0.6"/>
<polygon points="552.29,250.85 555.29,247.85 558.29,250.85" fill="#F4A46C" stroke="#F4A46C" stroke-width="0.6" stroke-linejoin="round"/>
<polygon points="552.98,249.76 555.98,246.76 558.98,249.76 555.98,252.76" fill="#fff" stroke="#F4A46C" stroke-width="0.6"/>
<polygon points="552.98,249.76 555.98,246.76 558.98,249.76" fill="#F4A46C" stroke="#F4A46C" stroke-width="0.6" stroke-linejoin="round"/>
<polygon points="553.67,251.15 556.67,248.15 559.67,251.15 556.67,254.15" fill="#fff" stroke="#F4A46C" stroke-width="0.6"/>
<polygon points="553.67,251.15 556.67,248.15 559.67,251.15" fill="#F4A46C" stroke="#F4A46C" stroke-width="0.6" stroke-linejoin="round"/>
<polygon points="554.36,250.95 557.36,247.95 560.36,250.95 557.36,253.95" fill="#fff" stroke="#F4A46C" stroke-width="0.6"/>
<polygon points="554.36,250.95 557.36,247.95 560.36,250.95" fill="#F4A46C" stroke="#F4A46C" stroke-width="0.6" stroke-linejoin="round"/>
<polygon points="555.06,251.82 558.06,248.82 561.06,251.82 558.06,254.82" fill="#fff" stroke="#F4A46C" stroke-width="0.6"/>
<polygon points="555.06,251.82 558.06,248.82 561.06,251.82" fill="#F4A46C" stroke="#F4A46C" stroke-width="0.6" stroke-linejoin="round"/>
<polygon points="555.75,253.41 558.75,250.41 561.75,253.41 558.75,256.41" fill="#fff" stroke="#F4A46C" stroke-width="0.6"/>
<polygon points="555.75,253.41 558.75,250.41 561.75,253.41" fill="#F4A46C" stroke="#F4A46C" stroke-width="0.6" stroke-linejoin="round"/>
<polygon points="556.44,252.89 559.44,249.89 562.44,252.89 559.44,255.89" fill="#fff" stroke="#F4A46C" stroke-width="0.6"/>
<polygon points="556.44,252.89 559.44,249.89 562.44,252.89" fill="#F4A46C" stroke="#F4A46C" stroke-width="0.6" stroke-linejoin="round"/>
<polygon points="557.14,252.85 560.14,249.85 563.14,252.85 560.14,255.85" fill="#fff" stroke="#F4A46C" stroke-width="0.6"/>
<polygon points="557.14,252.85 560.14,249.85 563.14,252.85" fill="#F4A46C" stroke="#F4A46C" stroke-width="0.6" stroke-linejoin="round"/>
<polygon points="557.83,253.93 560.83,250.93 563.83,253.93 560.83,256.93" fill="#fff" stroke="#F4A46C" stroke-width="0.6"/>
<polygon points="557.83,253.93 560.83,250.93 563.83,253.93" fill="#F4A46C" stroke="#F4A46C" stroke-width="0.6" stroke-linejoin="round"/>
<polygon points="558.52,254.41 561.52,251.41 564.52,254.41 561.52,257.41" fill="#fff" stroke="#F4A46C" stroke-width="0.6"/>
<polygon points="558.52,254.41 561.52,251.41 564.52,254.41" fill="#F4A46C" stroke="#F4A46C" stroke-width="0.6" stroke-linejoin="round"/>
<polygon points="559.22,253.86 562.22,250.86 565.22,253.86 562.22,256.86" fill="#fff" stroke="#F4A46C" stroke-width="0.6"/>
<polygon points="559.22,253.86 562.22,250.86 565.22,253.86" fill="#F4A46C" stroke="#F4A46C" stroke-width="0.6" stroke-linejoin="round"/>
<polygon points="559.91,254.77 562.91,251.77 565.91,254.77 562.91,257.77" fill="#fff" stroke="#F4A46C" stroke-width="0.6"/>
<polygon points="559.91,254.77 562.91,251.77 565.91,254.77" fill="#F4A46C" stroke="#F4A46C" stroke-width="0.6" stroke-linejoin="round"/>
<polygon points="560.6,255.7 563.6,252.7 566.6,255.7 563.6,258.7" fill="#fff" stroke="#F4A46C" stroke-width="0.6"/>
<polygon points="560.6,255.7 563.6,252.7 566.6,255.7" fill="#F4A46C" stroke="#F4A46C" stroke-width="0.6" stroke-linejoin="round"/>
<polygon points="561.3,255.53 564.3,252.53 567.3,255.53 564.3,258.53" fill="#fff" stroke="#F4A46C" stroke-width="0.6"/>
<polygon points="561.3,255.53 564.3,252.53 567.3,255.53" fill="#F4A46C" stroke="#F4A46C" stroke-width="0.6" stroke-linejoin="round"/>
<polygon points="561.99,255.04 564.99,252.04 567.99,255.04 564.99,258.04" fill="#fff" stroke="#F4A46C" stroke-width="0.6"/>
<polygon points="561.99,255.04 564.99,252.04 567.99,255.04" fill="#F4A46C" stroke="#F4A46C" stroke-width="0.6" stroke-linejoin="round"/>
<polygon points="562.68,256.04 565.68,253.04 568.68,256.04 565.68,259.04" fill="#fff" stroke="#F4A46C" stroke-width="0.6"/>
<polygon points="562.68,256.04 565.68,253.04 568.68,256.04" fill="#F4A46C" stroke="#F4A46C" stroke-width="0.6" stroke-linejoin="round"/>
<polygon points="563.38,255.58 566.38,252.58 569.38,255.58 566.38,258.58" fill="#fff" stroke="#F4A46C" stroke-width="0.6"/>
<polygon points="563.38,255.58 566.38,252.58 569.38,255.58" fill="#F4A46C" stroke="#F4A46C" stroke-width="0.6" stroke-linejoin="round"/>
<polygon points="564.07,255.56 567.07,252.56 570.07,255.56 567.07,258.56" fill="#fff" stroke="#F4A46C" stroke-width="0.6"/>
<polygon points="564.07,255.56 567.07,252.56 570.07,255.56" fill="#F4A46C" stroke="#F4A46C" stroke-width="0.6" stroke-linejoin="round"/>
<polygon points="564.76,256.64 567.76,253.64 570.76,256.64 567.76,259.64" fill="#fff" stroke="#F4A46C" stroke-width="0.6"/>
<polygon points="564.76,256.64 567.76,253.64 570.76,256.64" fill="#F4A46C" stroke="#F4A46C" stroke-width="0.6" stroke-linejoin="round"/>
<polygon points="565.46,257.55 568.46,254.55 571.46,257.55 568.46,260.55" fill="#fff" stroke="#F4A46C" stroke-width="0.6"/>
<polygon points="565.46,257.55 568.46,254.55 571.46,257.55" fill="#F4A46C" stroke="#F4A46C" stroke-width="0.6" stroke-linejoin="round"/>
<polygon points="566.15,257.94 569.15,254.94 572.15,257.94 569.15,260.94" fill="#fff" stroke="#F4A46C" stroke-width="0.6"/>
<polygon points="566.15,257.94 569.15,254.94 572.15,257.94" fill="#F4A46C" stroke="#F4A46C" stroke-width="0.6" stroke-linejoin="round"/>
<polygon points="566.84,257.55 569.84,254.55 572.84,257.55 569.84,260.55" fill="#fff" stroke="#F4A46C" stroke-width="0.6"/>
<polygon points="566.84,257.55 569.84,254.55 572.84,257.55" fill="#F4A46C" stroke="#F4A46C" stroke-width="0.6" stroke-linejoin="round"/>
<polygon points="567.53,257.35 570.53,254.35 573.53,257.35 570.53,260.35" fill="#fff" stroke="#F4A46C" stroke-width="0.6"/>
<polygon points="567.53,257.35 570.53,254.35 573.53,257.35" fill="#F4A46C" stroke="#F4A46C" stroke-width="0.6" stroke-linejoin="round"/>
<polygon points="568.23,257.97 571.23,254.97 574.23,257.97 571.23,260.97" fill="#fff" stroke="#F4A46C" stroke-width="0.6"/>
<polygon points="568.23,257.97 571.23,254.97 574.23,257.97" fill="#F4A46C" stroke="#F4A46C" stroke-width="0.6" stroke-linejoin="round"/>
<polygon points="568.92,258.11 571.92,255.11 574.92,258.11 571.92,261.11" fill="#fff" stroke="#F4A46C" stroke-width="0.6"/>
<polygon points="568.92,258.11 571.92,255.11 574.92,258.11" fill="#F4A46C" stroke="#F4A46C" stroke-width="0.6" stroke-linejoin="round"/>
<polygon points="569.61,258.93 572.61,255.93 575.61,258.93 572.61,261.93" fill="#fff" stroke="#F4A46C" stroke-width="0.6"/>
<polygon points="569.61,258.93 572.61,255.93 575.61,258.93" fill="#F4A46C" stroke="#F4A46C" stroke-width="0.6" stroke-linejoin="round"/>
<polygon points="570.31,258.83 573.31,255.83 576.31,258.83 573.31,261.83" fill="#fff" stroke="#F4A46C" stroke-width="0.6"/>
<polygon points="570.31,258.83 573.31,255.83 576.31,258.83" fill="#F4A46C" stroke="#F4A46C" stroke-width="0.6" stroke-linejoin="round"/>
<polygon points="571,259.53 574,256.53 577,259.53 574,262.53" fill="#fff" stroke="#F4A46C" stroke-width="0.6"/>
<polygon points="571,259.53 574,256.53 577,259.53" fill="#F4A46C" stroke="#F4A46C" stroke-width="0.6" stroke-linejoin="round"/>
<polygon points="571.69,259.74 574.69,256.74 577.69,259.74 574.69,262.74" fill="#fff" stroke="#F4A46C" stroke-width="0.6"/>
<polygon points="571.69,259.74 574.69,256.74 577.69,259.74" fill="#F4A46C" stroke="#F4A46C" stroke-width="0.6" stroke-linejoin="round"/>
<polygon points="572.39,260.55 575.39,257.55 578.39,260.55 575.39,263.55" fill="#fff" stroke="#F4A46C" stroke-width="0.6"/>
<polygon points="572.39,260.55 575.39,257.55 578.39,260.55" fill="#F4A46C" stroke="#F4A46C" stroke-width="0.6" stroke-linejoin="round"/>
<polygon points="573.08,260.98 576.08,257.98 579.08,260.98 576.08,263.98" fill="#fff" stroke="#F4A46C" stroke-width="0.6"/>
<polygon points="573.08,260.98 576.08,257.98 579.08,260.98" fill="#F4A46C" stroke="#F4A46C" stroke-width="0.6" stroke-linejoin="round"/>
<polygon points="573.77,260.68 576.77,257.68 579.77,260.68 576.77,263.68" fill="#fff" stroke="#F4A46C" stroke-width="0.6"/>
<polygon points="573.77,260.68 576.77,257.68 579.77,260.68" fill="#F4A46C" stroke="#F4A46C" stroke-width="0.6" stroke-linejoin="round"/>
<polygon points="574.47,261.29 577.47,258.29 580.47,261.29 577.47,264.29" fill="#fff" stroke="#F4A46C" stroke-width="0.6"/>
<polygon points="574.47,261.29 577.47,258.29 580.47,261.29" fill="#F4A46C" stroke="#F4A46C" stroke-width="0.6" stroke-linejoin="round"/>
<polygon points="575.16,261.49 578.16,258.49 581.16,261.49 578.16,264.49" fill="#fff" stroke="#F4A46C" stroke-width="0.6"/>
<polygon points="575.16,261.49 578.16,258.49 581.16,261.49" fill="#F4A46C" stroke="#F4A46C" stroke-width="0.6" stroke-linejoin="round"/>
<polygon points="575.85,260.9 578.85,257.9 581.85,260.9 578.85,263.9" fill="#fff" stroke="#F4A46C" stroke-width="0.6"/>
<polygon points="575.85,260.9 578.85,257.9 581.85,260.9" fill="#F4A46C" stroke="#F4A46C" stroke-width="0.6" stroke-linejoin="round"/>
<polygon points="576.55,261.59 579.55,258.59 582.55,261.59 579.55,264.59" fill="#fff" stroke="#F4A46C" stroke-width="0.6"/>
<polygon points="576.55,261.59 579.55,258.59 582.55,261.59" fill="#F4A46C" stroke="#F4A46C" stroke-width="0.6" stroke-linejoin="round"/>
<polygon points="577.24,260.26 580.24,257.26 583.24,260.26 580.24,263.26" fill="#fff" stroke="#F4A46C" stroke-width="0.6"/>
<polygon points="577.24,260.26 580.24,257.26 583.24,260.26" fill="#F4A46C" stroke="#F4A46C" stroke-width="0.6" stroke-linejoin="round"/>
<polygon points="577.93,261.6 580.93,258.6 583.93,261.6 580.93,264.6" fill="#fff" stroke="#F4A46C" stroke-width="0.6"/>
<polygon points="577.93,261.6 580.93,258.6 583.93,261.6" fill="#F4A46C" stroke="#F4A46C" stroke-width="0.6" stroke-linejoin="round"/>
<polygon points="578.62,262.71 581.62,259.71 584.62,262.71 581.62,265.71" fill="#fff" stroke="#F4A46C" stroke-width="0.6"/>
<polygon points="578.62,262.71 581.62,259.71 584.62,262.71" fill="#F4A46C" stroke="#F4A46C" stroke-width="0.6" stroke-linejoin="round"/>
<polygon points="579.32,262.24 582.32,259.24 585.32,262.24 582.32,265.24" fill="#fff" stroke="#F4A46C" stroke-width="0.6"/>
<polygon points="579.32,262.24 582.32,259.24 585.32,262.24" fill="#F4A46C" stroke="#F4A46C" stroke-width="0.6" stroke-linejoin="round"/>
<polygon points="580.01,262.74 583.01,259.74 586.01,262.74 583.01,265.74" fill="#fff" stroke="#F4A46C" stroke-width="0.6"/>
<polygon points="580.01,262.74 583.01,259.74 586.01,262.74" fill="#F4A46C" stroke="#F4A46C" stroke-width="0.6" stroke-linejoin="round"/>
<polygon points="580.7,263.58 583.7,260.58 586.7,263.58 583.7,266.58" fill="#fff" stroke="#F4A46C" stroke-width="0.6"/>
<polygon points="580.7,263.58 583.7,260.58 586.7,263.58" fill="#F4A46C" stroke="#F4A46C" stroke-width="0.6" stroke-linejoin="round"/>
<polygon points="581.4,262.9 584.4,259.9 587.4,262.9 584.4,265.9" fill="#fff" stroke="#F4A46C" stroke-width="0.6"/>
<polygon points="581.4,262.9 584.4,259.9 587.4,262.9" fill="#F4A46C" stroke="#F4A46C" stroke-width="0.6" stroke-linejoin="round"/>
<polygon points="582.09,264.18 585.09,261.18 588.09,264.18 585.09,267.18" fill="#fff" stroke="#F4A46C" stroke-width="0.6"/>
<polygon points="582.09,264.18 585.09,261.18 588.09,264.18" fill="#F4A46C" stroke="#F4A46C" stroke-width="0.6" stroke-linejoin="round"/>
<polygon points="582.78,265.68 585.78,262.68 588.78,265.68 585.78,268.68" fill="#fff" stroke="#F4A46C" stroke-width="0.6"/>
<polygon points="582.78,265.68 585.78,262.68 588.78,265.68" fill="#F4A46C" stroke="#F4A46C" stroke-width="0.6" stroke-linejoin="round"/>
<polygon points="583.48,263.9 586.48,260.9 589.48,263.9 586.48,266.9" fill="#fff" stroke="#F4A46C" stroke-width="0.6"/>
<polygon points="583.48,263.9 586.48,260.9 589.48,263.9" fill="#F4A46C" stroke="#F4A46C" stroke-width="0.6" stroke-linejoin="round"/>
<polygon points="584.17,264.95 587.17,261.95 590.17,264.95 587.17,267.95" fill="#fff" stroke="#F4A46C" stroke-width="0.6"/>
<polygon points="584.17,264.95 587.17,261.95 590.17,264.95" fill="#F4A46C" stroke="#F4A46C" stroke-width="0.6" stroke-linejoin="round"/>
<polygon points="584.86,264.13 587.86,261.13 590.86,264.13 587.86,267.13" fill="#fff" stroke="#F4A46C" stroke-width="0.6"/>
<polygon points="584.86,264.13 587.86,261.13 590.86,264.13" fill="#F4A46C" stroke="#F4A46C" stroke-width="0.6" stroke-linejoin="round"/>
<polygon points="585.56,265.56 588.56,262.56 591.56,265.56 588.56,268.56" fill="#fff" stroke="#F4A46C" stroke-width="0.6"/>
<polygon points="585.56,265.56 588.56,262.56 591.56,265.56" fill="#F4A46C" stroke="#F4A46C" stroke-width="0.6" stroke-linejoin="round"/>
<polygon points="586.25,266.14 589.25,263.14 592.25,266.14 589.25,269.14" fill="#fff" stroke="#F4A46C" stroke-width="0.6"/>
<polygon points="586.25,266.14 589.25,263.14 592.25,266.14" fill="#F4A46C" stroke="#F4A46C" stroke-width="0.6" stroke-linejoin="round"/>
<polygon points="586.94,264.98 589.94,261.98 592.94,264.98 589.94,267.98" fill="#fff" stroke="#F4A46C" stroke-width="0.6"/>
<polygon points="586.94,264.98 589.94,261.98 592.94,264.98" fill="#F4A46C" stroke="#F4A46C" stroke-width="0.6" stroke-linejoin="round"/>
<polygon points="587.64,266.68 590.64,263.68 593.64,266.68 590.64,269.68" fill="#fff" stroke="#F4A46C" stroke-width="0.6"/>
<polygon points="587.64,266.68 590.64,263.68 593.64,266.68" fill="#F4A46C" stroke="#F4A46C" stroke-width="0.6" stroke-linejoin="round"/>
<polygon points="588.33,266.29 591.33,263.29 594.33,266.29 591.33,269.29" fill="#fff" stroke="#F4A46C" stroke-width="0.6"/>
<polygon points="588.33,266.29 591.33,263.29 594.33,266.29" fill="#F4A46C" stroke="#F4A46C" stroke-width="0.6" stroke-linejoin="round"/>
<polygon points="589.02,265.92 592.02,262.92 595.02,265.92 592.02,268.92" fill="#fff" stroke="#F4A46C" stroke-width="0.6"/>
<polygon points="589.02,265.92 592.02,262.92 595.02,265.92" fill="#F4A46C" stroke="#F4A46C" stroke-width="0.6" stroke-linejoin="round"/>
<polygon points="589.72,266.93 592.72,263.93 595.72,266.93 592.72,269.93" fill="#fff" stroke="#F4A46C" stroke-width="0.6"/>
<polygon points="589.72,266.93 592.72,263.93 595.72,266.93" fill="#F4A46C" stroke="#F4A46C" stroke-width="0.6" stroke-linejoin="round"/>
<polygon points="590.41,267.33 593.41,264.33 596.41,267.33 593.41,270.33" fill="#fff" stroke="#F4A46C" stroke-width="0.6"/>
<polygon points="590.41,267.33 593.41,264.33 596.41,267.33" fill="#F4A46C" stroke="#F4A46C" stroke-width="0.6" stroke-linejoin="round"/>
<polygon points="591.1,267.53 594.1,264.53 597.1,267.53 594.1,270.53" fill="#fff" stroke="#F4A46C" stroke-width="0.6"/>
<polygon points="591.1,267.53 594.1,264.53 597.1,267.53" fill="#F4A46C" stroke="#F4A46C" stroke-width="0.6" stroke-linejoin="round"/>
<polygon points="591.79,267.43 594.79,264.43 597.79,267.43 594.79,270.43" fill="#fff" stroke="#F4A46C" stroke-width="0.6"/>
<polygon points="591.79,267.43 594.79,264.43 597.79,267.43" fill="#F4A46C" stroke="#F4A46C" stroke-width="0.6" stroke-linejoin="round"/>
<polygon points="592.49,268.61 595.49,265.61 598.49,268.61 595.49,271.61" fill="#fff" stroke="#F4A46C" stroke-width="0.6"/>
<polygon points="592.49,268.61 595.49,265.61 598.49,268.61" fill="#F4A46C" stroke="#F4A46C" stroke-width="0.6" stroke-linejoin="round"/>
<polygon points="593.18,268.16 596.18,265.16 599.18,268.16 596.18,271.16" fill="#fff" stroke="#F4A46C" stroke-width="0.6"/>
<polygon points="593.18,268.16 596.18,265.16 599.18,268.16" fill="#F4A46C" stroke="#F4A46C" stroke-width="0.6" stroke-linejoin="round"/>
<polygon points="593.87,268.49 596.87,265.49 599.87,268.49 596.87,271.49" fill="#fff" stroke="#F4A46C" stroke-width="0.6"/>
<polygon points="593.87,268.49 596.87,265.49 599.87,268.49" fill="#F4A46C" stroke="#F4A46C" stroke-width="0.6" stroke-linejoin="round"/>
<polygon points="594.57,267.87 597.57,264.87 600.57,267.87 597.57,270.87" fill="#fff" stroke="#F4A46C" stroke-width="0.6"/>
<polygon points="594.57,267.87 597.57,264.87 600.57,267.87" fill="#F4A46C" stroke="#F4A46C" stroke-width="0.6" stroke-linejoin="round"/>
<polygon points="595.26,269.6 598.26,266.6 601.26,269.6 598.26,272.6" fill="#fff" stroke="#F4A46C" stroke-width="0.6"/>
<polygon points="595.26,269.6 598.26,266.6 601.26,269.6" fill="#F4A46C" stroke="#F4A46C" stroke-width="0.6" stroke-linejoin="round"/>
<polygon points="595.95,270.22 598.95,267.22 601.95,270.22 598.95,273.22" fill="#fff" stroke="#F4A46C" stroke-width="0.6"/>
<polygon points="595.95,270.22 598.95,267.22 601.95,270.22" fill="#F4A46C" stroke="#F4A46C" stroke-width="0.6" stroke-linejoin="round"/>
<polygon points="596.65,269.65 599.65,266.65 602.65,269.65 599.65,272.65" fill="#fff" stroke="#F4A46C" stroke-width="0.6"/>
<polygon points="596.65,269.65 599.65,266.65 602.65,269.65" fill="#F4A46C" stroke="#F4A46C" stroke-width="0.6" stroke-linejoin="round"/>
<polygon points="597.34,270.56 600.34,267.56 603.34,270.56 600.34,273.56" fill="#fff" stroke="#F4A46C" stroke-width="0.6"/>
<polygon points="597.34,270.56 600.34,267.56 603.34,270.56" fill="#F4A46C" stroke="#F4A46C" stroke-width="0.6" stroke-linejoin="round"/>
<polygon points="598.03,270.5 601.03,267.5 604.03,270.5 601.03,273.5" fill="#fff" stroke="#F4A46C" stroke-width="0.6"/>
<polygon points="598.03,270.5 601.03,267.5 604.03,270.5" fill="#F4A46C" stroke="#F4A46C" stroke-width="0.6" stroke-linejoin="round"/>
<polygon points="598.73,270.9 601.73,267.9 604.73,270.9 601.73,273.9" fill="#fff" stroke="#F4A46C" stroke-width="0.6"/>
<polygon points="598.73,270.9 601.73,267.9 604.73,270.9" fill="#F4A46C" stroke="#F4A46C" stroke-width="0.6" stroke-linejoin="round"/>
<polygon points="599.42,270.65 602.42,267.65 605.42,270.65 602.42,273.65" fill="#fff" stroke="#F4A46C" stroke-width="0.6"/>
<polygon points="599.42,270.65 602.42,267.65 605.42,270.65" fill="#F4A46C" stroke="#F4A46C" stroke-width="0.6" stroke-linejoin="round"/>
<polygon points="600.11,271.94 603.11,268.94 606.11,271.94 603.11,274.94" fill="#fff" stroke="#F4A46C" stroke-width="0.6"/>
<polygon points="600.11,271.94 603.11,268.94 606.11,271.94" fill="#F4A46C" stroke="#F4A46C" stroke-width="0.6" stroke-linejoin="round"/>
<polygon points="600.81,271.95 603.81,268.95 606.81,271.95 603.81,274.95" fill="#fff" stroke="#F4A46C" stroke-width="0.6"/>
<polygon points="600.81,271.95 603.81,268.95 606.81,271.95" fill="#F4A46C" stroke="#F4A46C" stroke-width="0.6" stroke-linejoin="round"/>
<polygon points="601.5,273.57 604.5,270.57 607.5,273.57 604.5,276.57" fill="#fff" stroke="#F4A46C" stroke-width="0.6"/>
<polygon points="601.5,273.57 604.5,270.57 607.5,273.57" fill="#F4A46C" stroke="#F4A46C" stroke-width="0.6" stroke-linejoin="round"/>
<polygon points="602.19,272.99 605.19,269.99 608.19,272.99 605.19,275.99" fill="#fff" stroke="#F4A46C" stroke-width="0.6"/>
<polygon points="602.19,272.99 605.19,269.99 608.19,272.99" fill="#F4A46C" stroke="#F4A46C" stroke-width="0.6" stroke-linejoin="round"/>
<polygon points="602.88,272.01 605.88,269.01 608.88,272.01 605.88,275.01" fill="#fff" stroke="#F4A46C" stroke-width="0.6"/>
<polygon points="602.88,272.01 605.88,269.01 608.88,272.01" fill="#F4A46C" stroke="#F4A46C" stroke-width="0.6" stroke-linejoin="round"/>
<polygon points="603.58,273.5 606.58,270.5 609.58,273.5 606.58,276.5" fill="#fff" stroke="#F4A46C" stroke-width="0.6"/>
<polygon points="603.58,273.5 606.58,270.5 609.58,273.5" fill="#F4A46C" stroke="#F4A46C" stroke-width="0.6" stroke-linejoin="round"/>
<polygon points="604.27,273.82 607.27,270.82 610.27,273.82 607.27,276.82" fill="#fff" stroke="#F4A46C" stroke-width="0.6"/>
<polygon points="604.27,273.82 607.27,270.82 610.27,273.82" fill="#F4A46C" stroke="#F4A46C" stroke-width="0.6" stroke-linejoin="round"/>
<polygon points="604.96,274.4 607.96,271.4 610.96,274.4 607.96,277.4" fill="#fff" stroke="#F4A46C" stroke-width="0.6"/>
<polygon points="604.96,274.4 607.96,271.4 610.96,274.4" fill="#F4A46C" stroke="#F4A46C" stroke-width="0.6" stroke-linejoin="round"/>
<polygon points="605.66,273.76 608.66,270.76 611.66,273.76 608.66,276.76" fill="#fff" stroke="#F4A46C" stroke-width="0.6"/>
<polygon points="605.66,273.76 608.66,270.76 611.66,273.76" fill="#F4A46C" stroke="#F4A46C" stroke-width="0.6" stroke-linejoin="round"/>
<polygon points="606.35,274.28 609.35,271.28 612.35,274.28 609.35,277.28" fill="#fff" stroke="#F4A46C" stroke-width="0.6"/>
<polygon points="606.35,274.28 609.35,271.28 612.35,274.28" fill="#F4A46C" stroke="#F4A46C" stroke-width="0.6" stroke-linejoin="round"/>
<polygon points="607.04,275.32 610.04,272.32 613.04,275.32 610.04,278.32" fill="#fff" stroke="#F4A46C" stroke-width="0.6"/>
<polygon points="607.04,275.32 610.04,272.32 613.04,275.32" fill="#F4A46C" stroke="#F4A46C" stroke-width="0.6" stroke-linejoin="round"/>
<polygon points="607.74,274.64 610.74,271.64 613.74,274.64 610.74,277.64" fill="#fff" stroke="#F4A46C" stroke-width="0.6"/>
<polygon points="607.74,274.64 610.74,271.64 613.74,274.64" fill="#F4A46C" stroke="#F4A46C" stroke-width="0.6" stroke-linejoin="round"/>
<polygon points="608.43,275.1 611.43,272.1 614.43,275.1 611.43,278.1" fill="#fff" stroke="#F4A46C" stroke-width="0.6"/>
<polygon points="608.43,275.1 611.43,272.1 614.43,275.1" fill="#F4A46C" stroke="#F4A46C" stroke-width="0.6" stroke-linejoin="round"/>
<polygon points="609.12,275.07 612.12,272.07 615.12,275.07 612.12,278.07" fill="#fff" stroke="#F4A46C" stroke-width="0.6"/>
<polygon points="609.12,275.07 612.12,272.07 615.12,275.07" fill="#F4A46C" stroke="#F4A46C" stroke-width="0.6" stroke-linejoin="round"/>
<polygon points="609.82,276.06 612.82,273.06 615.82,276.06 612.82,279.06" fill="#fff" stroke="#F4A46C" stroke-width="0.6"/>
<polygon points="609.82,276.06 612.82,273.06 615.82,276.06" fill="#F4A46C" stroke="#F4A46C" stroke-width="0.6" stroke-linejoin="round"/>
<polygon points="610.51,275.03 613.51,272.03 616.51,275.03 613.51,278.03" fill="#fff" stroke="#F4A46C" stroke-width="0.6"/>
<polygon points="610.51,275.03 613.51,272.03 616.51,275.03" fill="#F4A46C" stroke="#F4A46C" stroke-width="0.6" stroke-linejoin="round"/>
<polygon points="611.2,275.98 614.2,272.98 617.2,275.98 614.2,278.98" fill="#fff" stroke="#F4A46C" stroke-width="0.6"/>
<polygon points="611.2,275.98 614.2,272.98 617.2,275.98" fill="#F4A46C" stroke="#F4A46C" stroke-width="0.6" stroke-linejoin="round"/>
<polygon points="611.9,276.5 614.9,273.5 617.9,276.5 614.9,279.5" fill="#fff" stroke="#F4A46C" stroke-width="0.6"/>
<polygon points="611.9,276.5 614.9,273.5 617.9,276.5" fill="#F4A46C" stroke="#F4A46C" stroke-width="0.6" stroke-linejoin="round"/>
<polygon points="612.59,276.96 615.59,273.96 618.59,276.96 615.59,279.96" fill="#fff" stroke="#F4A46C" stroke-width="0.6"/>
<polygon points="612.59,276.96 615.59,273.96 618.59,276.96" fill="#F4A46C" stroke="#F4A46C" stroke-width="0.6" stroke-linejoin="round"/>
<polygon points="613.28,277.05 616.28,274.05 619.28,277.05 616.28,280.05" fill="#fff" stroke="#F4A46C" stroke-width="0.6"/>
<polygon points="613.28,277.05 616.28,274.05 619.28,277.05" fill="#F4A46C" stroke="#F4A46C" stroke-width="0.6" stroke-linejoin="round"/>
<polygon points="613.97,276.7 616.97,273.7 619.97,276.7 616.97,279.7" fill="#fff" stroke="#F4A46C" stroke-width="0.6"/>
<polygon points="613.97,276.7 616.97,273.7 619.97,276.7" fill="#F4A46C" stroke="#F4A46C" stroke-width="0.6" stroke-linejoin="round"/>
<polygon points="614.67,277.55 617.67,274.55 620.67,277.55 617.67,280.55" fill="#fff" stroke="#F4A46C" stroke-width="0.6"/>
<polygon points="614.67,277.55 617.67,274.55 620.67,277.55" fill="#F4A46C" stroke="#F4A46C" stroke-width="0.6" stroke-linejoin="round"/>
<polygon points="615.36,277.07 618.36,274.07 621.36,277.07 618.36,280.07" fill="#fff" stroke="#F4A46C" stroke-width="0.6"/>
<polygon points="615.36,277.07 618.36,274.07 621.36,277.07" fill="#F4A46C" stroke="#F4A46C" stroke-width="0.6" stroke-linejoin="round"/>
<polygon points="616.05,277.57 619.05,274.57 622.05,277.57 619.05,280.57" fill="#fff" stroke="#F4A46C" stroke-width="0.6"/>
<polygon points="616.05,277.57 619.05,274.57 622.05,277.57" fill="#F4A46C" stroke="#F4A46C" stroke-width="0.6" stroke-linejoin="round"/>
<polygon points="616.75,277.41 619.75,274.41 622.75,277.41 619.75,280.41" fill="#fff" stroke="#F4A46C" stroke-width="0.6"/>
<polygon points="616.75,277.41 619.75,274.41 622.75,277.41" fill="#F4A46C" stroke="#F4A46C" stroke-width="0.6" stroke-linejoin="round"/>
<polygon points="617.44,277.93 620.44,274.93 623.44,277.93 620.44,280.93" fill="#fff" stroke="#F4A46C" stroke-width="0.6"/>
<polygon points="617.44,277.93 620.44,274.93 623.44,277.93" fill="#F4A46C" stroke="#F4A46C" stroke-width="0.6" stroke-linejoin="round"/>
<polygon points="618.13,278.64 621.13,275.64 624.13,278.64 621.13,281.64" fill="#fff" stroke="#F4A46C" stroke-width="0.6"/>
<polygon points="618.13,278.64 621.13,275.64 624.13,278.64" fill="#F4A46C" stroke="#F4A46C" stroke-width="0.6" stroke-linejoin="round"/>
<polygon points="618.83,279.87 621.83,276.87 624.83,279.87 621.83,282.87" fill="#fff" stroke="#F4A46C" stroke-width="0.6"/>
<polygon points="618.83,279.87 621.83,276.87 624.83,279.87" fill="#F4A46C" stroke="#F4A46C" stroke-width="0.6" stroke-linejoin="round"/>
<polygon points="619.52,278.93 622.52,275.93 625.52,278.93 622.52,281.93" fill="#fff" stroke="#F4A46C" stroke-width="0.6"/>
<polygon points="619.52,278.93 622.52,275.93 625.52,278.93" fill="#F4A46C" stroke="#F4A46C" stroke-width="0.6" stroke-linejoin="round"/>
<polygon points="620.21,278.91 623.21,275.91 626.21,278.91 623.21,281.91" fill="#fff" stroke="#F4A46C" stroke-width="0.6"/>
<polygon points="620.21,278.91 623.21,275.91 626.21,278.91" fill="#F4A46C" stroke="#F4A46C" stroke-width="0.6" stroke-linejoin="round"/>
<polygon points="620.91,279.48 623.91,276.48 626.91,279.48 623.91,282.48" fill="#fff" stroke="#F4A46C" stroke-width="0.6"/>
<polygon points="620.91,279.48 623.91,276.48 626.91,279.48" fill="#F4A46C" stroke="#F4A46C" stroke-width="0.6" stroke-linejoin="round"/>
<polygon points="621.6,279.52 624.6,276.52 627.6,279.52 624.6,282.52" fill="#fff" stroke="#F4A46C" stroke-width="0.6"/>
<polygon points="621.6,279.52 624.6,276.52 627.6,279.52" fill="#F4A46C" stroke="#F4A46C" stroke-width="0.6" stroke-linejoin="round"/>
<polygon points="622.29,280.3 625.29,277.3 628.29,280.3 625.29,283.3" fill="#fff" stroke="#F4A46C" stroke-width="0.6"/>
<polygon points="622.29,280.3 625.29,277.3 628.29,280.3" fill="#F4A46C" stroke="#F4A46C" stroke-width="0.6" stroke-linejoin="round"/>
<polygon points="622.99,280.5 625.99,277.5 628.99,280.5 625.99,283.5" fill="#fff" stroke="#F4A46C" stroke-width="0.6"/>
<polygon points="622.99,280.5 625.99,277.5 628.99,280.5" fill="#F4A46C" stroke="#F4A46C" stroke-width="0.6" stroke-linejoin="round"/>
<polygon points="623.68,280.94 626.68,277.94 629.68,280.94 626.68,283.94" fill="#fff" stroke="#F4A46C" stroke-width="0.6"/>
<polygon points="623.68,280.94 626.68,277.94 629.68,280.94" fill="#F4A46C" stroke="#F4A46C" stroke-width="0.6" stroke-linejoin="round"/>
<polygon points="624.37,279.84 627.37,276.84 630.37,279.84 627.37,282.84" fill="#fff" stroke="#F4A46C" stroke-width="0.6"/>
<polygon points="624.37,279.84 627.37,276.84 630.37,279.84" fill="#F4A46C" stroke="#F4A46C" stroke-width="0.6" stroke-linejoin="round"/>
<polygon points="625.07,280.61 628.07,277.61 631.07,280.61 628.07,283.61" fill="#fff" stroke="#F4A46C" stroke-width="0.6"/>
<polygon points="625.07,280.61 628.07,277.61 631.07,280.61" fill="#F4A46C" stroke="#F4A46C" stroke-width="0.6" stroke-linejoin="round"/>
<polygon points="625.76,281.09 628.76,278.09 631.76,281.09 628.76,284.09" fill="#fff" stroke="#F4A46C" stroke-width="0.6"/>
<polygon points="625.76,281.09 628.76,278.09 631.76,281.09" fill="#F4A46C" stroke="#F4A46C" stroke-width="0.6" stroke-linejoin="round"/>
<polygon points="626.45,281.67 629.45,278.67 632.45,281.67 629.45,284.67" fill="#fff" stroke="#F4A46C" stroke-width="0.6"/>
<polygon points="626.45,281.67 629.45,278.67 632.45,281.67" fill="#F4A46C" stroke="#F4A46C" stroke-width="0.6" stroke-linejoin="round"/>
<polygon points="627.14,281.17 630.14,278.17 633.14,281.17 630.14,284.17" fill="#fff" stroke="#F4A46C" stroke-width="0.6"/>
<polygon points="627.14,281.17 630.14,278.17 633.14,281.17" fill="#F4A46C" stroke="#F4A46C" stroke-width="0.6" stroke-linejoin="round"/>
<polygon points="627.84,280.44 630.84,277.44 633.84,280.44 630.84,283.44" fill="#fff" stroke="#F4A46C" stroke-width="0.6"/>
<polygon points="627.84,280.44 630.84,277.44 633.84,280.44" fill="#F4A46C" stroke="#F4A46C" stroke-width="0.6" stroke-linejoin="round"/>
<polygon points="628.53,281.1 631.53,278.1 634.53,281.1 631.53,284.1" fill="#fff" stroke="#F4A46C" stroke-width="0.6"/>
<polygon points="628.53,281.1 631.53,278.1 634.53,281.1" fill="#F4A46C" stroke="#F4A46C" stroke-width="0.6" stroke-linejoin="round"/>
<polygon points="629.22,281.86 632.22,278.86 635.22,281.86 632.22,284.86" fill="#fff" stroke="#F4A46C" stroke-width="0.6"/>
<polygon points="629.22,281.86 632.22,278.86 635.22,281.86" fill="#F4A46C" stroke="#F4A46C" stroke-width="0.6" stroke-linejoin="round"/>
<polygon points="629.92,280.84 632.92,277.84 635.92,280.84 632.92,283.84" fill="#fff" stroke="#F4A46C" stroke-width="0.6"/>
<polygon points="629.92,280.84 632.92,277.84 635.92,280.84" fill="#F4A46C" stroke="#F4A46C" stroke-width="0.6" stroke-linejoin="round"/>
<polygon points="630.61,280.97 633.61,277.97 636.61,280.97 633.61,283.97" fill="#fff" stroke="#F4A46C" stroke-width="0.6"/>
<polygon points="630.61,280.97 633.61,277.97 636.61,280.97" fill="#F4A46C" stroke="#F4A46C" stroke-width="0.6" stroke-linejoin="round"/>
<polygon points="631.3,281.33 634.3,278.33 637.3,281.33 634.3,284.33" fill="#fff" stroke="#F4A46C" stroke-width="0.6"/>
<polygon points="631.3,281.33 634.3,278.33 637.3,281.33" fill="#F4A46C" stroke="#F4A46C" stroke-width="0.6" stroke-linejoin="round"/>
<polygon points="632,281.57 635,278.57 638,281.57 635,284.57" fill="#fff" stroke="#F4A46C" stroke-width="0.6"/>
<polygon points="632,281.57 635,278.57 638,281.57" fill="#F4A46C" stroke="#F4A46C" stroke-width="0.6" stroke-linejoin="round"/>
<polygon points="632.69,281.5 635.69,278.5 638.69,281.5 635.69,284.5" fill="#fff" stroke="#F4A46C" stroke-width="0.6"/>
<polygon points="632.69,281.5 635.69,278.5 638.69,281.5" fill="#F4A46C" stroke="#F4A46C" stroke-width="0.6" stroke-linejoin="round"/>
<polygon points="633.38,281.96 636.38,278.96 639.38,281.96 636.38,284.96" fill="#fff" stroke="#F4A46C" stroke-width="0.6"/>
<polygon points="633.38,281.96 636.38,278.96 639.38,281.96" fill="#F4A46C" stroke="#F4A46C" stroke-width="0.6" stroke-linejoin="round"/>
<polygon points="634.08,281.96 637.08,278.96 640.08,281.96 637.08,284.96" fill="#fff" stroke="#F4A46C" stroke-width="0.6"/>
<polygon points="634.08,281.96 637.08,278.96 640.08,281.96" fill="#F4A46C" stroke="#F4A46C" stroke-width="0.6" stroke-linejoin="round"/>
<polygon points="634.77,282.92 637.77,279.92 640.77,282.92 637.77,285.92" fill="#fff" stroke="#F4A46C" stroke-width="0.6"/>
<polygon points="634.77,282.92 637.77,279.92 640.77,282.92" fill="#F4A46C" stroke="#F4A46C" stroke-width="0.6" stroke-linejoin="round"/>
<polygon points="635.46,281.83 638.46,278.83 641.46,281.83 638.46,284.83" fill="#fff" stroke="#F4A46C" stroke-width="0.6"/>
<polygon points="635.46,281.83 638.46,278.83 641.46,281.83" fill="#F4A46C" stroke="#F4A46C" stroke-width="0.6" stroke-linejoin="round"/>
<polygon points="636.16,282.64 639.16,279.64 642.16,282.64 639.16,285.64" fill="#fff" stroke="#F4A46C" stroke-width="0.6"/>
<polygon points="636.16,282.64 639.16,279.64 642.16,282.64" fill="#F4A46C" stroke="#F4A46C" stroke-width="0.6" stroke-linejoin="round"/>
<polygon points="636.85,281.81 639.85,278.81 642.85,281.81 639.85,284.81" fill="#fff" stroke="#F4A46C" stroke-width="0.6"/>
<polygon points="636.85,281.81 639.85,278.81 642.85,281.81" fill="#F4A46C" stroke="#F4A46C" stroke-width="0.6" stroke-linejoin="round"/>
<polygon points="637.54,284.11 640.54,281.11 643.54,284.11 640.54,287.11" fill="#fff" stroke="#F4A46C" stroke-width="0.6"/>
<polygon points="637.54,284.11 640.54,281.11 643.54,284.11" fill="#F4A46C" stroke="#F4A46C" stroke-width="0.6" stroke-linejoin="round"/>
<polygon points="638.23,282.77 641.23,279.77 644.23,282.77 641.23,285.77" fill="#fff" stroke="#F4A46C" stroke-width="0.6"/>
<polygon points="638.23,282.77 641.23,279.77 644.23,282.77" fill="#F4A46C" stroke="#F4A46C" stroke-width="0.6" stroke-linejoin="round"/>
<polygon points="638.93,282.72 641.93,279.72 644.93,282.72 641.93,285.72" fill="#fff" stroke="#F4A46C" stroke-width="0.6"/>
<polygon points="638.93,282.72 641.93,279.72 644.93,282.72" fill="#F4A46C" stroke="#F4A46C" stroke-width="0.6" stroke-linejoin="round"/>
<polygon points="639.62,283.52 642.62,280.52 645.62,283.52 642.62,286.52" fill="#fff" stroke="#F4A46C" stroke-width="0.6"/>
<polygon points="639.62,283.52 642.62,280.52 645.62,283.52" fill="#F4A46C" stroke="#F4A46C" stroke-width="0.6" stroke-linejoin="round"/>
<polygon points="640.31,283.18 643.31,280.18 646.31,283.18 643.31,286.18" fill="#fff" stroke="#F4A46C" stroke-width="0.6"/>
<polygon points="640.31,283.18 643.31,280.18 646.31,283.18" fill="#F4A46C" stroke="#F4A46C" stroke-width="0.6" stroke-linejoin="round"/>
<polygon points="641.01,283.11 644.01,280.11 647.01,283.11 644.01,286.11" fill="#fff" stroke="#F4A46C" stroke-width="0.6"/>
<polygon points="641.01,283.11 644.01,280.11 647.01,283.11" fill="#F4A46C" stroke="#F4A46C" stroke-width="0.6" stroke-linejoin="round"/>
<polygon points="641.7,283.28 644.7,280.28 647.7,283.28 644.7,286.28" fill="#fff" stroke="#F4A46C" stroke-width="0.6"/>
<polygon points="641.7,283.28 644.7,280.28 647.7,283.28" fill="#F4A46C" stroke="#F4A46C" stroke-width="0.6" stroke-linejoin="round"/>
<polygon points="642.39,283.96 645.39,280.96 648.39,283.96 645.39,286.96" fill="#fff" stroke="#F4A46C" stroke-width="0.6"/>
<polygon points="642.39,283.96 645.39,280.96 648.39,283.96" fill="#F4A46C" stroke="#F4A46C" stroke-width="0.6" stroke-linejoin="round"/>
<polygon points="643.09,283.84 646.09,280.84 649.09,283.84 646.09,286.84" fill="#fff" stroke="#F4A46C" stroke-width="0.6"/>
<polygon points="643.09,283.84 646.09,280.84 649.09,283.84" fill="#F4A46C" stroke="#F4A46C" stroke-width="0.6" stroke-linejoin="round"/>
<polygon points="643.78,283.31 646.78,280.31 649.78,283.31 646.78,286.31" fill="#fff" stroke="#F4A46C" stroke-width="0.6"/>
<polygon points="643.78,283.31 646.78,280.31 649.78,283.31" fill="#F4A46C" stroke="#F4A46C" stroke-width="0.6" stroke-linejoin="round"/>
<polygon points="644.47,283.25 647.47,280.25 650.47,283.25 647.47,286.25" fill="#fff" stroke="#F4A46C" stroke-width="0.6"/>
<polygon points="644.47,283.25 647.47,280.25 650.47,283.25" fill="#F4A46C" stroke="#F4A46C" stroke-width="0.6" stroke-linejoin="round"/>
<polygon points="645.17,283.97 648.17,280.97 651.17,283.97 648.17,286.97" fill="#fff" stroke="#F4A46C" stroke-width="0.6"/>
<polygon points="645.17,283.97 648.17,280.97 651.17,283.97" fill="#F4A46C" stroke="#F4A46C" stroke-width="0.6" stroke-linejoin="round"/>
<polygon points="645.86,284.07 648.86,281.07 651.86,284.07 648.86,287.07" fill="#fff" stroke="#F4A46C" stroke-width="0.6"/>
<polygon points="645.86,284.07 648.86,281.07 651.86,284.07" fill="#F4A46C" stroke="#F4A46C" stroke-width="0.6" stroke-linejoin="round"/>
<polygon points="646.55,284.09 649.55,281.09 652.55,284.09 649.55,287.09" fill="#fff" stroke="#F4A46C" stroke-width="0.6"/>
<polygon points="646.55,284.09 649.55,281.09 652.55,284.09" fill="#F4A46C" stroke="#F4A46C" stroke-width="0.6" stroke-linejoin="round"/>
<polygon points="647.25,283.73 650.25,280.73 653.25,283.73 650.25,286.73" fill="#fff" stroke="#F4A46C" stroke-width="0.6"/>
<polygon points="647.25,283.73 650.25,280.73 653.25,283.73" fill="#F4A46C" stroke="#F4A46C" stroke-width="0.6" stroke-linejoin="round"/>
<polygon points="647.94,284.93 650.94,281.93 653.94,284.93 650.94,287.93" fill="#fff" stroke="#F4A46C" stroke-width="0.6"/>
<polygon points="647.94,284.93 650.94,281.93 653.94,284.93" fill="#F4A46C" stroke="#F4A46C" stroke-width="0.6" stroke-linejoin="round"/>
<polygon points="648.63,285.16 651.63,282.16 654.63,285.16 651.63,288.16" fill="#fff" stroke="#F4A46C" stroke-width="0.6"/>
<polygon points="648.63,285.16 651.63,282.16 654.63,285.16" fill="#F4A46C" stroke="#F4A46C" stroke-width="0.6" stroke-linejoin="round"/>
<polygon points="649.33,284.47 652.33,281.47 655.33,284.47 652.33,287.47" fill="#fff" stroke="#F4A46C" stroke-width="0.6"/>
<polygon points="649.33,284.47 652.33,281.47 655.33,284.47" fill="#F4A46C" stroke="#F4A46C" stroke-width="0.6" stroke-linejoin="round"/>
<polygon points="650.02,285.21 653.02,282.21 656.02,285.21 653.02,288.21" fill="#fff" stroke="#F4A46C" stroke-width="0.6"/>
<polygon points="650.02,285.21 653.02,282.21 656.02,285.21" fill="#F4A46C" stroke="#F4A46C" stroke-width="0.6" stroke-linejoin="round"/>
<polygon points="650.71,285.02 653.71,282.02 656.71,285.02 653.71,288.02" fill="#fff" stroke="#F4A46C" stroke-width="0.6"/>
<polygon points="650.71,285.02 653.71,282.02 656.71,285.02" fill="#F4A46C" stroke="#F4A46C" stroke-width="0.6" stroke-linejoin="round"/>
<polygon points="651.4,284.75 654.4,281.75 657.4,284.75 654.4,287.75" fill="#fff" stroke="#F4A46C" stroke-width="0.6"/>
<polygon points="651.4,284.75 654.4,281.75 657.4,284.75" fill="#F4A46C" stroke="#F4A46C" stroke-width="0.6" stroke-linejoin="round"/>
<polygon points="652.1,284.62 655.1,281.62 658.1,284.62 655.1,287.62" fill="#fff" stroke="#F4A46C" stroke-width="0.6"/>
<polygon points="652.1,284.62 655.1,281.62 658.1,284.62" fill="#F4A46C" stroke="#F4A46C" stroke-width="0.6" stroke-linejoin="round"/>
<polygon points="652.79,285.54 655.79,282.54 658.79,285.54 655.79,288.54" fill="#fff" stroke="#F4A46C" stroke-width="0.6"/>
<polygon points="652.79,285.54 655.79,282.54 658.79,285.54" fill="#F4A46C" stroke="#F4A46C" stroke-width="0.6" stroke-linejoin="round"/>
<polygon points="653.48,284.63 656.48,281.63 659.48,284.63 656.48,287.63" fill="#fff" stroke="#F4A46C" stroke-width="0.6"/>
<polygon points="653.48,284.63 656.48,281.63 659.48,284.63" fill="#F4A46C" stroke="#F4A46C" stroke-width="0.6" stroke-linejoin="round"/>
<polygon points="654.18,286.06 657.18,283.06 660.18,286.06 657.18,289.06" fill="#fff" stroke="#F4A46C" stroke-width="0.6"/>
<polygon points="654.18,286.06 657.18,283.06 660.18,286.06" fill="#F4A46C" stroke="#F4A46C" stroke-width="0.6" stroke-linejoin="round"/>
<polygon points="654.87,284.87 657.87,281.87 660.87,284.87 657.87,287.87" fill="#fff" stroke="#F4A46C" stroke-width="0.6"/>
<polygon points="654.87,284.87 657.87,281.87 660.87,284.87" fill="#F4A46C" stroke="#F4A46C" stroke-width="0.6" stroke-linejoin="round"/>
<polygon points="655.56,286.05 658.56,283.05 661.56,286.05 658.56,289.05" fill="#fff" stroke="#F4A46C" stroke-width="0.6"/>
<polygon points="655.56,286.05 658.56,283.05 661.56,286.05" fill="#F4A46C" stroke="#F4A46C" stroke-width="0.6" stroke-linejoin="round"/>
<polygon points="656.26,285.93 659.26,282.93 662.26,285.93 659.26,288.93" fill="#fff" stroke="#F4A46C" stroke-width="0.6"/>
<polygon points="656.26,285.93 659.26,282.93 662.26,285.93" fill="#F4A46C" stroke="#F4A46C" stroke-width="0.6" stroke-linejoin="round"/>
<polygon points="656.95,284.96 659.95,281.96 662.95,284.96 659.95,287.96" fill="#fff" stroke="#F4A46C" stroke-width="0.6"/>
<polygon points="656.95,284.96 659.95,281.96 662.95,284.96" fill="#F4A46C" stroke="#F4A46C" stroke-width="0.6" stroke-linejoin="round"/>
<polygon points="657.64,285.56 660.64,282.56 663.64,285.56 660.64,288.56" fill="#fff" stroke="#F4A46C" stroke-width="0.6"/>
<polygon points="657.64,285.56 660.64,282.56 663.64,285.56" fill="#F4A46C" stroke="#F4A46C" stroke-width="0.6" stroke-linejoin="round"/>
<polygon points="658.34,285.82 661.34,282.82 664.34,285.82 661.34,288.82" fill="#fff" stroke="#F4A46C" stroke-width="0.6"/>
<polygon points="658.34,285.82 661.34,282.82 664.34,285.82" fill="#F4A46C" stroke="#F4A46C" stroke-width="0.6" stroke-linejoin="round"/>
<polygon points="659.03,285.67 662.03,282.67 665.03,285.67 662.03,288.67" fill="#fff" stroke="#F4A46C" stroke-width="0.6"/>
<polygon points="659.03,285.67 662.03,282.67 665.03,285.67" fill="#F4A46C" stroke="#F4A46C" stroke-width="0.6" stroke-linejoin="round"/>
<polygon points="659.72,285.23 662.72,282.23 665.72,285.23 662.72,288.23" fill="#fff" stroke="#F4A46C" stroke-width="0.6"/>
<polygon points="659.72,285.23 662.72,282.23 665.72,285.23" fill="#F4A46C" stroke="#F4A46C" stroke-width="0.6" stroke-linejoin="round"/>
<polygon points="660.42,285.56 663.42,282.56 666.42,285.56 663.42,288.56" fill="#fff" stroke="#F4A46C" stroke-width="0.6"/>
<polygon points="660.42,285.56 663.42,282.56 666.42,285.56" fill="#F4A46C" stroke="#F4A46C" stroke-width="0.6" stroke-linejoin="round"/>
<polygon points="661.11,285.59 664.11,282.59 667.11,285.59 664.11,288.59" fill="#fff" stroke="#F4A46C" stroke-width="0.6"/>
<polygon points="661.11,285.59 664.11,282.59 667.11,285.59" fill="#F4A46C" stroke="#F4A46C" stroke-width="0.6" stroke-linejoin="round"/>
<polygon points="661.8,285.06 664.8,282.06 667.8,285.06 664.8,288.06" fill="#fff" stroke="#F4A46C" stroke-width="0.6"/>
<polygon points="661.8,285.06 664.8,282.06 667.8,285.06" fill="#F4A46C" stroke="#F4A46C" stroke-width="0.6" stroke-linejoin="round"/>
<polygon points="662.49,286.05 665.49,283.05 668.49,286.05 665.49,289.05" fill="#fff" stroke="#F4A46C" stroke-width="0.6"/>
<polygon points="662.49,286.05 665.49,283.05 668.49,286.05" fill="#F4A46C" stroke="#F4A46C" stroke-width="0.6" stroke-linejoin="round"/>
<polygon points="663.19,285.96 666.19,282.96 669.19,285.96 666.19,288.96" fill="#fff" stroke="#F4A46C" stroke-width="0.6"/>
<polygon points="663.19,285.96 666.19,282.96 669.19,285.96" fill="#F4A46C" stroke="#F4A46C" stroke-width="0.6" stroke-linejoin="round"/>
<polygon points="663.88,286.04 666.88,283.04 669.88,286.04 666.88,289.04" fill="#fff" stroke="#F4A46C" stroke-width="0.6"/>
<polygon points="663.88,286.04 666.88,283.04 669.88,286.04" fill="#F4A46C" stroke="#F4A46C" stroke-width="0.6" stroke-linejoin="round"/>
<polygon points="664.57,285.18 667.57,282.18 670.57,285.18 667.57,288.18" fill="#fff" stroke="#F4A46C" stroke-width="0.6"/>
<polygon points="664.57,285.18 667.57,282.18 670.57,285.18" fill="#F4A46C" stroke="#F4A46C" stroke-width="0.6" stroke-linejoin="round"/>
<polygon points="665.27,285.32 668.27,282.32 671.27,285.32 668.27,288.32" fill="#fff" stroke="#F4A46C" stroke-width="0.6"/>
<polygon points="665.27,285.32 668.27,282.32 671.27,285.32" fill="#F4A46C" stroke="#F4A46C" stroke-width="0.6" stroke-linejoin="round"/>
<polygon points="665.96,285.21 668.96,282.21 671.96,285.21 668.96,288.21" fill="#fff" stroke="#F4A46C" stroke-width="0.6"/>
<polygon points="665.96,285.21 668.96,282.21 671.96,285.21" fill="#F4A46C" stroke="#F4A46C" stroke-width="0.6" stroke-linejoin="round"/>
<polygon points="666.65,285.96 669.65,282.96 672.65,285.96 669.65,288.96" fill="#fff" stroke="#F4A46C" stroke-width="0.6"/>
<polygon points="666.65,285.96 669.65,282.96 672.65,285.96" fill="#F4A46C" stroke="#F4A46C" stroke-width="0.6" stroke-linejoin="round"/>
<polygon points="667.35,286.07 670.35,283.07 673.35,286.07 670.35,289.07" fill="#fff" stroke="#F4A46C" stroke-width="0.6"/>
<polygon points="667.35,286.07 670.35,283.07 673.35,286.07" fill="#F4A46C" stroke="#F4A46C" stroke-width="0.6" stroke-linejoin="round"/>
<polygon points="668.04,285.58 671.04,282.58 674.04,285.58 671.04,288.58" fill="#fff" stroke="#F4A46C" stroke-width="0.6"/>
<polygon points="668.04,285.58 671.04,282.58 674.04,285.58" fill="#F4A46C" stroke="#F4A46C" stroke-width="0.6" stroke-linejoin="round"/>
<polygon points="668.73,286.29 671.73,283.29 674.73,286.29 671.73,289.29" fill="#fff" stroke="#F4A46C" stroke-width="0.6"/>
<polygon points="668.73,286.29 671.73,283.29 674.73,286.29" fill="#F4A46C" stroke="#F4A46C" stroke-width="0.6" stroke-linejoin="round"/>
<polygon points="669.43,285.68 672.43,282.68 675.43,285.68 672.43,288.68" fill="#fff" stroke="#F4A46C" stroke-width="0.6"/>
<polygon points="669.43,285.68 672.43,282.68 675.43,285.68" fill="#F4A46C" stroke="#F4A46C" stroke-width="0.6" stroke-linejoin="round"/>
<polygon points="670.12,285.78 673.12,282.78 676.12,285.78 673.12,288.78" fill="#fff" stroke="#F4A46C" stroke-width="0.6"/>
<polygon points="670.12,285.78 673.12,282.78 676.12,285.78" fill="#F4A46C" stroke="#F4A46C" stroke-width="0.6" stroke-linejoin="round"/>
<polygon points="670.81,286.59 673.81,283.59 676.81,286.59 673.81,289.59" fill="#fff" stroke="#F4A46C" stroke-width="0.6"/>
<polygon points="670.81,286.59 673.81,283.59 676.81,286.59" fill="#F4A46C" stroke="#F4A46C" stroke-width="0.6" stroke-linejoin="round"/>
<polygon points="671.51,286.28 674.51,283.28 677.51,286.28 674.51,289.28" fill="#fff" stroke="#F4A46C" stroke-width="0.6"/>
<polygon points="671.51,286.28 674.51,283.28 677.51,286.28" fill="#F4A46C" stroke="#F4A46C" stroke-width="0.6" stroke-linejoin="round"/>
<circle cx="503.3" cy="213.67" r="2.6" fill="url(#gpk)" stroke="#E0679E" stroke-width="0.6"/>
<circle cx="504.29" cy="212.4" r="2.6" fill="url(#gpk)" stroke="#E0679E" stroke-width="0.6"/>
<circle cx="505.28" cy="212.36" r="2.6" fill="url(#gpk)" stroke="#E0679E" stroke-width="0.6"/>
<circle cx="506.27" cy="217.92" r="2.6" fill="url(#gpk)" stroke="#E0679E" stroke-width="0.6"/>
<circle cx="507.26" cy="218.34" r="2.6" fill="url(#gpk)" stroke="#E0679E" stroke-width="0.6"/>
<circle cx="508.25" cy="222.54" r="2.6" fill="url(#gpk)" stroke="#E0679E" stroke-width="0.6"/>
<circle cx="509.24" cy="218.54" r="2.6" fill="url(#gpk)" stroke="#E0679E" stroke-width="0.6"/>
<circle cx="510.23" cy="219.19" r="2.6" fill="url(#gpk)" stroke="#E0679E" stroke-width="0.6"/>
<circle cx="511.22" cy="220.83" r="2.6" fill="url(#gpk)" stroke="#E0679E" stroke-width="0.6"/>
<circle cx="512.21" cy="217.45" r="2.6" fill="url(#gpk)" stroke="#E0679E" stroke-width="0.6"/>
<circle cx="513.2" cy="221.29" r="2.6" fill="url(#gpk)" stroke="#E0679E" stroke-width="0.6"/>
<circle cx="514.19" cy="218.53" r="2.6" fill="url(#gpk)" stroke="#E0679E" stroke-width="0.6"/>
<circle cx="515.18" cy="217.48" r="2.6" fill="url(#gpk)" stroke="#E0679E" stroke-width="0.6"/>
<circle cx="516.17" cy="219.41" r="2.6" fill="url(#gpk)" stroke="#E0679E" stroke-width="0.6"/>
<circle cx="517.16" cy="215.75" r="2.6" fill="url(#gpk)" stroke="#E0679E" stroke-width="0.6"/>
<circle cx="518.15" cy="215.35" r="2.6" fill="url(#gpk)" stroke="#E0679E" stroke-width="0.6"/>
<circle cx="519.14" cy="219.49" r="2.6" fill="url(#gpk)" stroke="#E0679E" stroke-width="0.6"/>
<circle cx="520.13" cy="219.47" r="2.6" fill="url(#gpk)" stroke="#E0679E" stroke-width="0.6"/>
<circle cx="521.12" cy="215.97" r="2.6" fill="url(#gpk)" stroke="#E0679E" stroke-width="0.6"/>
<circle cx="522.11" cy="217" r="2.6" fill="url(#gpk)" stroke="#E0679E" stroke-width="0.6"/>
<circle cx="523.1" cy="218.97" r="2.6" fill="url(#gpk)" stroke="#E0679E" stroke-width="0.6"/>
<circle cx="524.09" cy="217.44" r="2.6" fill="url(#gpk)" stroke="#E0679E" stroke-width="0.6"/>
<circle cx="525.08" cy="217.15" r="2.6" fill="url(#gpk)" stroke="#E0679E" stroke-width="0.6"/>
<circle cx="526.07" cy="217.25" r="2.6" fill="url(#gpk)" stroke="#E0679E" stroke-width="0.6"/>
<circle cx="527.06" cy="215.63" r="2.6" fill="url(#gpk)" stroke="#E0679E" stroke-width="0.6"/>
<circle cx="528.06" cy="216.42" r="2.6" fill="url(#gpk)" stroke="#E0679E" stroke-width="0.6"/>
<circle cx="529.05" cy="214.09" r="2.6" fill="url(#gpk)" stroke="#E0679E" stroke-width="0.6"/>
<circle cx="530.04" cy="214.8" r="2.6" fill="url(#gpk)" stroke="#E0679E" stroke-width="0.6"/>
<circle cx="531.03" cy="216.03" r="2.6" fill="url(#gpk)" stroke="#E0679E" stroke-width="0.6"/>
<circle cx="532.02" cy="215.39" r="2.6" fill="url(#gpk)" stroke="#E0679E" stroke-width="0.6"/>
<circle cx="533.01" cy="215" r="2.6" fill="url(#gpk)" stroke="#E0679E" stroke-width="0.6"/>
<circle cx="534" cy="216.1" r="2.6" fill="url(#gpk)" stroke="#E0679E" stroke-width="0.6"/>
<circle cx="534.99" cy="219.45" r="2.6" fill="url(#gpk)" stroke="#E0679E" stroke-width="0.6"/>
<circle cx="535.98" cy="215.91" r="2.6" fill="url(#gpk)" stroke="#E0679E" stroke-width="0.6"/>
<circle cx="536.97" cy="217.3" r="2.6" fill="url(#gpk)" stroke="#E0679E" stroke-width="0.6"/>
<circle cx="537.96" cy="214.69" r="2.6" fill="url(#gpk)" stroke="#E0679E" stroke-width="0.6"/>
<circle cx="538.95" cy="217.34" r="2.6" fill="url(#gpk)" stroke="#E0679E" stroke-width="0.6"/>
<circle cx="539.94" cy="216.64" r="2.6" fill="url(#gpk)" stroke="#E0679E" stroke-width="0.6"/>
<circle cx="540.93" cy="217.01" r="2.6" fill="url(#gpk)" stroke="#E0679E" stroke-width="0.6"/>
<circle cx="541.92" cy="214.73" r="2.6" fill="url(#gpk)" stroke="#E0679E" stroke-width="0.6"/>
<circle cx="542.91" cy="217.35" r="2.6" fill="url(#gpk)" stroke="#E0679E" stroke-width="0.6"/>
<circle cx="543.9" cy="218.27" r="2.6" fill="url(#gpk)" stroke="#E0679E" stroke-width="0.6"/>
<circle cx="544.89" cy="217.43" r="2.6" fill="url(#gpk)" stroke="#E0679E" stroke-width="0.6"/>
<circle cx="545.88" cy="218.86" r="2.6" fill="url(#gpk)" stroke="#E0679E" stroke-width="0.6"/>
<circle cx="546.87" cy="217.99" r="2.6" fill="url(#gpk)" stroke="#E0679E" stroke-width="0.6"/>
<circle cx="547.86" cy="218.43" r="2.6" fill="url(#gpk)" stroke="#E0679E" stroke-width="0.6"/>
<circle cx="548.85" cy="218.1" r="2.6" fill="url(#gpk)" stroke="#E0679E" stroke-width="0.6"/>
<circle cx="549.84" cy="215.42" r="2.6" fill="url(#gpk)" stroke="#E0679E" stroke-width="0.6"/>
<circle cx="550.83" cy="219.57" r="2.6" fill="url(#gpk)" stroke="#E0679E" stroke-width="0.6"/>
<circle cx="551.82" cy="218.96" r="2.6" fill="url(#gpk)" stroke="#E0679E" stroke-width="0.6"/>
<circle cx="552.81" cy="219.52" r="2.6" fill="url(#gpk)" stroke="#E0679E" stroke-width="0.6"/>
<circle cx="553.8" cy="218.34" r="2.6" fill="url(#gpk)" stroke="#E0679E" stroke-width="0.6"/>
<circle cx="554.79" cy="221.84" r="2.6" fill="url(#gpk)" stroke="#E0679E" stroke-width="0.6"/>
<circle cx="555.78" cy="221.32" r="2.6" fill="url(#gpk)" stroke="#E0679E" stroke-width="0.6"/>
<circle cx="556.77" cy="220.52" r="2.6" fill="url(#gpk)" stroke="#E0679E" stroke-width="0.6"/>
<circle cx="557.76" cy="219.83" r="2.6" fill="url(#gpk)" stroke="#E0679E" stroke-width="0.6"/>
<circle cx="558.75" cy="221.16" r="2.6" fill="url(#gpk)" stroke="#E0679E" stroke-width="0.6"/>
<circle cx="559.74" cy="222.26" r="2.6" fill="url(#gpk)" stroke="#E0679E" stroke-width="0.6"/>
<circle cx="560.73" cy="223.2" r="2.6" fill="url(#gpk)" stroke="#E0679E" stroke-width="0.6"/>
<circle cx="561.72" cy="221.16" r="2.6" fill="url(#gpk)" stroke="#E0679E" stroke-width="0.6"/>
<circle cx="562.71" cy="219.88" r="2.6" fill="url(#gpk)" stroke="#E0679E" stroke-width="0.6"/>
<circle cx="563.7" cy="222.12" r="2.6" fill="url(#gpk)" stroke="#E0679E" stroke-width="0.6"/>
<circle cx="564.69" cy="222.66" r="2.6" fill="url(#gpk)" stroke="#E0679E" stroke-width="0.6"/>
<circle cx="565.68" cy="222.5" r="2.6" fill="url(#gpk)" stroke="#E0679E" stroke-width="0.6"/>
<circle cx="566.67" cy="225.16" r="2.6" fill="url(#gpk)" stroke="#E0679E" stroke-width="0.6"/>
<circle cx="567.66" cy="224.35" r="2.6" fill="url(#gpk)" stroke="#E0679E" stroke-width="0.6"/>
<circle cx="568.65" cy="224.56" r="2.6" fill="url(#gpk)" stroke="#E0679E" stroke-width="0.6"/>
<circle cx="569.64" cy="223.87" r="2.6" fill="url(#gpk)" stroke="#E0679E" stroke-width="0.6"/>
<circle cx="570.63" cy="224.7" r="2.6" fill="url(#gpk)" stroke="#E0679E" stroke-width="0.6"/>
<circle cx="571.62" cy="227.01" r="2.6" fill="url(#gpk)" stroke="#E0679E" stroke-width="0.6"/>
<circle cx="572.61" cy="223.28" r="2.6" fill="url(#gpk)" stroke="#E0679E" stroke-width="0.6"/>
<circle cx="573.6" cy="222.58" r="2.6" fill="url(#gpk)" stroke="#E0679E" stroke-width="0.6"/>
<circle cx="574.59" cy="226.21" r="2.6" fill="url(#gpk)" stroke="#E0679E" stroke-width="0.6"/>
<circle cx="575.58" cy="225.35" r="2.6" fill="url(#gpk)" stroke="#E0679E" stroke-width="0.6"/>
<circle cx="576.57" cy="225.8" r="2.6" fill="url(#gpk)" stroke="#E0679E" stroke-width="0.6"/>
<circle cx="577.57" cy="225.13" r="2.6" fill="url(#gpk)" stroke="#E0679E" stroke-width="0.6"/>
<circle cx="578.56" cy="229.24" r="2.6" fill="url(#gpk)" stroke="#E0679E" stroke-width="0.6"/>
<circle cx="579.55" cy="224.15" r="2.6" fill="url(#gpk)" stroke="#E0679E" stroke-width="0.6"/>
<circle cx="580.54" cy="227.94" r="2.6" fill="url(#gpk)" stroke="#E0679E" stroke-width="0.6"/>
<circle cx="581.53" cy="225.2" r="2.6" fill="url(#gpk)" stroke="#E0679E" stroke-width="0.6"/>
<circle cx="582.52" cy="227.45" r="2.6" fill="url(#gpk)" stroke="#E0679E" stroke-width="0.6"/>
<circle cx="583.51" cy="228.47" r="2.6" fill="url(#gpk)" stroke="#E0679E" stroke-width="0.6"/>
<circle cx="584.5" cy="228.27" r="2.6" fill="url(#gpk)" stroke="#E0679E" stroke-width="0.6"/>
<circle cx="585.49" cy="226.71" r="2.6" fill="url(#gpk)" stroke="#E0679E" stroke-width="0.6"/>
<circle cx="586.48" cy="229.95" r="2.6" fill="url(#gpk)" stroke="#E0679E" stroke-width="0.6"/>
<circle cx="587.47" cy="229.33" r="2.6" fill="url(#gpk)" stroke="#E0679E" stroke-width="0.6"/>
<circle cx="588.46" cy="229.74" r="2.6" fill="url(#gpk)" stroke="#E0679E" stroke-width="0.6"/>
<circle cx="589.45" cy="232.07" r="2.6" fill="url(#gpk)" stroke="#E0679E" stroke-width="0.6"/>
<circle cx="590.44" cy="227.12" r="2.6" fill="url(#gpk)" stroke="#E0679E" stroke-width="0.6"/>
<circle cx="591.43" cy="228.52" r="2.6" fill="url(#gpk)" stroke="#E0679E" stroke-width="0.6"/>
<circle cx="592.42" cy="229.65" r="2.6" fill="url(#gpk)" stroke="#E0679E" stroke-width="0.6"/>
<circle cx="593.41" cy="227.72" r="2.6" fill="url(#gpk)" stroke="#E0679E" stroke-width="0.6"/>
<circle cx="594.4" cy="231.45" r="2.6" fill="url(#gpk)" stroke="#E0679E" stroke-width="0.6"/>
<circle cx="595.39" cy="230.04" r="2.6" fill="url(#gpk)" stroke="#E0679E" stroke-width="0.6"/>
<circle cx="596.38" cy="227.05" r="2.6" fill="url(#gpk)" stroke="#E0679E" stroke-width="0.6"/>
<circle cx="597.37" cy="228.43" r="2.6" fill="url(#gpk)" stroke="#E0679E" stroke-width="0.6"/>
<circle cx="598.36" cy="234.03" r="2.6" fill="url(#gpk)" stroke="#E0679E" stroke-width="0.6"/>
<circle cx="599.35" cy="236.02" r="2.6" fill="url(#gpk)" stroke="#E0679E" stroke-width="0.6"/>
<circle cx="600.34" cy="232.19" r="2.6" fill="url(#gpk)" stroke="#E0679E" stroke-width="0.6"/>
<circle cx="601.33" cy="228.69" r="2.6" fill="url(#gpk)" stroke="#E0679E" stroke-width="0.6"/>
<circle cx="602.32" cy="231.42" r="2.6" fill="url(#gpk)" stroke="#E0679E" stroke-width="0.6"/>
<circle cx="603.31" cy="231.12" r="2.6" fill="url(#gpk)" stroke="#E0679E" stroke-width="0.6"/>
<circle cx="604.3" cy="229.85" r="2.6" fill="url(#gpk)" stroke="#E0679E" stroke-width="0.6"/>
<circle cx="605.29" cy="232.55" r="2.6" fill="url(#gpk)" stroke="#E0679E" stroke-width="0.6"/>
<circle cx="606.28" cy="230.81" r="2.6" fill="url(#gpk)" stroke="#E0679E" stroke-width="0.6"/>
<circle cx="607.27" cy="229.96" r="2.6" fill="url(#gpk)" stroke="#E0679E" stroke-width="0.6"/>
<circle cx="608.26" cy="230.66" r="2.6" fill="url(#gpk)" stroke="#E0679E" stroke-width="0.6"/>
<circle cx="609.25" cy="230.92" r="2.6" fill="url(#gpk)" stroke="#E0679E" stroke-width="0.6"/>
<circle cx="610.24" cy="232.77" r="2.6" fill="url(#gpk)" stroke="#E0679E" stroke-width="0.6"/>
<circle cx="611.23" cy="231" r="2.6" fill="url(#gpk)" stroke="#E0679E" stroke-width="0.6"/>
<circle cx="612.22" cy="232.76" r="2.6" fill="url(#gpk)" stroke="#E0679E" stroke-width="0.6"/>
<circle cx="613.21" cy="229.93" r="2.6" fill="url(#gpk)" stroke="#E0679E" stroke-width="0.6"/>
<circle cx="614.2" cy="227.9" r="2.6" fill="url(#gpk)" stroke="#E0679E" stroke-width="0.6"/>
<circle cx="615.19" cy="233.72" r="2.6" fill="url(#gpk)" stroke="#E0679E" stroke-width="0.6"/>
<circle cx="616.18" cy="236.32" r="2.6" fill="url(#gpk)" stroke="#E0679E" stroke-width="0.6"/>
<circle cx="617.17" cy="233.46" r="2.6" fill="url(#gpk)" stroke="#E0679E" stroke-width="0.6"/>
<circle cx="618.16" cy="232.23" r="2.6" fill="url(#gpk)" stroke="#E0679E" stroke-width="0.6"/>
<circle cx="619.15" cy="231.21" r="2.6" fill="url(#gpk)" stroke="#E0679E" stroke-width="0.6"/>
<circle cx="620.14" cy="231.31" r="2.6" fill="url(#gpk)" stroke="#E0679E" stroke-width="0.6"/>
<circle cx="621.13" cy="234.66" r="2.6" fill="url(#gpk)" stroke="#E0679E" stroke-width="0.6"/>
<circle cx="622.12" cy="234.83" r="2.6" fill="url(#gpk)" stroke="#E0679E" stroke-width="0.6"/>
<circle cx="623.11" cy="231.44" r="2.6" fill="url(#gpk)" stroke="#E0679E" stroke-width="0.6"/>
<circle cx="624.1" cy="235.64" r="2.6" fill="url(#gpk)" stroke="#E0679E" stroke-width="0.6"/>
<circle cx="625.09" cy="232.05" r="2.6" fill="url(#gpk)" stroke="#E0679E" stroke-width="0.6"/>
<circle cx="626.08" cy="234.46" r="2.6" fill="url(#gpk)" stroke="#E0679E" stroke-width="0.6"/>
<circle cx="627.08" cy="232.91" r="2.6" fill="url(#gpk)" stroke="#E0679E" stroke-width="0.6"/>
<circle cx="628.07" cy="233.17" r="2.6" fill="url(#gpk)" stroke="#E0679E" stroke-width="0.6"/>
<circle cx="629.06" cy="233.2" r="2.6" fill="url(#gpk)" stroke="#E0679E" stroke-width="0.6"/>
<circle cx="630.05" cy="233.28" r="2.6" fill="url(#gpk)" stroke="#E0679E" stroke-width="0.6"/>
<circle cx="631.04" cy="236.53" r="2.6" fill="url(#gpk)" stroke="#E0679E" stroke-width="0.6"/>
<circle cx="632.03" cy="234.48" r="2.6" fill="url(#gpk)" stroke="#E0679E" stroke-width="0.6"/>
<circle cx="633.02" cy="235.12" r="2.6" fill="url(#gpk)" stroke="#E0679E" stroke-width="0.6"/>
<circle cx="634.01" cy="234.77" r="2.6" fill="url(#gpk)" stroke="#E0679E" stroke-width="0.6"/>
<circle cx="635" cy="233.33" r="2.6" fill="url(#gpk)" stroke="#E0679E" stroke-width="0.6"/>
<circle cx="635.99" cy="236.06" r="2.6" fill="url(#gpk)" stroke="#E0679E" stroke-width="0.6"/>
<circle cx="636.98" cy="236.97" r="2.6" fill="url(#gpk)" stroke="#E0679E" stroke-width="0.6"/>
<circle cx="637.97" cy="237.19" r="2.6" fill="url(#gpk)" stroke="#E0679E" stroke-width="0.6"/>
<circle cx="638.96" cy="236.66" r="2.6" fill="url(#gpk)" stroke="#E0679E" stroke-width="0.6"/>
<circle cx="639.95" cy="235.03" r="2.6" fill="url(#gpk)" stroke="#E0679E" stroke-width="0.6"/>
<circle cx="640.94" cy="237.91" r="2.6" fill="url(#gpk)" stroke="#E0679E" stroke-width="0.6"/>
<circle cx="641.93" cy="234.72" r="2.6" fill="url(#gpk)" stroke="#E0679E" stroke-width="0.6"/>
<circle cx="642.92" cy="236.4" r="2.6" fill="url(#gpk)" stroke="#E0679E" stroke-width="0.6"/>
<circle cx="643.91" cy="237.47" r="2.6" fill="url(#gpk)" stroke="#E0679E" stroke-width="0.6"/>
<circle cx="644.9" cy="239.56" r="2.6" fill="url(#gpk)" stroke="#E0679E" stroke-width="0.6"/>
<circle cx="645.89" cy="237.05" r="2.6" fill="url(#gpk)" stroke="#E0679E" stroke-width="0.6"/>
<circle cx="646.88" cy="236.47" r="2.6" fill="url(#gpk)" stroke="#E0679E" stroke-width="0.6"/>
<circle cx="647.87" cy="240.87" r="2.6" fill="url(#gpk)" stroke="#E0679E" stroke-width="0.6"/>
<circle cx="648.86" cy="235.99" r="2.6" fill="url(#gpk)" stroke="#E0679E" stroke-width="0.6"/>
<circle cx="649.85" cy="235.4" r="2.6" fill="url(#gpk)" stroke="#E0679E" stroke-width="0.6"/>
<circle cx="650.84" cy="237.84" r="2.6" fill="url(#gpk)" stroke="#E0679E" stroke-width="0.6"/>
<circle cx="651.83" cy="237.77" r="2.6" fill="url(#gpk)" stroke="#E0679E" stroke-width="0.6"/>
<circle cx="652.82" cy="234.72" r="2.6" fill="url(#gpk)" stroke="#E0679E" stroke-width="0.6"/>
<circle cx="653.81" cy="236.99" r="2.6" fill="url(#gpk)" stroke="#E0679E" stroke-width="0.6"/>
<circle cx="654.8" cy="240.89" r="2.6" fill="url(#gpk)" stroke="#E0679E" stroke-width="0.6"/>
<circle cx="655.79" cy="239.63" r="2.6" fill="url(#gpk)" stroke="#E0679E" stroke-width="0.6"/>
<circle cx="656.78" cy="240.12" r="2.6" fill="url(#gpk)" stroke="#E0679E" stroke-width="0.6"/>
<circle cx="657.77" cy="240.35" r="2.6" fill="url(#gpk)" stroke="#E0679E" stroke-width="0.6"/>
<circle cx="658.76" cy="244.4" r="2.6" fill="url(#gpk)" stroke="#E0679E" stroke-width="0.6"/>
<circle cx="659.75" cy="239.29" r="2.6" fill="url(#gpk)" stroke="#E0679E" stroke-width="0.6"/>
<circle cx="660.74" cy="241.93" r="2.6" fill="url(#gpk)" stroke="#E0679E" stroke-width="0.6"/>
<circle cx="661.73" cy="240.8" r="2.6" fill="url(#gpk)" stroke="#E0679E" stroke-width="0.6"/>
<circle cx="662.72" cy="241.55" r="2.6" fill="url(#gpk)" stroke="#E0679E" stroke-width="0.6"/>
<circle cx="663.71" cy="240.05" r="2.6" fill="url(#gpk)" stroke="#E0679E" stroke-width="0.6"/>
<circle cx="664.7" cy="242.28" r="2.6" fill="url(#gpk)" stroke="#E0679E" stroke-width="0.6"/>
<circle cx="665.69" cy="243.36" r="2.6" fill="url(#gpk)" stroke="#E0679E" stroke-width="0.6"/>
<circle cx="666.68" cy="241.32" r="2.6" fill="url(#gpk)" stroke="#E0679E" stroke-width="0.6"/>
<circle cx="667.67" cy="240.05" r="2.6" fill="url(#gpk)" stroke="#E0679E" stroke-width="0.6"/>
<circle cx="668.66" cy="243.23" r="2.6" fill="url(#gpk)" stroke="#E0679E" stroke-width="0.6"/>
<circle cx="669.65" cy="240.57" r="2.6" fill="url(#gpk)" stroke="#E0679E" stroke-width="0.6"/>
<circle cx="670.64" cy="242.69" r="2.6" fill="url(#gpk)" stroke="#E0679E" stroke-width="0.6"/>
<circle cx="671.63" cy="244.28" r="2.6" fill="url(#gpk)" stroke="#E0679E" stroke-width="0.6"/>
<circle cx="672.62" cy="240.98" r="2.6" fill="url(#gpk)" stroke="#E0679E" stroke-width="0.6"/>
<circle cx="673.61" cy="245.23" r="2.6" fill="url(#gpk)" stroke="#E0679E" stroke-width="0.6"/>
</g>
<rect x="500.7" y="199.3" width="178.5" height="142.7" fill="none" stroke="#000" stroke-width="1.1"/>
<line x1="497.7" y1="342.05" x2="500.7" y2="342.05" stroke="#000" stroke-width="1.1"/>
<text x="496.3" y="344.65" font-size="7.5" text-anchor="end" font-weight="bold" fill="#000">0.3</text>
<line x1="497.7" y1="323" x2="500.7" y2="323" stroke="#000" stroke-width="1.1"/>
<text x="496.3" y="325.6" font-size="7.5" text-anchor="end" font-weight="bold" fill="#000">0.4</text>
<line x1="497.7" y1="303.95" x2="500.7" y2="303.95" stroke="#000" stroke-width="1.1"/>
<text x="496.3" y="306.55" font-size="7.5" text-anchor="end" font-weight="bold" fill="#000">0.5</text>
<line x1="497.7" y1="284.9" x2="500.7" y2="284.9" stroke="#000" stroke-width="1.1"/>
<text x="496.3" y="287.5" font-size="7.5" text-anchor="end" font-weight="bold" fill="#000">0.6</text>
<line x1="497.7" y1="265.85" x2="500.7" y2="265.85" stroke="#000" stroke-width="1.1"/>
<text x="496.3" y="268.45" font-size="7.5" text-anchor="end" font-weight="bold" fill="#000">0.7</text>
<line x1="497.7" y1="246.8" x2="500.7" y2="246.8" stroke="#000" stroke-width="1.1"/>
<text x="496.3" y="249.4" font-size="7.5" text-anchor="end" font-weight="bold" fill="#000">0.8</text>
<line x1="497.7" y1="227.75" x2="500.7" y2="227.75" stroke="#000" stroke-width="1.1"/>
<text x="496.3" y="230.35" font-size="7.5" text-anchor="end" font-weight="bold" fill="#000">0.9</text>
<line x1="497.7" y1="208.7" x2="500.7" y2="208.7" stroke="#000" stroke-width="1.1"/>
<text x="496.3" y="211.3" font-size="7.5" text-anchor="end" font-weight="bold" fill="#000">1.0</text>
<line x1="499.1" y1="332.52" x2="500.7" y2="332.52" stroke="#000" stroke-width="1.1"/>
<line x1="499.1" y1="313.48" x2="500.7" y2="313.48" stroke="#000" stroke-width="1.1"/>
<line x1="499.1" y1="294.42" x2="500.7" y2="294.42" stroke="#000" stroke-width="1.1"/>
<line x1="499.1" y1="275.38" x2="500.7" y2="275.38" stroke="#000" stroke-width="1.1"/>
<line x1="499.1" y1="256.32" x2="500.7" y2="256.32" stroke="#000" stroke-width="1.1"/>
<line x1="499.1" y1="237.27" x2="500.7" y2="237.27" stroke="#000" stroke-width="1.1"/>
<line x1="499.1" y1="218.22" x2="500.7" y2="218.22" stroke="#000" stroke-width="1.1"/>
<line x1="503.5" y1="342" x2="503.5" y2="345" stroke="#000" stroke-width="1.1"/>
<text x="503.5" y="353.4" font-size="7.2" text-anchor="middle" font-weight="bold" fill="#000">0</text>
<line x1="528.57" y1="342" x2="528.57" y2="345" stroke="#000" stroke-width="1.1"/>
<text x="528.57" y="353.4" font-size="7.2" text-anchor="middle" font-weight="bold" fill="#000">50</text>
<line x1="553.64" y1="342" x2="553.64" y2="345" stroke="#000" stroke-width="1.1"/>
<text x="553.64" y="353.4" font-size="7.2" text-anchor="middle" font-weight="bold" fill="#000">100</text>
<line x1="578.71" y1="342" x2="578.71" y2="345" stroke="#000" stroke-width="1.1"/>
<text x="578.71" y="353.4" font-size="7.2" text-anchor="middle" font-weight="bold" fill="#000">150</text>
<line x1="603.78" y1="342" x2="603.78" y2="345" stroke="#000" stroke-width="1.1"/>
<text x="603.78" y="353.4" font-size="7.2" text-anchor="middle" font-weight="bold" fill="#000">200</text>
<line x1="628.85" y1="342" x2="628.85" y2="345" stroke="#000" stroke-width="1.1"/>
<text x="628.85" y="353.4" font-size="7.2" text-anchor="middle" font-weight="bold" fill="#000">250</text>
<line x1="653.92" y1="342" x2="653.92" y2="345" stroke="#000" stroke-width="1.1"/>
<text x="653.92" y="353.4" font-size="7.2" text-anchor="middle" font-weight="bold" fill="#000">300</text>
<line x1="678.99" y1="342" x2="678.99" y2="345" stroke="#000" stroke-width="1.1"/>
<text x="678.99" y="353.4" font-size="7.2" text-anchor="middle" font-weight="bold" fill="#000">350</text>
<line x1="516.03" y1="342" x2="516.03" y2="343.6" stroke="#000" stroke-width="1.1"/>
<line x1="541.11" y1="342" x2="541.11" y2="343.6" stroke="#000" stroke-width="1.1"/>
<line x1="566.17" y1="342" x2="566.17" y2="343.6" stroke="#000" stroke-width="1.1"/>
<line x1="591.25" y1="342" x2="591.25" y2="343.6" stroke="#000" stroke-width="1.1"/>
<line x1="616.31" y1="342" x2="616.31" y2="343.6" stroke="#000" stroke-width="1.1"/>
<line x1="641.38" y1="342" x2="641.38" y2="343.6" stroke="#000" stroke-width="1.1"/>
<line x1="666.45" y1="342" x2="666.45" y2="343.6" stroke="#000" stroke-width="1.1"/>
<text x="590.1" y="367.5" font-size="9.4" text-anchor="middle" font-weight="bold" fill="#000">Time (h)</text>
<text x="481.6" y="270.3" font-size="9.4" text-anchor="middle" font-weight="bold" fill="#000" transform="rotate(-90 481.6 270.3)">Normalized PCE</text>
<text x="676.6" y="230.2" font-size="9.5" text-anchor="end" font-weight="bold" fill="#000">82.07%</text>
<text x="676.6" y="276.7" font-size="9.5" text-anchor="end" font-weight="bold" fill="#000">59.60%</text>
<text x="676.6" y="299.5" font-size="9.5" text-anchor="end" font-weight="bold" fill="#000">46.71%</text>
<polygon points="517,311.5 520.2,308.3 523.4,311.5 520.2,314.7" fill="#fff" stroke="#F4A46C" stroke-width="0.8"/>
<polygon points="517,311.5 520.2,308.3 523.4,311.5" fill="#F4A46C" stroke="#F4A46C" stroke-width="0.8" stroke-linejoin="round"/>
<rect x="517.8" y="320.3" width="4.8" height="4.8" fill="#fff" stroke="#45A9C8" stroke-width="0.8"/>
<rect x="517.8" y="320.3" width="4.8" height="2.4" fill="#45A9C8" stroke="#45A9C8" stroke-width="0.8"/>
<circle cx="520.2" cy="333.9" r="2.9" fill="url(#gpk)" stroke="#E0679E" stroke-width="0.7"/>
<text x="535" y="314.4" font-size="8.8" text-anchor="start" font-weight="bold" fill="#000">PM6:BTP-eC9</text>
<text x="535" y="325.6" font-size="8.8" text-anchor="start" font-weight="bold" fill="#000">PM6:<tspan font-style="italic">Z</tspan>-IFC-IC-Cl</text>
<text x="535" y="336.8" font-size="8.8" text-anchor="start" font-weight="bold" fill="#000">PM6:<tspan font-style="italic">E</tspan>-IFC-IC-Cl</text>
</svg>
</body></html>
